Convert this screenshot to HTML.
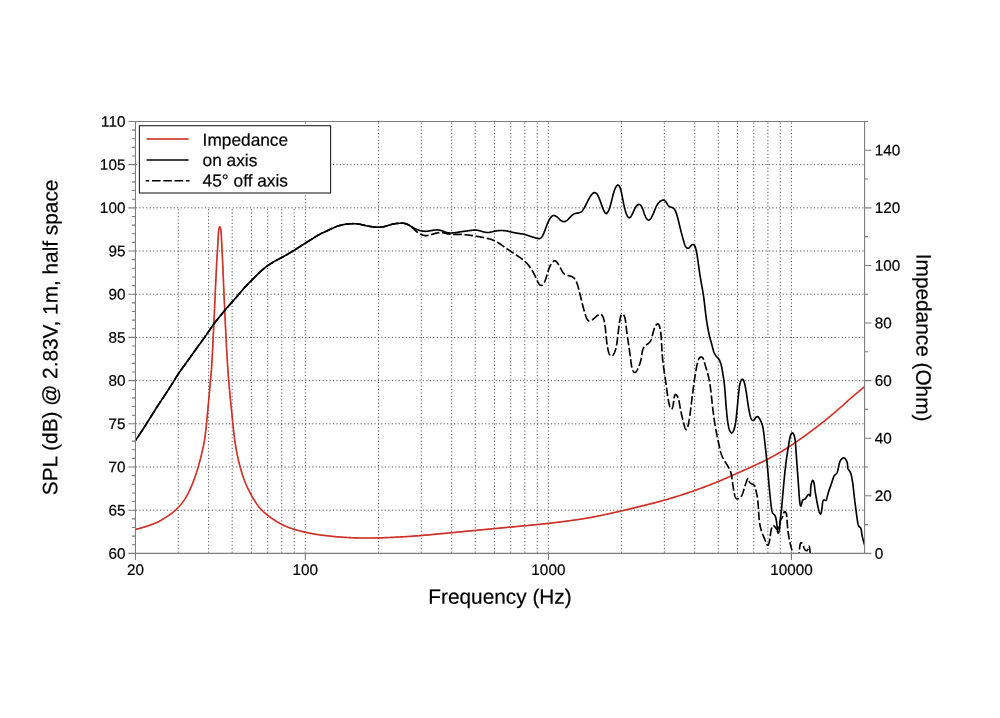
<!DOCTYPE html>
<html lang="en"><head><meta charset="utf-8"><title>Frequency response</title>
<style>html,body{margin:0;padding:0;background:#fff}body{width:1000px;height:718px;overflow:hidden}svg{display:block}text{font-family:'Liberation Sans', sans-serif;fill:#000}</style></head><body>
<svg width="1000" height="718" viewBox="0 0 1000 718">
<rect x="0" y="0" width="1000" height="718" fill="#ffffff"/>
<defs><clipPath id="plot"><rect x="135.45" y="121.45" width="729.15" height="432.25"/></clipPath></defs>
<path d="M135.75,510.20 H863.60 M135.75,467.01 H863.60 M135.75,423.81 H863.60 M135.75,380.62 H863.60 M135.75,337.42 H863.60 M135.75,294.23 H863.60 M135.75,251.03 H863.60 M135.75,207.84 H863.60 M135.75,164.64 H863.60" fill="none" stroke="#505050" stroke-width="1" stroke-dasharray="1.15 2.31"/>
<path d="M178.25,552.70 V208.44 M208.62,552.70 V208.44 M232.17,552.70 V208.44 M251.41,552.70 V208.44 M267.69,552.70 V208.44 M281.78,552.70 V208.44 M294.21,552.70 V208.44 M305.33,552.70 V122.25 M378.50,552.70 V122.25 M421.30,552.70 V122.25 M451.67,552.70 V122.25 M475.22,552.70 V122.25 M494.46,552.70 V122.25 M510.74,552.70 V122.25 M524.83,552.70 V122.25 M537.26,552.70 V122.25 M548.38,552.70 V122.25 M621.55,552.70 V122.25 M664.35,552.70 V122.25 M694.72,552.70 V122.25 M718.27,552.70 V122.25 M737.51,552.70 V122.25 M753.79,552.70 V122.25 M767.88,552.70 V122.25 M780.31,552.70 V122.25 M791.43,552.70 V122.25" fill="none" stroke="#505050" stroke-width="1" stroke-dasharray="1.15 2.31"/>
<g clip-path="url(#plot)" fill="none" stroke-linejoin="round">
<path d="M135.35,529.40 L135.75,529.31 L136.15,529.23 L136.55,529.14 L136.95,529.04 L137.35,528.95 L137.76,528.85 L138.16,528.76 L138.57,528.66 L138.98,528.55 L139.38,528.45 L139.79,528.34 L140.20,528.23 L140.62,528.12 L141.03,528.01 L141.44,527.90 L141.85,527.78 L142.27,527.67 L142.68,527.55 L143.10,527.43 L143.51,527.31 L143.92,527.18 L144.34,527.06 L144.75,526.93 L145.17,526.80 L145.58,526.67 L146.00,526.54 L146.41,526.41 L146.83,526.27 L147.24,526.14 L147.65,526.00 L148.07,525.87 L148.48,525.73 L148.89,525.59 L149.30,525.44 L149.71,525.30 L150.12,525.16 L150.52,525.01 L150.93,524.87 L151.34,524.72 L151.74,524.57 L152.14,524.42 L152.55,524.27 L152.95,524.12 L153.35,523.96 L153.75,523.80 L154.15,523.64 L154.55,523.48 L154.94,523.31 L155.34,523.14 L155.73,522.97 L156.13,522.79 L156.52,522.62 L156.91,522.44 L157.30,522.25 L157.69,522.06 L158.08,521.87 L158.47,521.67 L158.86,521.48 L159.25,521.27 L159.64,521.07 L160.02,520.86 L160.41,520.65 L160.80,520.43 L161.19,520.22 L161.57,519.99 L161.96,519.77 L162.35,519.54 L162.73,519.31 L163.12,519.08 L163.51,518.85 L163.90,518.61 L164.28,518.37 L164.67,518.13 L165.06,517.88 L165.45,517.64 L165.84,517.39 L166.23,517.14 L166.62,516.89 L167.01,516.63 L167.40,516.38 L167.78,516.12 L168.16,515.86 L168.55,515.60 L168.92,515.34 L169.30,515.08 L169.67,514.82 L170.04,514.55 L170.40,514.29 L170.76,514.03 L171.12,513.76 L171.47,513.50 L171.81,513.24 L172.15,512.97 L172.49,512.71 L172.82,512.45 L173.15,512.18 L173.47,511.92 L173.79,511.65 L174.10,511.38 L174.41,511.11 L174.72,510.84 L175.02,510.57 L175.33,510.30 L175.62,510.02 L175.92,509.75 L176.22,509.47 L176.51,509.18 L176.80,508.90 L177.09,508.61 L177.38,508.32 L177.67,508.02 L177.95,507.73 L178.24,507.43 L178.52,507.13 L178.80,506.82 L179.08,506.51 L179.36,506.20 L179.63,505.89 L179.91,505.58 L180.18,505.26 L180.45,504.94 L180.72,504.62 L180.99,504.30 L181.26,503.98 L181.52,503.65 L181.78,503.32 L182.04,503.00 L182.30,502.67 L182.55,502.34 L182.81,502.00 L183.06,501.67 L183.30,501.33 L183.55,500.99 L183.79,500.65 L184.04,500.31 L184.27,499.97 L184.51,499.62 L184.74,499.28 L184.98,498.93 L185.20,498.58 L185.43,498.22 L185.65,497.87 L185.87,497.51 L186.09,497.15 L186.31,496.78 L186.52,496.42 L186.73,496.05 L186.94,495.68 L187.14,495.31 L187.34,494.94 L187.54,494.56 L187.74,494.19 L187.94,493.81 L188.13,493.43 L188.32,493.05 L188.51,492.67 L188.70,492.28 L188.89,491.90 L189.07,491.51 L189.25,491.13 L189.43,490.74 L189.61,490.35 L189.79,489.96 L189.97,489.58 L190.15,489.19 L190.32,488.80 L190.50,488.40 L190.67,488.01 L190.84,487.62 L191.01,487.22 L191.18,486.83 L191.35,486.43 L191.52,486.03 L191.69,485.63 L191.86,485.23 L192.02,484.82 L192.19,484.41 L192.36,484.01 L192.52,483.59 L192.69,483.18 L192.85,482.77 L193.02,482.35 L193.18,481.93 L193.34,481.51 L193.50,481.09 L193.66,480.67 L193.82,480.24 L193.98,479.82 L194.14,479.40 L194.30,478.98 L194.45,478.56 L194.60,478.14 L194.76,477.72 L194.90,477.30 L195.05,476.89 L195.20,476.47 L195.34,476.06 L195.48,475.65 L195.62,475.25 L195.76,474.84 L195.89,474.44 L196.02,474.05 L196.15,473.65 L196.28,473.26 L196.41,472.87 L196.53,472.48 L196.65,472.10 L196.77,471.71 L196.89,471.33 L197.01,470.95 L197.13,470.57 L197.24,470.19 L197.36,469.81 L197.47,469.43 L197.58,469.06 L197.69,468.68 L197.80,468.31 L197.91,467.93 L198.02,467.56 L198.13,467.19 L198.24,466.81 L198.34,466.44 L198.45,466.07 L198.55,465.70 L198.66,465.33 L198.76,464.96 L198.86,464.59 L198.97,464.22 L199.07,463.85 L199.17,463.48 L199.27,463.11 L199.37,462.74 L199.47,462.38 L199.57,462.01 L199.67,461.64 L199.77,461.27 L199.87,460.89 L199.97,460.52 L200.07,460.14 L200.17,459.76 L200.27,459.37 L200.37,458.98 L200.47,458.59 L200.57,458.19 L200.67,457.78 L200.78,457.37 L200.89,456.95 L200.99,456.53 L201.10,456.10 L201.21,455.66 L201.32,455.21 L201.43,454.76 L201.55,454.30 L201.66,453.84 L201.77,453.37 L201.88,452.90 L202.00,452.42 L202.11,451.95 L202.22,451.47 L202.34,450.99 L202.45,450.51 L202.56,450.03 L202.66,449.55 L202.77,449.07 L202.88,448.59 L202.98,448.12 L203.08,447.65 L203.18,447.18 L203.28,446.71 L203.38,446.25 L203.47,445.79 L203.56,445.34 L203.65,444.88 L203.74,444.43 L203.82,443.98 L203.91,443.53 L203.99,443.08 L204.07,442.62 L204.15,442.17 L204.23,441.72 L204.30,441.26 L204.38,440.80 L204.45,440.34 L204.53,439.87 L204.60,439.40 L204.68,438.93 L204.75,438.45 L204.82,437.96 L204.89,437.47 L204.96,436.98 L205.03,436.48 L205.10,435.97 L205.17,435.47 L205.24,434.96 L205.31,434.45 L205.38,433.94 L205.44,433.43 L205.51,432.93 L205.57,432.42 L205.63,431.92 L205.70,431.43 L205.76,430.94 L205.81,430.45 L205.87,429.98 L205.93,429.51 L205.98,429.05 L206.03,428.60 L206.08,428.16 L206.13,427.73 L206.18,427.31 L206.22,426.90 L206.26,426.49 L206.31,426.10 L206.35,425.71 L206.39,425.32 L206.43,424.93 L206.46,424.54 L206.50,424.15 L206.54,423.75 L206.58,423.36 L206.62,422.95 L206.66,422.54 L206.70,422.12 L206.74,421.68 L206.78,421.24 L206.82,420.78 L206.86,420.30 L206.91,419.81 L206.96,419.31 L207.00,418.80 L207.05,418.27 L207.10,417.74 L207.15,417.20 L207.20,416.64 L207.25,416.09 L207.31,415.52 L207.36,414.95 L207.41,414.37 L207.47,413.79 L207.52,413.20 L207.57,412.62 L207.63,412.03 L207.68,411.44 L207.74,410.85 L207.79,410.26 L207.85,409.67 L207.90,409.09 L207.95,408.51 L208.01,407.93 L208.06,407.36 L208.11,406.80 L208.16,406.24 L208.22,405.68 L208.27,405.12 L208.32,404.57 L208.37,404.02 L208.42,403.47 L208.47,402.93 L208.52,402.38 L208.57,401.84 L208.62,401.29 L208.67,400.74 L208.72,400.20 L208.77,399.65 L208.83,399.10 L208.88,398.55 L208.93,397.99 L208.98,397.43 L209.03,396.87 L209.08,396.30 L209.13,395.73 L209.19,395.15 L209.24,394.57 L209.29,393.98 L209.35,393.38 L209.40,392.79 L209.45,392.18 L209.51,391.58 L209.56,390.97 L209.62,390.37 L209.67,389.76 L209.73,389.15 L209.78,388.54 L209.83,387.94 L209.89,387.33 L209.94,386.73 L209.99,386.13 L210.05,385.54 L210.10,384.95 L210.15,384.36 L210.20,383.78 L210.26,383.21 L210.31,382.64 L210.36,382.08 L210.41,381.54 L210.46,381.00 L210.50,380.47 L210.55,379.95 L210.60,379.44 L210.64,378.93 L210.69,378.44 L210.73,377.95 L210.78,377.46 L210.82,376.98 L210.86,376.50 L210.91,376.02 L210.95,375.55 L210.99,375.07 L211.03,374.59 L211.07,374.10 L211.11,373.61 L211.16,373.12 L211.20,372.62 L211.24,372.11 L211.28,371.59 L211.32,371.06 L211.36,370.52 L211.40,369.96 L211.44,369.39 L211.49,368.81 L211.53,368.22 L211.57,367.62 L211.61,367.00 L211.66,366.38 L211.70,365.75 L211.74,365.10 L211.78,364.45 L211.82,363.80 L211.87,363.13 L211.91,362.46 L211.95,361.79 L211.99,361.11 L212.03,360.43 L212.07,359.75 L212.11,359.06 L212.15,358.38 L212.19,357.69 L212.23,357.00 L212.27,356.32 L212.31,355.63 L212.34,354.95 L212.38,354.27 L212.42,353.60 L212.45,352.93 L212.49,352.26 L212.52,351.61 L212.55,350.95 L212.59,350.31 L212.62,349.67 L212.65,349.04 L212.68,348.41 L212.71,347.78 L212.74,347.17 L212.76,346.55 L212.79,345.95 L212.82,345.34 L212.85,344.74 L212.87,344.15 L212.90,343.56 L212.93,342.97 L212.95,342.39 L212.98,341.81 L213.01,341.23 L213.03,340.66 L213.06,340.08 L213.08,339.52 L213.11,338.95 L213.14,338.38 L213.16,337.82 L213.19,337.26 L213.21,336.70 L213.24,336.14 L213.27,335.58 L213.30,335.03 L213.32,334.47 L213.35,333.91 L213.38,333.35 L213.41,332.79 L213.43,332.23 L213.46,331.67 L213.49,331.11 L213.52,330.54 L213.55,329.97 L213.58,329.40 L213.61,328.82 L213.64,328.24 L213.67,327.66 L213.70,327.07 L213.73,326.48 L213.76,325.88 L213.79,325.28 L213.82,324.67 L213.85,324.05 L213.88,323.43 L213.91,322.80 L213.94,322.16 L213.97,321.52 L214.00,320.87 L214.03,320.21 L214.06,319.55 L214.10,318.88 L214.13,318.21 L214.16,317.53 L214.19,316.85 L214.22,316.16 L214.25,315.47 L214.28,314.78 L214.31,314.08 L214.35,313.38 L214.38,312.68 L214.41,311.97 L214.44,311.26 L214.47,310.56 L214.50,309.84 L214.53,309.13 L214.56,308.42 L214.60,307.71 L214.63,306.99 L214.66,306.28 L214.69,305.57 L214.72,304.86 L214.75,304.15 L214.78,303.44 L214.81,302.73 L214.84,302.03 L214.87,301.32 L214.90,300.62 L214.93,299.92 L214.96,299.23 L214.99,298.54 L215.02,297.85 L215.05,297.16 L215.08,296.48 L215.11,295.80 L215.14,295.13 L215.17,294.46 L215.20,293.79 L215.23,293.13 L215.26,292.47 L215.29,291.82 L215.32,291.18 L215.34,290.54 L215.37,289.90 L215.40,289.27 L215.43,288.65 L215.46,288.03 L215.49,287.42 L215.51,286.81 L215.54,286.22 L215.57,285.63 L215.60,285.04 L215.63,284.47 L215.65,283.90 L215.68,283.33 L215.71,282.78 L215.73,282.23 L215.76,281.68 L215.79,281.14 L215.82,280.60 L215.84,280.07 L215.87,279.54 L215.90,279.01 L215.92,278.48 L215.95,277.96 L215.98,277.44 L216.00,276.92 L216.03,276.40 L216.06,275.88 L216.08,275.36 L216.11,274.83 L216.13,274.31 L216.16,273.79 L216.19,273.26 L216.21,272.73 L216.24,272.20 L216.27,271.67 L216.29,271.13 L216.32,270.59 L216.34,270.05 L216.37,269.51 L216.40,268.97 L216.42,268.43 L216.45,267.89 L216.48,267.34 L216.50,266.80 L216.53,266.26 L216.56,265.72 L216.58,265.18 L216.61,264.64 L216.64,264.11 L216.66,263.58 L216.69,263.05 L216.72,262.52 L216.75,261.99 L216.77,261.47 L216.80,260.96 L216.83,260.44 L216.86,259.93 L216.89,259.43 L216.92,258.92 L216.94,258.43 L216.97,257.93 L217.00,257.44 L217.03,256.94 L217.06,256.46 L217.09,255.97 L217.12,255.49 L217.15,255.00 L217.18,254.52 L217.21,254.04 L217.24,253.56 L217.27,253.09 L217.30,252.61 L217.33,252.13 L217.36,251.66 L217.39,251.18 L217.42,250.71 L217.45,250.23 L217.48,249.76 L217.51,249.28 L217.54,248.80 L217.57,248.32 L217.60,247.84 L217.63,247.36 L217.66,246.88 L217.69,246.40 L217.72,245.91 L217.75,245.42 L217.77,244.93 L217.80,244.44 L217.83,243.95 L217.86,243.45 L217.89,242.95 L217.92,242.45 L217.95,241.95 L217.98,241.44 L218.00,240.93 L218.03,240.41 L218.06,239.90 L218.09,239.38 L218.12,238.86 L218.14,238.34 L218.17,237.83 L218.20,237.31 L218.23,236.81 L218.26,236.30 L218.29,235.81 L218.32,235.32 L218.35,234.84 L218.38,234.37 L218.41,233.91 L218.44,233.46 L218.47,233.02 L218.50,232.60 L218.54,232.20 L218.57,231.80 L218.61,231.43 L218.64,231.08 L218.68,230.74 L218.72,230.41 L218.76,230.10 L218.80,229.81 L218.85,229.52 L218.90,229.25 L218.95,228.98 L219.01,228.73 L219.07,228.48 L219.13,228.24 L219.20,228.00 L219.27,227.77 L219.35,227.55 L219.43,227.35 L219.52,227.18 L219.60,227.04 L219.69,226.94 L219.78,226.90 L219.87,226.92 L219.96,226.99 L220.04,227.10 L220.13,227.26 L220.21,227.45 L220.29,227.66 L220.37,227.89 L220.44,228.12 L220.50,228.36 L220.56,228.61 L220.62,228.86 L220.68,229.12 L220.73,229.39 L220.77,229.67 L220.82,229.96 L220.86,230.26 L220.90,230.58 L220.94,230.91 L220.98,231.26 L221.01,231.62 L221.05,232.01 L221.08,232.40 L221.12,232.82 L221.15,233.25 L221.18,233.69 L221.21,234.14 L221.25,234.61 L221.28,235.09 L221.31,235.57 L221.34,236.06 L221.37,236.56 L221.39,237.07 L221.42,237.58 L221.45,238.09 L221.48,238.61 L221.50,239.13 L221.53,239.65 L221.56,240.16 L221.58,240.68 L221.61,241.19 L221.64,241.70 L221.66,242.21 L221.69,242.71 L221.71,243.21 L221.74,243.71 L221.76,244.21 L221.78,244.70 L221.81,245.19 L221.83,245.68 L221.86,246.16 L221.88,246.65 L221.91,247.13 L221.93,247.61 L221.95,248.09 L221.98,248.57 L222.00,249.05 L222.03,249.53 L222.05,250.00 L222.07,250.48 L222.10,250.96 L222.12,251.43 L222.15,251.91 L222.17,252.38 L222.20,252.86 L222.22,253.34 L222.24,253.82 L222.27,254.29 L222.29,254.78 L222.32,255.26 L222.34,255.74 L222.37,256.23 L222.39,256.71 L222.42,257.20 L222.44,257.70 L222.47,258.19 L222.49,258.69 L222.51,259.19 L222.54,259.69 L222.56,260.20 L222.59,260.71 L222.61,261.23 L222.63,261.75 L222.66,262.27 L222.68,262.80 L222.70,263.33 L222.73,263.86 L222.75,264.39 L222.77,264.93 L222.80,265.47 L222.82,266.01 L222.84,266.55 L222.86,267.09 L222.88,267.63 L222.91,268.17 L222.93,268.72 L222.95,269.26 L222.97,269.80 L222.99,270.34 L223.02,270.88 L223.04,271.42 L223.06,271.95 L223.08,272.48 L223.10,273.01 L223.12,273.54 L223.14,274.07 L223.16,274.59 L223.19,275.11 L223.21,275.63 L223.23,276.15 L223.25,276.67 L223.27,277.20 L223.29,277.72 L223.31,278.24 L223.34,278.76 L223.36,279.29 L223.38,279.82 L223.40,280.35 L223.42,280.89 L223.45,281.43 L223.47,281.97 L223.49,282.52 L223.52,283.08 L223.54,283.64 L223.57,284.20 L223.59,284.78 L223.62,285.36 L223.64,285.94 L223.67,286.54 L223.69,287.14 L223.72,287.75 L223.75,288.36 L223.77,288.98 L223.80,289.61 L223.83,290.24 L223.86,290.88 L223.89,291.52 L223.92,292.17 L223.95,292.83 L223.98,293.49 L224.00,294.15 L224.03,294.82 L224.06,295.49 L224.09,296.17 L224.13,296.85 L224.16,297.53 L224.19,298.22 L224.22,298.91 L224.25,299.60 L224.28,300.30 L224.31,301.00 L224.34,301.70 L224.37,302.40 L224.40,303.11 L224.44,303.82 L224.47,304.53 L224.50,305.24 L224.53,305.95 L224.56,306.66 L224.59,307.38 L224.63,308.09 L224.66,308.80 L224.69,309.52 L224.72,310.23 L224.75,310.94 L224.78,311.64 L224.81,312.35 L224.85,313.06 L224.88,313.76 L224.91,314.46 L224.94,315.15 L224.97,315.84 L225.00,316.53 L225.03,317.22 L225.06,317.90 L225.09,318.57 L225.13,319.24 L225.16,319.91 L225.19,320.56 L225.22,321.22 L225.25,321.86 L225.28,322.50 L225.31,323.14 L225.34,323.76 L225.37,324.38 L225.40,324.99 L225.42,325.60 L225.45,326.20 L225.48,326.80 L225.51,327.39 L225.54,327.97 L225.57,328.55 L225.60,329.13 L225.63,329.71 L225.66,330.28 L225.68,330.84 L225.71,331.41 L225.74,331.97 L225.77,332.53 L225.80,333.09 L225.83,333.65 L225.86,334.21 L225.89,334.77 L225.91,335.33 L225.94,335.88 L225.97,336.44 L226.00,337.00 L226.03,337.56 L226.06,338.12 L226.09,338.69 L226.12,339.25 L226.15,339.82 L226.18,340.39 L226.21,340.96 L226.23,341.54 L226.27,342.12 L226.30,342.70 L226.33,343.29 L226.36,343.88 L226.39,344.47 L226.42,345.07 L226.45,345.67 L226.49,346.27 L226.52,346.88 L226.55,347.50 L226.58,348.12 L226.62,348.74 L226.65,349.37 L226.69,350.01 L226.72,350.65 L226.76,351.30 L226.80,351.96 L226.83,352.62 L226.87,353.28 L226.91,353.96 L226.95,354.63 L226.99,355.31 L227.03,356.00 L227.07,356.68 L227.11,357.37 L227.15,358.05 L227.19,358.74 L227.23,359.43 L227.27,360.11 L227.31,360.79 L227.36,361.47 L227.40,362.15 L227.44,362.82 L227.48,363.49 L227.52,364.15 L227.56,364.80 L227.60,365.45 L227.64,366.08 L227.68,366.71 L227.72,367.33 L227.76,367.94 L227.80,368.54 L227.84,369.13 L227.88,369.70 L227.92,370.26 L227.95,370.81 L227.99,371.34 L228.03,371.87 L228.06,372.38 L228.10,372.89 L228.14,373.38 L228.17,373.88 L228.21,374.36 L228.25,374.85 L228.28,375.33 L228.32,375.80 L228.36,376.28 L228.39,376.76 L228.43,377.24 L228.47,377.72 L228.51,378.21 L228.55,378.71 L228.59,379.20 L228.63,379.71 L228.68,380.23 L228.72,380.75 L228.77,381.29 L228.81,381.83 L228.86,382.39 L228.91,382.95 L228.96,383.52 L229.01,384.09 L229.06,384.68 L229.11,385.26 L229.16,385.86 L229.21,386.45 L229.27,387.05 L229.32,387.66 L229.38,388.26 L229.43,388.87 L229.49,389.48 L229.54,390.09 L229.60,390.69 L229.65,391.30 L229.71,391.91 L229.76,392.51 L229.82,393.11 L229.88,393.70 L229.93,394.30 L229.99,394.88 L230.04,395.46 L230.10,396.04 L230.16,396.61 L230.21,397.17 L230.27,397.74 L230.32,398.29 L230.38,398.85 L230.43,399.40 L230.48,399.95 L230.54,400.50 L230.59,401.05 L230.65,401.59 L230.70,402.14 L230.76,402.68 L230.82,403.23 L230.87,403.78 L230.93,404.33 L230.98,404.88 L231.04,405.43 L231.10,405.98 L231.15,406.54 L231.21,407.10 L231.27,407.67 L231.32,408.24 L231.38,408.81 L231.44,409.39 L231.50,409.98 L231.56,410.56 L231.62,411.14 L231.68,411.73 L231.74,412.32 L231.79,412.90 L231.85,413.48 L231.91,414.06 L231.97,414.64 L232.03,415.21 L232.08,415.78 L232.14,416.34 L232.19,416.90 L232.25,417.45 L232.30,417.99 L232.35,418.52 L232.41,419.04 L232.46,419.55 L232.51,420.05 L232.55,420.54 L232.60,421.02 L232.65,421.48 L232.69,421.93 L232.74,422.37 L232.78,422.80 L232.82,423.22 L232.86,423.63 L232.90,424.04 L232.94,424.44 L232.98,424.83 L233.02,425.22 L233.06,425.61 L233.10,426.00 L233.14,426.38 L233.17,426.77 L233.21,427.16 L233.25,427.56 L233.30,427.95 L233.34,428.36 L233.38,428.77 L233.42,429.18 L233.47,429.60 L233.51,430.02 L233.56,430.44 L233.60,430.87 L233.65,431.31 L233.70,431.75 L233.75,432.19 L233.80,432.63 L233.85,433.08 L233.90,433.52 L233.95,433.97 L234.01,434.42 L234.06,434.88 L234.12,435.33 L234.17,435.79 L234.23,436.24 L234.29,436.70 L234.35,437.16 L234.41,437.61 L234.47,438.07 L234.53,438.53 L234.60,438.99 L234.66,439.45 L234.72,439.91 L234.79,440.37 L234.86,440.83 L234.93,441.29 L234.99,441.76 L235.06,442.22 L235.13,442.68 L235.21,443.15 L235.28,443.61 L235.35,444.08 L235.43,444.55 L235.50,445.01 L235.58,445.48 L235.66,445.95 L235.73,446.42 L235.81,446.89 L235.89,447.36 L235.97,447.82 L236.05,448.29 L236.13,448.76 L236.22,449.22 L236.30,449.69 L236.38,450.15 L236.46,450.61 L236.55,451.07 L236.63,451.53 L236.72,451.98 L236.80,452.43 L236.89,452.88 L236.97,453.33 L237.06,453.77 L237.14,454.21 L237.23,454.64 L237.31,455.07 L237.40,455.50 L237.48,455.93 L237.57,456.35 L237.65,456.76 L237.74,457.17 L237.82,457.58 L237.91,457.99 L238.00,458.39 L238.08,458.78 L238.17,459.17 L238.26,459.56 L238.35,459.94 L238.44,460.32 L238.53,460.69 L238.62,461.06 L238.71,461.43 L238.80,461.79 L238.89,462.14 L238.98,462.50 L239.07,462.85 L239.17,463.20 L239.26,463.56 L239.36,463.91 L239.46,464.26 L239.55,464.62 L239.65,464.97 L239.75,465.34 L239.85,465.70 L239.95,466.07 L240.06,466.45 L240.16,466.83 L240.27,467.22 L240.37,467.61 L240.48,468.01 L240.59,468.41 L240.70,468.82 L240.82,469.23 L240.93,469.64 L241.04,470.06 L241.16,470.48 L241.28,470.90 L241.40,471.32 L241.52,471.75 L241.64,472.17 L241.77,472.59 L241.90,473.02 L242.02,473.44 L242.15,473.86 L242.29,474.27 L242.42,474.69 L242.56,475.10 L242.69,475.51 L242.83,475.92 L242.97,476.32 L243.11,476.73 L243.25,477.13 L243.40,477.53 L243.54,477.92 L243.68,478.32 L243.83,478.71 L243.97,479.10 L244.12,479.48 L244.27,479.87 L244.41,480.25 L244.56,480.63 L244.70,481.01 L244.85,481.38 L244.99,481.76 L245.14,482.13 L245.28,482.50 L245.43,482.86 L245.58,483.23 L245.72,483.60 L245.87,483.96 L246.02,484.32 L246.17,484.68 L246.33,485.04 L246.48,485.40 L246.64,485.76 L246.80,486.12 L246.96,486.48 L247.12,486.83 L247.29,487.19 L247.46,487.55 L247.63,487.90 L247.80,488.26 L247.98,488.61 L248.15,488.95 L248.32,489.30 L248.49,489.64 L248.66,489.97 L248.83,490.29 L248.99,490.61 L249.15,490.92 L249.30,491.22 L249.45,491.51 L249.60,491.79 L249.73,492.06 L249.86,492.32 L249.99,492.57 L250.11,492.82 L250.23,493.06 L250.35,493.30 L250.48,493.54 L250.60,493.79 L250.74,494.05 L250.88,494.32 L251.03,494.61 L251.19,494.91 L251.36,495.23 L251.55,495.57 L251.75,495.93 L251.97,496.31 L252.19,496.72 L252.44,497.14 L252.69,497.57 L252.95,498.02 L253.23,498.48 L253.52,498.96 L253.81,499.44 L254.11,499.93 L254.43,500.43 L254.75,500.94 L255.07,501.45 L255.40,501.96 L255.74,502.47 L256.09,502.98 L256.43,503.49 L256.79,504.00 L257.14,504.50 L257.50,505.00 L257.86,505.48 L258.22,505.96 L258.58,506.43 L258.94,506.89 L259.30,507.33 L259.67,507.77 L260.03,508.20 L260.40,508.62 L260.77,509.03 L261.14,509.43 L261.52,509.82 L261.90,510.21 L262.28,510.59 L262.67,510.97 L263.06,511.34 L263.45,511.71 L263.85,512.08 L264.26,512.44 L264.67,512.80 L265.09,513.16 L265.51,513.52 L265.94,513.87 L266.38,514.23 L266.82,514.59 L267.28,514.95 L267.74,515.31 L268.20,515.67 L268.68,516.03 L269.16,516.40 L269.66,516.77 L270.15,517.13 L270.66,517.50 L271.17,517.87 L271.68,518.23 L272.20,518.60 L272.73,518.96 L273.26,519.33 L273.79,519.69 L274.33,520.04 L274.87,520.40 L275.41,520.75 L275.96,521.10 L276.50,521.44 L277.05,521.78 L277.60,522.11 L278.15,522.44 L278.71,522.76 L279.26,523.08 L279.81,523.39 L280.36,523.70 L280.91,523.99 L281.46,524.28 L282.01,524.56 L282.55,524.83 L283.10,525.10 L283.64,525.36 L284.18,525.61 L284.72,525.85 L285.26,526.09 L285.79,526.32 L286.33,526.54 L286.86,526.76 L287.39,526.97 L287.92,527.18 L288.45,527.38 L288.97,527.58 L289.50,527.77 L290.02,527.96 L290.54,528.14 L291.07,528.32 L291.58,528.49 L292.10,528.67 L292.62,528.83 L293.13,529.00 L293.65,529.16 L294.16,529.32 L294.67,529.47 L295.18,529.63 L295.69,529.78 L296.20,529.93 L296.71,530.08 L297.21,530.22 L297.72,530.36 L298.23,530.50 L298.74,530.64 L299.25,530.78 L299.76,530.91 L300.27,531.05 L300.78,531.18 L301.29,531.31 L301.80,531.43 L302.32,531.56 L302.83,531.69 L303.35,531.81 L303.87,531.93 L304.40,532.05 L304.92,532.17 L305.45,532.29 L305.98,532.41 L306.52,532.52 L307.05,532.64 L307.59,532.75 L308.14,532.86 L308.68,532.98 L309.23,533.09 L309.78,533.19 L310.33,533.30 L310.88,533.41 L311.44,533.51 L311.99,533.61 L312.55,533.72 L313.11,533.82 L313.67,533.91 L314.24,534.01 L314.80,534.11 L315.36,534.20 L315.93,534.29 L316.50,534.38 L317.07,534.47 L317.63,534.56 L318.20,534.64 L318.77,534.73 L319.34,534.81 L319.91,534.89 L320.48,534.96 L321.05,535.04 L321.61,535.11 L322.17,535.18 L322.73,535.25 L323.28,535.32 L323.83,535.39 L324.37,535.46 L324.91,535.52 L325.44,535.58 L325.95,535.64 L326.47,535.70 L326.97,535.76 L327.46,535.81 L327.94,535.87 L328.41,535.92 L328.87,535.97 L329.31,536.02 L329.74,536.07 L330.16,536.12 L330.56,536.16 L330.95,536.21 L331.34,536.25 L331.71,536.29 L332.09,536.34 L332.46,536.38 L332.83,536.42 L333.20,536.46 L333.57,536.50 L333.96,536.54 L334.35,536.58 L334.76,536.62 L335.18,536.66 L335.61,536.70 L336.07,536.74 L336.54,536.78 L337.04,536.82 L337.56,536.86 L338.11,536.91 L338.67,536.95 L339.26,536.99 L339.86,537.04 L340.49,537.08 L341.13,537.13 L341.78,537.17 L342.45,537.22 L343.13,537.26 L343.83,537.30 L344.53,537.35 L345.25,537.39 L345.97,537.43 L346.70,537.47 L347.43,537.51 L348.17,537.55 L348.92,537.59 L349.66,537.63 L350.41,537.67 L351.15,537.70 L351.90,537.73 L352.64,537.77 L353.38,537.80 L354.11,537.82 L354.84,537.85 L355.56,537.87 L356.27,537.90 L356.97,537.92 L357.66,537.93 L358.34,537.95 L359.02,537.96 L359.68,537.98 L360.33,537.99 L360.97,537.99 L361.60,538.00 L362.22,538.01 L362.83,538.01 L363.43,538.02 L364.01,538.02 L364.59,538.02 L365.16,538.02 L365.71,538.02 L366.26,538.02 L366.79,538.02 L367.32,538.02 L367.83,538.01 L368.33,538.01 L368.82,538.01 L369.30,538.01 L369.77,538.00 L370.23,538.00 L370.67,538.00 L371.11,538.00 L371.54,538.00 L371.96,537.99 L372.38,537.99 L372.79,537.99 L373.20,537.99 L373.62,537.99 L374.03,537.98 L374.45,537.98 L374.88,537.98 L375.31,537.97 L375.76,537.96 L376.21,537.96 L376.68,537.95 L377.17,537.94 L377.67,537.93 L378.19,537.92 L378.73,537.90 L379.29,537.89 L379.87,537.87 L380.48,537.85 L381.10,537.83 L381.75,537.81 L382.41,537.78 L383.08,537.76 L383.78,537.73 L384.48,537.70 L385.20,537.67 L385.93,537.64 L386.67,537.61 L387.42,537.58 L388.18,537.55 L388.95,537.51 L389.73,537.48 L390.51,537.44 L391.29,537.41 L392.08,537.37 L392.87,537.33 L393.66,537.29 L394.45,537.25 L395.24,537.21 L396.02,537.17 L396.81,537.13 L397.59,537.09 L398.36,537.05 L399.13,537.01 L399.89,536.97 L400.64,536.93 L401.38,536.89 L402.11,536.85 L402.83,536.81 L403.54,536.77 L404.25,536.73 L404.94,536.69 L405.63,536.64 L406.32,536.60 L407.00,536.56 L407.67,536.52 L408.34,536.48 L409.01,536.43 L409.68,536.39 L410.35,536.34 L411.01,536.30 L411.68,536.25 L412.35,536.21 L413.02,536.16 L413.69,536.11 L414.37,536.06 L415.05,536.01 L415.73,535.96 L416.43,535.90 L417.13,535.85 L417.83,535.79 L418.55,535.74 L419.27,535.68 L420.00,535.62 L420.75,535.55 L421.50,535.49 L422.27,535.43 L423.05,535.36 L423.84,535.29 L424.64,535.22 L425.45,535.15 L426.27,535.08 L427.10,535.01 L427.93,534.93 L428.78,534.85 L429.62,534.78 L430.48,534.70 L431.34,534.62 L432.20,534.54 L433.07,534.46 L433.95,534.38 L434.82,534.30 L435.70,534.22 L436.58,534.14 L437.46,534.05 L438.34,533.97 L439.22,533.89 L440.10,533.80 L440.98,533.72 L441.86,533.64 L442.73,533.55 L443.61,533.47 L444.47,533.39 L445.34,533.30 L446.20,533.22 L447.05,533.14 L447.90,533.06 L448.74,532.98 L449.57,532.90 L450.39,532.82 L451.21,532.74 L452.02,532.66 L452.81,532.58 L453.60,532.51 L454.38,532.43 L455.16,532.36 L455.92,532.28 L456.68,532.21 L457.44,532.13 L458.19,532.06 L458.93,531.99 L459.67,531.92 L460.41,531.85 L461.14,531.78 L461.87,531.70 L462.60,531.63 L463.33,531.56 L464.06,531.49 L464.79,531.42 L465.52,531.35 L466.25,531.28 L466.98,531.21 L467.72,531.14 L468.45,531.07 L469.19,531.00 L469.94,530.93 L470.69,530.85 L471.44,530.78 L472.20,530.71 L472.97,530.63 L473.74,530.56 L474.52,530.48 L475.31,530.41 L476.11,530.33 L476.92,530.25 L477.73,530.18 L478.55,530.10 L479.38,530.02 L480.22,529.94 L481.07,529.86 L481.92,529.78 L482.78,529.70 L483.65,529.61 L484.52,529.53 L485.40,529.45 L486.29,529.36 L487.18,529.28 L488.08,529.19 L488.99,529.11 L489.90,529.02 L490.81,528.93 L491.73,528.85 L492.66,528.76 L493.59,528.67 L494.52,528.58 L495.46,528.50 L496.41,528.41 L497.35,528.32 L498.31,528.23 L499.26,528.14 L500.22,528.05 L501.18,527.96 L502.15,527.87 L503.11,527.78 L504.08,527.69 L505.06,527.60 L506.03,527.51 L507.01,527.42 L507.99,527.32 L508.97,527.23 L509.95,527.14 L510.93,527.05 L511.91,526.96 L512.90,526.87 L513.88,526.78 L514.87,526.69 L515.85,526.59 L516.84,526.50 L517.83,526.41 L518.81,526.32 L519.79,526.23 L520.78,526.14 L521.76,526.04 L522.74,525.95 L523.72,525.86 L524.70,525.77 L525.67,525.68 L526.64,525.58 L527.62,525.49 L528.58,525.40 L529.55,525.31 L530.51,525.21 L531.47,525.12 L532.42,525.03 L533.38,524.94 L534.32,524.84 L535.27,524.75 L536.21,524.66 L537.14,524.56 L538.07,524.47 L539.00,524.38 L539.92,524.28 L540.83,524.19 L541.74,524.09 L542.64,524.00 L543.54,523.91 L544.43,523.81 L545.31,523.72 L546.19,523.62 L547.06,523.53 L547.92,523.43 L548.78,523.34 L549.63,523.24 L550.47,523.14 L551.30,523.05 L552.13,522.95 L552.95,522.86 L553.76,522.76 L554.57,522.66 L555.37,522.57 L556.16,522.47 L556.94,522.37 L557.72,522.28 L558.49,522.18 L559.26,522.09 L560.02,521.99 L560.77,521.90 L561.52,521.80 L562.26,521.70 L562.99,521.61 L563.72,521.51 L564.44,521.42 L565.16,521.32 L565.87,521.23 L566.57,521.14 L567.27,521.04 L567.96,520.95 L568.65,520.86 L569.33,520.77 L570.00,520.67 L570.67,520.58 L571.34,520.49 L572.00,520.40 L572.65,520.31 L573.30,520.22 L573.95,520.13 L574.59,520.04 L575.23,519.95 L575.87,519.86 L576.50,519.77 L577.14,519.68 L577.77,519.59 L578.40,519.50 L579.03,519.41 L579.66,519.31 L580.30,519.22 L580.93,519.12 L581.57,519.02 L582.21,518.92 L582.85,518.82 L583.50,518.72 L584.15,518.61 L584.80,518.51 L585.46,518.40 L586.13,518.28 L586.80,518.17 L587.48,518.05 L588.17,517.93 L588.87,517.81 L589.57,517.68 L590.28,517.55 L591.00,517.41 L591.73,517.28 L592.47,517.14 L593.22,516.99 L593.98,516.85 L594.75,516.70 L595.52,516.54 L596.30,516.39 L597.09,516.23 L597.89,516.07 L598.70,515.90 L599.52,515.73 L600.34,515.56 L601.17,515.39 L602.01,515.21 L602.85,515.03 L603.71,514.85 L604.57,514.67 L605.44,514.48 L606.31,514.29 L607.19,514.10 L608.08,513.90 L608.97,513.71 L609.87,513.51 L610.78,513.31 L611.70,513.10 L612.62,512.90 L613.54,512.69 L614.47,512.48 L615.41,512.27 L616.35,512.05 L617.30,511.84 L618.26,511.62 L619.22,511.40 L620.18,511.18 L621.15,510.96 L622.13,510.73 L623.11,510.51 L624.09,510.28 L625.08,510.05 L626.07,509.82 L627.06,509.59 L628.06,509.35 L629.07,509.12 L630.07,508.88 L631.08,508.64 L632.09,508.40 L633.10,508.16 L634.11,507.92 L635.13,507.68 L636.14,507.43 L637.16,507.19 L638.18,506.94 L639.20,506.69 L640.22,506.45 L641.23,506.20 L642.25,505.94 L643.27,505.69 L644.29,505.44 L645.30,505.19 L646.31,504.93 L647.33,504.68 L648.34,504.42 L649.34,504.17 L650.35,503.91 L651.35,503.65 L652.35,503.39 L653.34,503.13 L654.34,502.87 L655.32,502.61 L656.31,502.35 L657.29,502.09 L658.26,501.83 L659.23,501.57 L660.20,501.31 L661.16,501.05 L662.11,500.78 L663.06,500.52 L664.00,500.26 L664.93,499.99 L665.86,499.73 L666.78,499.47 L667.69,499.20 L668.60,498.94 L669.51,498.68 L670.40,498.41 L671.29,498.15 L672.18,497.88 L673.06,497.62 L673.93,497.35 L674.80,497.09 L675.66,496.82 L676.52,496.56 L677.37,496.29 L678.21,496.03 L679.06,495.76 L679.89,495.49 L680.73,495.23 L681.55,494.96 L682.38,494.69 L683.19,494.43 L684.01,494.16 L684.82,493.89 L685.62,493.62 L686.43,493.36 L687.22,493.09 L688.02,492.82 L688.81,492.55 L689.59,492.28 L690.38,492.01 L691.16,491.75 L691.93,491.48 L692.71,491.21 L693.48,490.94 L694.24,490.67 L695.01,490.40 L695.77,490.13 L696.53,489.86 L697.29,489.58 L698.04,489.31 L698.79,489.04 L699.54,488.77 L700.28,488.50 L701.03,488.23 L701.77,487.95 L702.50,487.68 L703.24,487.41 L703.97,487.13 L704.70,486.86 L705.43,486.59 L706.15,486.31 L706.88,486.04 L707.60,485.76 L708.31,485.48 L709.03,485.21 L709.74,484.93 L710.45,484.66 L711.16,484.38 L711.86,484.10 L712.57,483.82 L713.27,483.54 L713.96,483.27 L714.66,482.99 L715.35,482.71 L716.04,482.43 L716.73,482.14 L717.42,481.86 L718.10,481.58 L718.78,481.30 L719.46,481.02 L720.14,480.73 L720.81,480.45 L721.49,480.17 L722.16,479.88 L722.83,479.60 L723.49,479.31 L724.16,479.03 L724.82,478.74 L725.48,478.46 L726.14,478.17 L726.79,477.89 L727.44,477.61 L728.09,477.32 L728.74,477.04 L729.39,476.75 L730.04,476.47 L730.68,476.18 L731.32,475.90 L731.96,475.62 L732.60,475.33 L733.23,475.05 L733.86,474.77 L734.50,474.49 L735.12,474.21 L735.75,473.93 L736.38,473.65 L737.00,473.37 L737.62,473.09 L738.24,472.81 L738.86,472.54 L739.47,472.26 L740.09,471.99 L740.70,471.71 L741.31,471.44 L741.92,471.17 L742.53,470.89 L743.13,470.62 L743.73,470.35 L744.33,470.08 L744.93,469.81 L745.53,469.54 L746.12,469.28 L746.71,469.01 L747.31,468.74 L747.89,468.48 L748.48,468.21 L749.07,467.95 L749.65,467.69 L750.23,467.42 L750.81,467.16 L751.38,466.90 L751.96,466.64 L752.53,466.38 L753.10,466.12 L753.67,465.86 L754.24,465.60 L754.80,465.34 L755.36,465.09 L755.92,464.83 L756.48,464.57 L757.04,464.32 L757.60,464.06 L758.15,463.80 L758.70,463.54 L759.25,463.29 L759.80,463.03 L760.35,462.77 L760.90,462.51 L761.45,462.25 L761.99,461.99 L762.54,461.73 L763.08,461.46 L763.62,461.20 L764.17,460.93 L764.71,460.66 L765.25,460.39 L765.79,460.12 L766.33,459.85 L766.87,459.58 L767.42,459.30 L767.96,459.02 L768.50,458.74 L769.04,458.45 L769.58,458.17 L770.12,457.88 L770.65,457.59 L771.19,457.30 L771.72,457.01 L772.26,456.72 L772.79,456.43 L773.31,456.14 L773.84,455.85 L774.36,455.56 L774.88,455.27 L775.39,454.98 L775.90,454.69 L776.41,454.40 L776.91,454.11 L777.41,453.83 L777.90,453.55 L778.39,453.27 L778.87,452.99 L779.35,452.71 L779.81,452.44 L780.28,452.17 L780.73,451.91 L781.18,451.64 L781.63,451.38 L782.07,451.12 L782.51,450.86 L782.95,450.60 L783.38,450.34 L783.82,450.08 L784.26,449.81 L784.70,449.54 L785.14,449.27 L785.59,448.99 L786.05,448.71 L786.51,448.42 L786.98,448.12 L787.46,447.82 L787.95,447.51 L788.44,447.18 L788.96,446.85 L789.48,446.51 L790.02,446.15 L790.58,445.79 L791.15,445.40 L791.74,445.01 L792.34,444.60 L792.97,444.18 L793.61,443.74 L794.26,443.29 L794.94,442.83 L795.62,442.35 L796.32,441.86 L797.04,441.37 L797.76,440.86 L798.50,440.34 L799.25,439.81 L800.01,439.27 L800.78,438.73 L801.56,438.17 L802.34,437.61 L803.14,437.04 L803.94,436.47 L804.75,435.88 L805.56,435.29 L806.37,434.70 L807.20,434.10 L808.02,433.50 L808.85,432.89 L809.68,432.28 L810.51,431.67 L811.34,431.05 L812.17,430.43 L813.00,429.81 L813.82,429.19 L814.65,428.57 L815.47,427.95 L816.29,427.33 L817.10,426.71 L817.91,426.09 L818.71,425.47 L819.51,424.86 L820.30,424.25 L821.08,423.64 L821.85,423.03 L822.61,422.43 L823.37,421.84 L824.11,421.24 L824.84,420.66 L825.57,420.07 L826.28,419.49 L826.99,418.92 L827.69,418.35 L828.38,417.78 L829.06,417.22 L829.74,416.66 L830.41,416.10 L831.07,415.55 L831.72,415.00 L832.37,414.45 L833.01,413.90 L833.65,413.36 L834.28,412.82 L834.90,412.29 L835.52,411.76 L836.13,411.23 L836.74,410.70 L837.35,410.17 L837.95,409.65 L838.55,409.12 L839.14,408.60 L839.73,408.09 L840.32,407.57 L840.90,407.05 L841.48,406.54 L842.06,406.03 L842.64,405.52 L843.21,405.01 L843.79,404.50 L844.36,403.99 L844.93,403.49 L845.50,402.98 L846.07,402.47 L846.64,401.97 L847.21,401.46 L847.78,400.96 L848.35,400.45 L848.92,399.95 L849.49,399.45 L850.07,398.94 L850.64,398.44 L851.22,397.93 L851.80,397.43 L852.38,396.92 L852.96,396.41 L853.55,395.91 L854.14,395.40 L854.73,394.89 L855.33,394.38 L855.93,393.86 L856.54,393.35 L857.15,392.84 L857.76,392.32 L858.38,391.80 L859.00,391.28 L859.63,390.76 L860.27,390.23 L860.91,389.71 L861.56,389.18 L862.21,388.65 L862.87,388.12 L863.54,387.58 L864.22,387.04 L864.90,386.50" stroke="#ea463c" stroke-width="1.7"/>
<path d="M135.35,529.40 L135.75,529.31 L136.15,529.23 L136.55,529.14 L136.95,529.04 L137.35,528.95 L137.76,528.85 L138.16,528.76 L138.57,528.66 L138.98,528.55 L139.38,528.45 L139.79,528.34 L140.20,528.23 L140.62,528.12 L141.03,528.01 L141.44,527.90 L141.85,527.78 L142.27,527.67 L142.68,527.55 L143.10,527.43 L143.51,527.31 L143.92,527.18 L144.34,527.06 L144.75,526.93 L145.17,526.80 L145.58,526.67 L146.00,526.54 L146.41,526.41 L146.83,526.27 L147.24,526.14 L147.65,526.00 L148.07,525.87 L148.48,525.73 L148.89,525.59 L149.30,525.44 L149.71,525.30 L150.12,525.16 L150.52,525.01 L150.93,524.87 L151.34,524.72 L151.74,524.57 L152.14,524.42 L152.55,524.27 L152.95,524.12 L153.35,523.96 L153.75,523.80 L154.15,523.64 L154.55,523.48 L154.94,523.31 L155.34,523.14 L155.73,522.97 L156.13,522.79 L156.52,522.62 L156.91,522.44 L157.30,522.25 L157.69,522.06 L158.08,521.87 L158.47,521.67 L158.86,521.48 L159.25,521.27 L159.64,521.07 L160.02,520.86 L160.41,520.65 L160.80,520.43 L161.19,520.22 L161.57,519.99 L161.96,519.77 L162.35,519.54 L162.73,519.31 L163.12,519.08 L163.51,518.85 L163.90,518.61 L164.28,518.37 L164.67,518.13 L165.06,517.88 L165.45,517.64 L165.84,517.39 L166.23,517.14 L166.62,516.89 L167.01,516.63 L167.40,516.38 L167.78,516.12 L168.16,515.86 L168.55,515.60 L168.92,515.34 L169.30,515.08 L169.67,514.82 L170.04,514.55 L170.40,514.29 L170.76,514.03 L171.12,513.76 L171.47,513.50 L171.81,513.24 L172.15,512.97 L172.49,512.71 L172.82,512.45 L173.15,512.18 L173.47,511.92 L173.79,511.65 L174.10,511.38 L174.41,511.11 L174.72,510.84 L175.02,510.57 L175.33,510.30 L175.62,510.02 L175.92,509.75 L176.22,509.47 L176.51,509.18 L176.80,508.90 L177.09,508.61 L177.38,508.32 L177.67,508.02 L177.95,507.73 L178.24,507.43 L178.52,507.13 L178.80,506.82 L179.08,506.51 L179.36,506.20 L179.63,505.89 L179.91,505.58 L180.18,505.26 L180.45,504.94 L180.72,504.62 L180.99,504.30 L181.26,503.98 L181.52,503.65 L181.78,503.32 L182.04,503.00 L182.30,502.67 L182.55,502.34 L182.81,502.00 L183.06,501.67 L183.30,501.33 L183.55,500.99 L183.79,500.65 L184.04,500.31 L184.27,499.97 L184.51,499.62 L184.74,499.28 L184.98,498.93 L185.20,498.58 L185.43,498.22 L185.65,497.87 L185.87,497.51 L186.09,497.15 L186.31,496.78 L186.52,496.42 L186.73,496.05 L186.94,495.68 L187.14,495.31 L187.34,494.94 L187.54,494.56 L187.74,494.19 L187.94,493.81 L188.13,493.43 L188.32,493.05 L188.51,492.67 L188.70,492.28 L188.89,491.90 L189.07,491.51 L189.25,491.13 L189.43,490.74 L189.61,490.35 L189.79,489.96 L189.97,489.58 L190.15,489.19 L190.32,488.80 L190.50,488.40 L190.67,488.01 L190.84,487.62 L191.01,487.22 L191.18,486.83 L191.35,486.43 L191.52,486.03 L191.69,485.63 L191.86,485.23 L192.02,484.82 L192.19,484.41 L192.36,484.01 L192.52,483.59 L192.69,483.18 L192.85,482.77 L193.02,482.35 L193.18,481.93 L193.34,481.51 L193.50,481.09 L193.66,480.67 L193.82,480.24 L193.98,479.82 L194.14,479.40 L194.30,478.98 L194.45,478.56 L194.60,478.14 L194.76,477.72 L194.90,477.30 L195.05,476.89 L195.20,476.47 L195.34,476.06 L195.48,475.65 L195.62,475.25 L195.76,474.84 L195.89,474.44 L196.02,474.05 L196.15,473.65 L196.28,473.26 L196.41,472.87 L196.53,472.48 L196.65,472.10 L196.77,471.71 L196.89,471.33 L197.01,470.95 L197.13,470.57 L197.24,470.19 L197.36,469.81 L197.47,469.43 L197.58,469.06 L197.69,468.68 L197.80,468.31 L197.91,467.93 L198.02,467.56 L198.13,467.19 L198.24,466.81 L198.34,466.44 L198.45,466.07 L198.55,465.70 L198.66,465.33 L198.76,464.96 L198.86,464.59 L198.97,464.22 L199.07,463.85 L199.17,463.48 L199.27,463.11 L199.37,462.74 L199.47,462.38 L199.57,462.01 L199.67,461.64 L199.77,461.27 L199.87,460.89 L199.97,460.52 L200.07,460.14 L200.17,459.76 L200.27,459.37 L200.37,458.98 L200.47,458.59 L200.57,458.19 L200.67,457.78 L200.78,457.37 L200.89,456.95 L200.99,456.53 L201.10,456.10 L201.21,455.66 L201.32,455.21 L201.43,454.76 L201.55,454.30 L201.66,453.84 L201.77,453.37 L201.88,452.90 L202.00,452.42 L202.11,451.95 L202.22,451.47 L202.34,450.99 L202.45,450.51 L202.56,450.03 L202.66,449.55 L202.77,449.07 L202.88,448.59 L202.98,448.12 L203.08,447.65 L203.18,447.18 L203.28,446.71 L203.38,446.25 L203.47,445.79 L203.56,445.34 L203.65,444.88 L203.74,444.43 L203.82,443.98 L203.91,443.53 L203.99,443.08 L204.07,442.62 L204.15,442.17 L204.23,441.72 L204.30,441.26 L204.38,440.80 L204.45,440.34 L204.53,439.87 L204.60,439.40 L204.68,438.93 L204.75,438.45 L204.82,437.96 L204.89,437.47 L204.96,436.98 L205.03,436.48 L205.10,435.97 L205.17,435.47 L205.24,434.96 L205.31,434.45 L205.38,433.94 L205.44,433.43 L205.51,432.93 L205.57,432.42 L205.63,431.92 L205.70,431.43 L205.76,430.94 L205.81,430.45 L205.87,429.98 L205.93,429.51 L205.98,429.05 L206.03,428.60 L206.08,428.16 L206.13,427.73 L206.18,427.31 L206.22,426.90 L206.26,426.49 L206.31,426.10 L206.35,425.71 L206.39,425.32 L206.43,424.93 L206.46,424.54 L206.50,424.15 L206.54,423.75 L206.58,423.36 L206.62,422.95 L206.66,422.54 L206.70,422.12 L206.74,421.68 L206.78,421.24 L206.82,420.78 L206.86,420.30 L206.91,419.81 L206.96,419.31 L207.00,418.80 L207.05,418.27 L207.10,417.74 L207.15,417.20 L207.20,416.64 L207.25,416.09 L207.31,415.52 L207.36,414.95 L207.41,414.37 L207.47,413.79 L207.52,413.20 L207.57,412.62 L207.63,412.03 L207.68,411.44 L207.74,410.85 L207.79,410.26 L207.85,409.67 L207.90,409.09 L207.95,408.51 L208.01,407.93 L208.06,407.36 L208.11,406.80 L208.16,406.24 L208.22,405.68 L208.27,405.12 L208.32,404.57 L208.37,404.02 L208.42,403.47 L208.47,402.93 L208.52,402.38 L208.57,401.84 L208.62,401.29 L208.67,400.74 L208.72,400.20 L208.77,399.65 L208.83,399.10 L208.88,398.55 L208.93,397.99 L208.98,397.43 L209.03,396.87 L209.08,396.30 L209.13,395.73 L209.19,395.15 L209.24,394.57 L209.29,393.98 L209.35,393.38 L209.40,392.79 L209.45,392.18 L209.51,391.58 L209.56,390.97 L209.62,390.37 L209.67,389.76 L209.73,389.15 L209.78,388.54 L209.83,387.94 L209.89,387.33 L209.94,386.73 L209.99,386.13 L210.05,385.54 L210.10,384.95 L210.15,384.36 L210.20,383.78 L210.26,383.21 L210.31,382.64 L210.36,382.08 L210.41,381.54 L210.46,381.00 L210.50,380.47 L210.55,379.95 L210.60,379.44 L210.64,378.93 L210.69,378.44 L210.73,377.95 L210.78,377.46 L210.82,376.98 L210.86,376.50 L210.91,376.02 L210.95,375.55 L210.99,375.07 L211.03,374.59 L211.07,374.10 L211.11,373.61 L211.16,373.12 L211.20,372.62 L211.24,372.11 L211.28,371.59 L211.32,371.06 L211.36,370.52 L211.40,369.96 L211.44,369.39 L211.49,368.81 L211.53,368.22 L211.57,367.62 L211.61,367.00 L211.66,366.38 L211.70,365.75 L211.74,365.10 L211.78,364.45 L211.82,363.80 L211.87,363.13 L211.91,362.46 L211.95,361.79 L211.99,361.11 L212.03,360.43 L212.07,359.75 L212.11,359.06 L212.15,358.38 L212.19,357.69 L212.23,357.00 L212.27,356.32 L212.31,355.63 L212.34,354.95 L212.38,354.27 L212.42,353.60 L212.45,352.93 L212.49,352.26 L212.52,351.61 L212.55,350.95 L212.59,350.31 L212.62,349.67 L212.65,349.04 L212.68,348.41 L212.71,347.78 L212.74,347.17 L212.76,346.55 L212.79,345.95 L212.82,345.34 L212.85,344.74 L212.87,344.15 L212.90,343.56 L212.93,342.97 L212.95,342.39 L212.98,341.81 L213.01,341.23 L213.03,340.66 L213.06,340.08 L213.08,339.52 L213.11,338.95 L213.14,338.38 L213.16,337.82 L213.19,337.26 L213.21,336.70 L213.24,336.14 L213.27,335.58 L213.30,335.03 L213.32,334.47 L213.35,333.91 L213.38,333.35 L213.41,332.79 L213.43,332.23 L213.46,331.67 L213.49,331.11 L213.52,330.54 L213.55,329.97 L213.58,329.40 L213.61,328.82 L213.64,328.24 L213.67,327.66 L213.70,327.07 L213.73,326.48 L213.76,325.88 L213.79,325.28 L213.82,324.67 L213.85,324.05 L213.88,323.43 L213.91,322.80 L213.94,322.16 L213.97,321.52 L214.00,320.87 L214.03,320.21 L214.06,319.55 L214.10,318.88 L214.13,318.21 L214.16,317.53 L214.19,316.85 L214.22,316.16 L214.25,315.47 L214.28,314.78 L214.31,314.08 L214.35,313.38 L214.38,312.68 L214.41,311.97 L214.44,311.26 L214.47,310.56 L214.50,309.84 L214.53,309.13 L214.56,308.42 L214.60,307.71 L214.63,306.99 L214.66,306.28 L214.69,305.57 L214.72,304.86 L214.75,304.15 L214.78,303.44 L214.81,302.73 L214.84,302.03 L214.87,301.32 L214.90,300.62 L214.93,299.92 L214.96,299.23 L214.99,298.54 L215.02,297.85 L215.05,297.16 L215.08,296.48 L215.11,295.80 L215.14,295.13 L215.17,294.46 L215.20,293.79 L215.23,293.13 L215.26,292.47 L215.29,291.82 L215.32,291.18 L215.34,290.54 L215.37,289.90 L215.40,289.27 L215.43,288.65 L215.46,288.03 L215.49,287.42 L215.51,286.81 L215.54,286.22 L215.57,285.63 L215.60,285.04 L215.63,284.47 L215.65,283.90 L215.68,283.33 L215.71,282.78 L215.73,282.23 L215.76,281.68 L215.79,281.14 L215.82,280.60 L215.84,280.07 L215.87,279.54 L215.90,279.01 L215.92,278.48 L215.95,277.96 L215.98,277.44 L216.00,276.92 L216.03,276.40 L216.06,275.88 L216.08,275.36 L216.11,274.83 L216.13,274.31 L216.16,273.79 L216.19,273.26 L216.21,272.73 L216.24,272.20 L216.27,271.67 L216.29,271.13 L216.32,270.59 L216.34,270.05 L216.37,269.51 L216.40,268.97 L216.42,268.43 L216.45,267.89 L216.48,267.34 L216.50,266.80 L216.53,266.26 L216.56,265.72 L216.58,265.18 L216.61,264.64 L216.64,264.11 L216.66,263.58 L216.69,263.05 L216.72,262.52 L216.75,261.99 L216.77,261.47 L216.80,260.96 L216.83,260.44 L216.86,259.93 L216.89,259.43 L216.92,258.92 L216.94,258.43 L216.97,257.93 L217.00,257.44 L217.03,256.94 L217.06,256.46 L217.09,255.97 L217.12,255.49 L217.15,255.00 L217.18,254.52 L217.21,254.04 L217.24,253.56 L217.27,253.09 L217.30,252.61 L217.33,252.13 L217.36,251.66 L217.39,251.18 L217.42,250.71 L217.45,250.23 L217.48,249.76 L217.51,249.28 L217.54,248.80 L217.57,248.32 L217.60,247.84 L217.63,247.36 L217.66,246.88 L217.69,246.40 L217.72,245.91 L217.75,245.42 L217.77,244.93 L217.80,244.44 L217.83,243.95 L217.86,243.45 L217.89,242.95 L217.92,242.45 L217.95,241.95 L217.98,241.44 L218.00,240.93 L218.03,240.41 L218.06,239.90 L218.09,239.38 L218.12,238.86 L218.14,238.34 L218.17,237.83 L218.20,237.31 L218.23,236.81 L218.26,236.30 L218.29,235.81 L218.32,235.32 L218.35,234.84 L218.38,234.37 L218.41,233.91 L218.44,233.46 L218.47,233.02 L218.50,232.60 L218.54,232.20 L218.57,231.80 L218.61,231.43 L218.64,231.08 L218.68,230.74 L218.72,230.41 L218.76,230.10 L218.80,229.81 L218.85,229.52 L218.90,229.25 L218.95,228.98 L219.01,228.73 L219.07,228.48 L219.13,228.24 L219.20,228.00 L219.27,227.77 L219.35,227.55 L219.43,227.35 L219.52,227.18 L219.60,227.04 L219.69,226.94 L219.78,226.90 L219.87,226.92 L219.96,226.99 L220.04,227.10 L220.13,227.26 L220.21,227.45 L220.29,227.66 L220.37,227.89 L220.44,228.12 L220.50,228.36 L220.56,228.61 L220.62,228.86 L220.68,229.12 L220.73,229.39 L220.77,229.67 L220.82,229.96 L220.86,230.26 L220.90,230.58 L220.94,230.91 L220.98,231.26 L221.01,231.62 L221.05,232.01 L221.08,232.40 L221.12,232.82 L221.15,233.25 L221.18,233.69 L221.21,234.14 L221.25,234.61 L221.28,235.09 L221.31,235.57 L221.34,236.06 L221.37,236.56 L221.39,237.07 L221.42,237.58 L221.45,238.09 L221.48,238.61 L221.50,239.13 L221.53,239.65 L221.56,240.16 L221.58,240.68 L221.61,241.19 L221.64,241.70 L221.66,242.21 L221.69,242.71 L221.71,243.21 L221.74,243.71 L221.76,244.21 L221.78,244.70 L221.81,245.19 L221.83,245.68 L221.86,246.16 L221.88,246.65 L221.91,247.13 L221.93,247.61 L221.95,248.09 L221.98,248.57 L222.00,249.05 L222.03,249.53 L222.05,250.00 L222.07,250.48 L222.10,250.96 L222.12,251.43 L222.15,251.91 L222.17,252.38 L222.20,252.86 L222.22,253.34 L222.24,253.82 L222.27,254.29 L222.29,254.78 L222.32,255.26 L222.34,255.74 L222.37,256.23 L222.39,256.71 L222.42,257.20 L222.44,257.70 L222.47,258.19 L222.49,258.69 L222.51,259.19 L222.54,259.69 L222.56,260.20 L222.59,260.71 L222.61,261.23 L222.63,261.75 L222.66,262.27 L222.68,262.80 L222.70,263.33 L222.73,263.86 L222.75,264.39 L222.77,264.93 L222.80,265.47 L222.82,266.01 L222.84,266.55 L222.86,267.09 L222.88,267.63 L222.91,268.17 L222.93,268.72 L222.95,269.26 L222.97,269.80 L222.99,270.34 L223.02,270.88 L223.04,271.42 L223.06,271.95 L223.08,272.48 L223.10,273.01 L223.12,273.54 L223.14,274.07 L223.16,274.59 L223.19,275.11 L223.21,275.63 L223.23,276.15 L223.25,276.67 L223.27,277.20 L223.29,277.72 L223.31,278.24 L223.34,278.76 L223.36,279.29 L223.38,279.82 L223.40,280.35 L223.42,280.89 L223.45,281.43 L223.47,281.97 L223.49,282.52 L223.52,283.08 L223.54,283.64 L223.57,284.20 L223.59,284.78 L223.62,285.36 L223.64,285.94 L223.67,286.54 L223.69,287.14 L223.72,287.75 L223.75,288.36 L223.77,288.98 L223.80,289.61 L223.83,290.24 L223.86,290.88 L223.89,291.52 L223.92,292.17 L223.95,292.83 L223.98,293.49 L224.00,294.15 L224.03,294.82 L224.06,295.49 L224.09,296.17 L224.13,296.85 L224.16,297.53 L224.19,298.22 L224.22,298.91 L224.25,299.60 L224.28,300.30 L224.31,301.00 L224.34,301.70 L224.37,302.40 L224.40,303.11 L224.44,303.82 L224.47,304.53 L224.50,305.24 L224.53,305.95 L224.56,306.66 L224.59,307.38 L224.63,308.09 L224.66,308.80 L224.69,309.52 L224.72,310.23 L224.75,310.94 L224.78,311.64 L224.81,312.35 L224.85,313.06 L224.88,313.76 L224.91,314.46 L224.94,315.15 L224.97,315.84 L225.00,316.53 L225.03,317.22 L225.06,317.90 L225.09,318.57 L225.13,319.24 L225.16,319.91 L225.19,320.56 L225.22,321.22 L225.25,321.86 L225.28,322.50 L225.31,323.14 L225.34,323.76 L225.37,324.38 L225.40,324.99 L225.42,325.60 L225.45,326.20 L225.48,326.80 L225.51,327.39 L225.54,327.97 L225.57,328.55 L225.60,329.13 L225.63,329.71 L225.66,330.28 L225.68,330.84 L225.71,331.41 L225.74,331.97 L225.77,332.53 L225.80,333.09 L225.83,333.65 L225.86,334.21 L225.89,334.77 L225.91,335.33 L225.94,335.88 L225.97,336.44 L226.00,337.00 L226.03,337.56 L226.06,338.12 L226.09,338.69 L226.12,339.25 L226.15,339.82 L226.18,340.39 L226.21,340.96 L226.23,341.54 L226.27,342.12 L226.30,342.70 L226.33,343.29 L226.36,343.88 L226.39,344.47 L226.42,345.07 L226.45,345.67 L226.49,346.27 L226.52,346.88 L226.55,347.50 L226.58,348.12 L226.62,348.74 L226.65,349.37 L226.69,350.01 L226.72,350.65 L226.76,351.30 L226.80,351.96 L226.83,352.62 L226.87,353.28 L226.91,353.96 L226.95,354.63 L226.99,355.31 L227.03,356.00 L227.07,356.68 L227.11,357.37 L227.15,358.05 L227.19,358.74 L227.23,359.43 L227.27,360.11 L227.31,360.79 L227.36,361.47 L227.40,362.15 L227.44,362.82 L227.48,363.49 L227.52,364.15 L227.56,364.80 L227.60,365.45 L227.64,366.08 L227.68,366.71 L227.72,367.33 L227.76,367.94 L227.80,368.54 L227.84,369.13 L227.88,369.70 L227.92,370.26 L227.95,370.81 L227.99,371.34 L228.03,371.87 L228.06,372.38 L228.10,372.89 L228.14,373.38 L228.17,373.88 L228.21,374.36 L228.25,374.85 L228.28,375.33 L228.32,375.80 L228.36,376.28 L228.39,376.76 L228.43,377.24 L228.47,377.72 L228.51,378.21 L228.55,378.71 L228.59,379.20 L228.63,379.71 L228.68,380.23 L228.72,380.75 L228.77,381.29 L228.81,381.83 L228.86,382.39 L228.91,382.95 L228.96,383.52 L229.01,384.09 L229.06,384.68 L229.11,385.26 L229.16,385.86 L229.21,386.45 L229.27,387.05 L229.32,387.66 L229.38,388.26 L229.43,388.87 L229.49,389.48 L229.54,390.09 L229.60,390.69 L229.65,391.30 L229.71,391.91 L229.76,392.51 L229.82,393.11 L229.88,393.70 L229.93,394.30 L229.99,394.88 L230.04,395.46 L230.10,396.04 L230.16,396.61 L230.21,397.17 L230.27,397.74 L230.32,398.29 L230.38,398.85 L230.43,399.40 L230.48,399.95 L230.54,400.50 L230.59,401.05 L230.65,401.59 L230.70,402.14 L230.76,402.68 L230.82,403.23 L230.87,403.78 L230.93,404.33 L230.98,404.88 L231.04,405.43 L231.10,405.98 L231.15,406.54 L231.21,407.10 L231.27,407.67 L231.32,408.24 L231.38,408.81 L231.44,409.39 L231.50,409.98 L231.56,410.56 L231.62,411.14 L231.68,411.73 L231.74,412.32 L231.79,412.90 L231.85,413.48 L231.91,414.06 L231.97,414.64 L232.03,415.21 L232.08,415.78 L232.14,416.34 L232.19,416.90 L232.25,417.45 L232.30,417.99 L232.35,418.52 L232.41,419.04 L232.46,419.55 L232.51,420.05 L232.55,420.54 L232.60,421.02 L232.65,421.48 L232.69,421.93 L232.74,422.37 L232.78,422.80 L232.82,423.22 L232.86,423.63 L232.90,424.04 L232.94,424.44 L232.98,424.83 L233.02,425.22 L233.06,425.61 L233.10,426.00 L233.14,426.38 L233.17,426.77 L233.21,427.16 L233.25,427.56 L233.30,427.95 L233.34,428.36 L233.38,428.77 L233.42,429.18 L233.47,429.60 L233.51,430.02 L233.56,430.44 L233.60,430.87 L233.65,431.31 L233.70,431.75 L233.75,432.19 L233.80,432.63 L233.85,433.08 L233.90,433.52 L233.95,433.97 L234.01,434.42 L234.06,434.88 L234.12,435.33 L234.17,435.79 L234.23,436.24 L234.29,436.70 L234.35,437.16 L234.41,437.61 L234.47,438.07 L234.53,438.53 L234.60,438.99 L234.66,439.45 L234.72,439.91 L234.79,440.37 L234.86,440.83 L234.93,441.29 L234.99,441.76 L235.06,442.22 L235.13,442.68 L235.21,443.15 L235.28,443.61 L235.35,444.08 L235.43,444.55 L235.50,445.01 L235.58,445.48 L235.66,445.95 L235.73,446.42 L235.81,446.89 L235.89,447.36 L235.97,447.82 L236.05,448.29 L236.13,448.76 L236.22,449.22 L236.30,449.69 L236.38,450.15 L236.46,450.61 L236.55,451.07 L236.63,451.53 L236.72,451.98 L236.80,452.43 L236.89,452.88 L236.97,453.33 L237.06,453.77 L237.14,454.21 L237.23,454.64 L237.31,455.07 L237.40,455.50 L237.48,455.93 L237.57,456.35 L237.65,456.76 L237.74,457.17 L237.82,457.58 L237.91,457.99 L238.00,458.39 L238.08,458.78 L238.17,459.17 L238.26,459.56 L238.35,459.94 L238.44,460.32 L238.53,460.69 L238.62,461.06 L238.71,461.43 L238.80,461.79 L238.89,462.14 L238.98,462.50 L239.07,462.85 L239.17,463.20 L239.26,463.56 L239.36,463.91 L239.46,464.26 L239.55,464.62 L239.65,464.97 L239.75,465.34 L239.85,465.70 L239.95,466.07 L240.06,466.45 L240.16,466.83 L240.27,467.22 L240.37,467.61 L240.48,468.01 L240.59,468.41 L240.70,468.82 L240.82,469.23 L240.93,469.64 L241.04,470.06 L241.16,470.48 L241.28,470.90 L241.40,471.32 L241.52,471.75 L241.64,472.17 L241.77,472.59 L241.90,473.02 L242.02,473.44 L242.15,473.86 L242.29,474.27 L242.42,474.69 L242.56,475.10 L242.69,475.51 L242.83,475.92 L242.97,476.32 L243.11,476.73 L243.25,477.13 L243.40,477.53 L243.54,477.92 L243.68,478.32 L243.83,478.71 L243.97,479.10 L244.12,479.48 L244.27,479.87 L244.41,480.25 L244.56,480.63 L244.70,481.01 L244.85,481.38 L244.99,481.76 L245.14,482.13 L245.28,482.50 L245.43,482.86 L245.58,483.23 L245.72,483.60 L245.87,483.96 L246.02,484.32 L246.17,484.68 L246.33,485.04 L246.48,485.40 L246.64,485.76 L246.80,486.12 L246.96,486.48 L247.12,486.83 L247.29,487.19 L247.46,487.55 L247.63,487.90 L247.80,488.26 L247.98,488.61 L248.15,488.95 L248.32,489.30 L248.49,489.64 L248.66,489.97 L248.83,490.29 L248.99,490.61 L249.15,490.92 L249.30,491.22 L249.45,491.51 L249.60,491.79 L249.73,492.06 L249.86,492.32 L249.99,492.57 L250.11,492.82 L250.23,493.06 L250.35,493.30 L250.48,493.54 L250.60,493.79 L250.74,494.05 L250.88,494.32 L251.03,494.61 L251.19,494.91 L251.36,495.23 L251.55,495.57 L251.75,495.93 L251.97,496.31 L252.19,496.72 L252.44,497.14 L252.69,497.57 L252.95,498.02 L253.23,498.48 L253.52,498.96 L253.81,499.44 L254.11,499.93 L254.43,500.43 L254.75,500.94 L255.07,501.45 L255.40,501.96 L255.74,502.47 L256.09,502.98 L256.43,503.49 L256.79,504.00 L257.14,504.50 L257.50,505.00 L257.86,505.48 L258.22,505.96 L258.58,506.43 L258.94,506.89 L259.30,507.33 L259.67,507.77 L260.03,508.20 L260.40,508.62 L260.77,509.03 L261.14,509.43 L261.52,509.82 L261.90,510.21 L262.28,510.59 L262.67,510.97 L263.06,511.34 L263.45,511.71 L263.85,512.08 L264.26,512.44 L264.67,512.80 L265.09,513.16 L265.51,513.52 L265.94,513.87 L266.38,514.23 L266.82,514.59 L267.28,514.95 L267.74,515.31 L268.20,515.67 L268.68,516.03 L269.16,516.40 L269.66,516.77 L270.15,517.13 L270.66,517.50 L271.17,517.87 L271.68,518.23 L272.20,518.60 L272.73,518.96 L273.26,519.33 L273.79,519.69 L274.33,520.04 L274.87,520.40 L275.41,520.75 L275.96,521.10 L276.50,521.44 L277.05,521.78 L277.60,522.11 L278.15,522.44 L278.71,522.76 L279.26,523.08 L279.81,523.39 L280.36,523.70 L280.91,523.99 L281.46,524.28 L282.01,524.56 L282.55,524.83 L283.10,525.10 L283.64,525.36 L284.18,525.61 L284.72,525.85 L285.26,526.09 L285.79,526.32 L286.33,526.54 L286.86,526.76 L287.39,526.97 L287.92,527.18 L288.45,527.38 L288.97,527.58 L289.50,527.77 L290.02,527.96 L290.54,528.14 L291.07,528.32 L291.58,528.49 L292.10,528.67 L292.62,528.83 L293.13,529.00 L293.65,529.16 L294.16,529.32 L294.67,529.47 L295.18,529.63 L295.69,529.78 L296.20,529.93 L296.71,530.08 L297.21,530.22 L297.72,530.36 L298.23,530.50 L298.74,530.64 L299.25,530.78 L299.76,530.91 L300.27,531.05 L300.78,531.18 L301.29,531.31 L301.80,531.43 L302.32,531.56 L302.83,531.69 L303.35,531.81 L303.87,531.93 L304.40,532.05 L304.92,532.17 L305.45,532.29 L305.98,532.41 L306.52,532.52 L307.05,532.64 L307.59,532.75 L308.14,532.86 L308.68,532.98 L309.23,533.09 L309.78,533.19 L310.33,533.30 L310.88,533.41 L311.44,533.51 L311.99,533.61 L312.55,533.72 L313.11,533.82 L313.67,533.91 L314.24,534.01 L314.80,534.11 L315.36,534.20 L315.93,534.29 L316.50,534.38 L317.07,534.47 L317.63,534.56 L318.20,534.64 L318.77,534.73 L319.34,534.81 L319.91,534.89 L320.48,534.96 L321.05,535.04 L321.61,535.11 L322.17,535.18 L322.73,535.25 L323.28,535.32 L323.83,535.39 L324.37,535.46 L324.91,535.52 L325.44,535.58 L325.95,535.64 L326.47,535.70 L326.97,535.76 L327.46,535.81 L327.94,535.87 L328.41,535.92 L328.87,535.97 L329.31,536.02 L329.74,536.07 L330.16,536.12 L330.56,536.16 L330.95,536.21 L331.34,536.25 L331.71,536.29 L332.09,536.34 L332.46,536.38 L332.83,536.42 L333.20,536.46 L333.57,536.50 L333.96,536.54 L334.35,536.58 L334.76,536.62 L335.18,536.66 L335.61,536.70 L336.07,536.74 L336.54,536.78 L337.04,536.82 L337.56,536.86 L338.11,536.91 L338.67,536.95 L339.26,536.99 L339.86,537.04 L340.49,537.08 L341.13,537.13 L341.78,537.17 L342.45,537.22 L343.13,537.26 L343.83,537.30 L344.53,537.35 L345.25,537.39 L345.97,537.43 L346.70,537.47 L347.43,537.51 L348.17,537.55 L348.92,537.59 L349.66,537.63 L350.41,537.67 L351.15,537.70 L351.90,537.73 L352.64,537.77 L353.38,537.80 L354.11,537.82 L354.84,537.85 L355.56,537.87 L356.27,537.90 L356.97,537.92 L357.66,537.93 L358.34,537.95 L359.02,537.96 L359.68,537.98 L360.33,537.99 L360.97,537.99 L361.60,538.00 L362.22,538.01 L362.83,538.01 L363.43,538.02 L364.01,538.02 L364.59,538.02 L365.16,538.02 L365.71,538.02 L366.26,538.02 L366.79,538.02 L367.32,538.02 L367.83,538.01 L368.33,538.01 L368.82,538.01 L369.30,538.01 L369.77,538.00 L370.23,538.00 L370.67,538.00 L371.11,538.00 L371.54,538.00 L371.96,537.99 L372.38,537.99 L372.79,537.99 L373.20,537.99 L373.62,537.99 L374.03,537.98 L374.45,537.98 L374.88,537.98 L375.31,537.97 L375.76,537.96 L376.21,537.96 L376.68,537.95 L377.17,537.94 L377.67,537.93 L378.19,537.92 L378.73,537.90 L379.29,537.89 L379.87,537.87 L380.48,537.85 L381.10,537.83 L381.75,537.81 L382.41,537.78 L383.08,537.76 L383.78,537.73 L384.48,537.70 L385.20,537.67 L385.93,537.64 L386.67,537.61 L387.42,537.58 L388.18,537.55 L388.95,537.51 L389.73,537.48 L390.51,537.44 L391.29,537.41 L392.08,537.37 L392.87,537.33 L393.66,537.29 L394.45,537.25 L395.24,537.21 L396.02,537.17 L396.81,537.13 L397.59,537.09 L398.36,537.05 L399.13,537.01 L399.89,536.97 L400.64,536.93 L401.38,536.89 L402.11,536.85 L402.83,536.81 L403.54,536.77 L404.25,536.73 L404.94,536.69 L405.63,536.64 L406.32,536.60 L407.00,536.56 L407.67,536.52 L408.34,536.48 L409.01,536.43 L409.68,536.39 L410.35,536.34 L411.01,536.30 L411.68,536.25 L412.35,536.21 L413.02,536.16 L413.69,536.11 L414.37,536.06 L415.05,536.01 L415.73,535.96 L416.43,535.90 L417.13,535.85 L417.83,535.79 L418.55,535.74 L419.27,535.68 L420.00,535.62 L420.75,535.55 L421.50,535.49 L422.27,535.43 L423.05,535.36 L423.84,535.29 L424.64,535.22 L425.45,535.15 L426.27,535.08 L427.10,535.01 L427.93,534.93 L428.78,534.85 L429.62,534.78 L430.48,534.70 L431.34,534.62 L432.20,534.54 L433.07,534.46 L433.95,534.38 L434.82,534.30 L435.70,534.22 L436.58,534.14 L437.46,534.05 L438.34,533.97 L439.22,533.89 L440.10,533.80 L440.98,533.72 L441.86,533.64 L442.73,533.55 L443.61,533.47 L444.47,533.39 L445.34,533.30 L446.20,533.22 L447.05,533.14 L447.90,533.06 L448.74,532.98 L449.57,532.90 L450.39,532.82 L451.21,532.74 L452.02,532.66 L452.81,532.58 L453.60,532.51 L454.38,532.43 L455.16,532.36 L455.92,532.28 L456.68,532.21 L457.44,532.13 L458.19,532.06 L458.93,531.99 L459.67,531.92 L460.41,531.85 L461.14,531.78 L461.87,531.70 L462.60,531.63 L463.33,531.56 L464.06,531.49 L464.79,531.42 L465.52,531.35 L466.25,531.28 L466.98,531.21 L467.72,531.14 L468.45,531.07 L469.19,531.00 L469.94,530.93 L470.69,530.85 L471.44,530.78 L472.20,530.71 L472.97,530.63 L473.74,530.56 L474.52,530.48 L475.31,530.41 L476.11,530.33 L476.92,530.25 L477.73,530.18 L478.55,530.10 L479.38,530.02 L480.22,529.94 L481.07,529.86 L481.92,529.78 L482.78,529.70 L483.65,529.61 L484.52,529.53 L485.40,529.45 L486.29,529.36 L487.18,529.28 L488.08,529.19 L488.99,529.11 L489.90,529.02 L490.81,528.93 L491.73,528.85 L492.66,528.76 L493.59,528.67 L494.52,528.58 L495.46,528.50 L496.41,528.41 L497.35,528.32 L498.31,528.23 L499.26,528.14 L500.22,528.05 L501.18,527.96 L502.15,527.87 L503.11,527.78 L504.08,527.69 L505.06,527.60 L506.03,527.51 L507.01,527.42 L507.99,527.32 L508.97,527.23 L509.95,527.14 L510.93,527.05 L511.91,526.96 L512.90,526.87 L513.88,526.78 L514.87,526.69 L515.85,526.59 L516.84,526.50 L517.83,526.41 L518.81,526.32 L519.79,526.23 L520.78,526.14 L521.76,526.04 L522.74,525.95 L523.72,525.86 L524.70,525.77 L525.67,525.68 L526.64,525.58 L527.62,525.49 L528.58,525.40 L529.55,525.31 L530.51,525.21 L531.47,525.12 L532.42,525.03 L533.38,524.94 L534.32,524.84 L535.27,524.75 L536.21,524.66 L537.14,524.56 L538.07,524.47 L539.00,524.38 L539.92,524.28 L540.83,524.19 L541.74,524.09 L542.64,524.00 L543.54,523.91 L544.43,523.81 L545.31,523.72 L546.19,523.62 L547.06,523.53 L547.92,523.43 L548.78,523.34 L549.63,523.24 L550.47,523.14 L551.30,523.05 L552.13,522.95 L552.95,522.86 L553.76,522.76 L554.57,522.66 L555.37,522.57 L556.16,522.47 L556.94,522.37 L557.72,522.28 L558.49,522.18 L559.26,522.09 L560.02,521.99 L560.77,521.90 L561.52,521.80 L562.26,521.70 L562.99,521.61 L563.72,521.51 L564.44,521.42 L565.16,521.32 L565.87,521.23 L566.57,521.14 L567.27,521.04 L567.96,520.95 L568.65,520.86 L569.33,520.77 L570.00,520.67 L570.67,520.58 L571.34,520.49 L572.00,520.40 L572.65,520.31 L573.30,520.22 L573.95,520.13 L574.59,520.04 L575.23,519.95 L575.87,519.86 L576.50,519.77 L577.14,519.68 L577.77,519.59 L578.40,519.50 L579.03,519.41 L579.66,519.31 L580.30,519.22 L580.93,519.12 L581.57,519.02 L582.21,518.92 L582.85,518.82 L583.50,518.72 L584.15,518.61 L584.80,518.51 L585.46,518.40 L586.13,518.28 L586.80,518.17 L587.48,518.05 L588.17,517.93 L588.87,517.81 L589.57,517.68 L590.28,517.55 L591.00,517.41 L591.73,517.28 L592.47,517.14 L593.22,516.99 L593.98,516.85 L594.75,516.70 L595.52,516.54 L596.30,516.39 L597.09,516.23 L597.89,516.07 L598.70,515.90 L599.52,515.73 L600.34,515.56 L601.17,515.39 L602.01,515.21 L602.85,515.03 L603.71,514.85 L604.57,514.67 L605.44,514.48 L606.31,514.29 L607.19,514.10 L608.08,513.90 L608.97,513.71 L609.87,513.51 L610.78,513.31 L611.70,513.10 L612.62,512.90 L613.54,512.69 L614.47,512.48 L615.41,512.27 L616.35,512.05 L617.30,511.84 L618.26,511.62 L619.22,511.40 L620.18,511.18 L621.15,510.96 L622.13,510.73 L623.11,510.51 L624.09,510.28 L625.08,510.05 L626.07,509.82 L627.06,509.59 L628.06,509.35 L629.07,509.12 L630.07,508.88 L631.08,508.64 L632.09,508.40 L633.10,508.16 L634.11,507.92 L635.13,507.68 L636.14,507.43 L637.16,507.19 L638.18,506.94 L639.20,506.69 L640.22,506.45 L641.23,506.20 L642.25,505.94 L643.27,505.69 L644.29,505.44 L645.30,505.19 L646.31,504.93 L647.33,504.68 L648.34,504.42 L649.34,504.17 L650.35,503.91 L651.35,503.65 L652.35,503.39 L653.34,503.13 L654.34,502.87 L655.32,502.61 L656.31,502.35 L657.29,502.09 L658.26,501.83 L659.23,501.57 L660.20,501.31 L661.16,501.05 L662.11,500.78 L663.06,500.52 L664.00,500.26 L664.93,499.99 L665.86,499.73 L666.78,499.47 L667.69,499.20 L668.60,498.94 L669.51,498.68 L670.40,498.41 L671.29,498.15 L672.18,497.88 L673.06,497.62 L673.93,497.35 L674.80,497.09 L675.66,496.82 L676.52,496.56 L677.37,496.29 L678.21,496.03 L679.06,495.76 L679.89,495.49 L680.73,495.23 L681.55,494.96 L682.38,494.69 L683.19,494.43 L684.01,494.16 L684.82,493.89 L685.62,493.62 L686.43,493.36 L687.22,493.09 L688.02,492.82 L688.81,492.55 L689.59,492.28 L690.38,492.01 L691.16,491.75 L691.93,491.48 L692.71,491.21 L693.48,490.94 L694.24,490.67 L695.01,490.40 L695.77,490.13 L696.53,489.86 L697.29,489.58 L698.04,489.31 L698.79,489.04 L699.54,488.77 L700.28,488.50 L701.03,488.23 L701.77,487.95 L702.50,487.68 L703.24,487.41 L703.97,487.13 L704.70,486.86 L705.43,486.59 L706.15,486.31 L706.88,486.04 L707.60,485.76 L708.31,485.48 L709.03,485.21 L709.74,484.93 L710.45,484.66 L711.16,484.38 L711.86,484.10 L712.57,483.82 L713.27,483.54 L713.96,483.27 L714.66,482.99 L715.35,482.71 L716.04,482.43 L716.73,482.14 L717.42,481.86 L718.10,481.58 L718.78,481.30 L719.46,481.02 L720.14,480.73 L720.81,480.45 L721.49,480.17 L722.16,479.88 L722.83,479.60 L723.49,479.31 L724.16,479.03 L724.82,478.74 L725.48,478.46 L726.14,478.17 L726.79,477.89 L727.44,477.61 L728.09,477.32 L728.74,477.04 L729.39,476.75 L730.04,476.47 L730.68,476.18 L731.32,475.90 L731.96,475.62 L732.60,475.33 L733.23,475.05 L733.86,474.77 L734.50,474.49 L735.12,474.21 L735.75,473.93 L736.38,473.65 L737.00,473.37 L737.62,473.09 L738.24,472.81 L738.86,472.54 L739.47,472.26 L740.09,471.99 L740.70,471.71 L741.31,471.44 L741.92,471.17 L742.53,470.89 L743.13,470.62 L743.73,470.35 L744.33,470.08 L744.93,469.81 L745.53,469.54 L746.12,469.28 L746.71,469.01 L747.31,468.74 L747.89,468.48 L748.48,468.21 L749.07,467.95 L749.65,467.69 L750.23,467.42 L750.81,467.16 L751.38,466.90 L751.96,466.64 L752.53,466.38 L753.10,466.12 L753.67,465.86 L754.24,465.60 L754.80,465.34 L755.36,465.09 L755.92,464.83 L756.48,464.57 L757.04,464.32 L757.60,464.06 L758.15,463.80 L758.70,463.54 L759.25,463.29 L759.80,463.03 L760.35,462.77 L760.90,462.51 L761.45,462.25 L761.99,461.99 L762.54,461.73 L763.08,461.46 L763.62,461.20 L764.17,460.93 L764.71,460.66 L765.25,460.39 L765.79,460.12 L766.33,459.85 L766.87,459.58 L767.42,459.30 L767.96,459.02 L768.50,458.74 L769.04,458.45 L769.58,458.17 L770.12,457.88 L770.65,457.59 L771.19,457.30 L771.72,457.01 L772.26,456.72 L772.79,456.43 L773.31,456.14 L773.84,455.85 L774.36,455.56 L774.88,455.27 L775.39,454.98 L775.90,454.69 L776.41,454.40 L776.91,454.11 L777.41,453.83 L777.90,453.55 L778.39,453.27 L778.87,452.99 L779.35,452.71 L779.81,452.44 L780.28,452.17 L780.73,451.91 L781.18,451.64 L781.63,451.38 L782.07,451.12 L782.51,450.86 L782.95,450.60 L783.38,450.34 L783.82,450.08 L784.26,449.81 L784.70,449.54 L785.14,449.27 L785.59,448.99 L786.05,448.71 L786.51,448.42 L786.98,448.12 L787.46,447.82 L787.95,447.51 L788.44,447.18 L788.96,446.85 L789.48,446.51 L790.02,446.15 L790.58,445.79 L791.15,445.40 L791.74,445.01 L792.34,444.60 L792.97,444.18 L793.61,443.74 L794.26,443.29 L794.94,442.83 L795.62,442.35 L796.32,441.86 L797.04,441.37 L797.76,440.86 L798.50,440.34 L799.25,439.81 L800.01,439.27 L800.78,438.73 L801.56,438.17 L802.34,437.61 L803.14,437.04 L803.94,436.47 L804.75,435.88 L805.56,435.29 L806.37,434.70 L807.20,434.10 L808.02,433.50 L808.85,432.89 L809.68,432.28 L810.51,431.67 L811.34,431.05 L812.17,430.43 L813.00,429.81 L813.82,429.19 L814.65,428.57 L815.47,427.95 L816.29,427.33 L817.10,426.71 L817.91,426.09 L818.71,425.47 L819.51,424.86 L820.30,424.25 L821.08,423.64 L821.85,423.03 L822.61,422.43 L823.37,421.84 L824.11,421.24 L824.84,420.66 L825.57,420.07 L826.28,419.49 L826.99,418.92 L827.69,418.35 L828.38,417.78 L829.06,417.22 L829.74,416.66 L830.41,416.10 L831.07,415.55 L831.72,415.00 L832.37,414.45 L833.01,413.90 L833.65,413.36 L834.28,412.82 L834.90,412.29 L835.52,411.76 L836.13,411.23 L836.74,410.70 L837.35,410.17 L837.95,409.65 L838.55,409.12 L839.14,408.60 L839.73,408.09 L840.32,407.57 L840.90,407.05 L841.48,406.54 L842.06,406.03 L842.64,405.52 L843.21,405.01 L843.79,404.50 L844.36,403.99 L844.93,403.49 L845.50,402.98 L846.07,402.47 L846.64,401.97 L847.21,401.46 L847.78,400.96 L848.35,400.45 L848.92,399.95 L849.49,399.45 L850.07,398.94 L850.64,398.44 L851.22,397.93 L851.80,397.43 L852.38,396.92 L852.96,396.41 L853.55,395.91 L854.14,395.40 L854.73,394.89 L855.33,394.38 L855.93,393.86 L856.54,393.35 L857.15,392.84 L857.76,392.32 L858.38,391.80 L859.00,391.28 L859.63,390.76 L860.27,390.23 L860.91,389.71 L861.56,389.18 L862.21,388.65 L862.87,388.12 L863.54,387.58 L864.22,387.04 L864.90,386.50" stroke="#a3241b" stroke-width="0.65"/>
<path d="M798.60,556.00 L798.73,555.75 L798.85,555.40 L798.95,554.96 L799.04,554.44 L799.11,553.84 L799.18,553.19 L799.25,552.48 L799.31,551.73 L799.36,550.95 L799.42,550.14 L799.49,549.33 L799.56,548.51 L799.64,547.70 L799.73,546.91 L799.84,546.14 L799.96,545.41 L800.10,544.74 L800.26,544.12 L800.44,543.60 L800.64,543.17 L800.87,542.87 L801.13,542.72 L801.40,542.72 L801.70,542.87 L802.00,543.15 L802.29,543.52 L802.57,543.96 L802.82,544.44 L803.04,544.95 L803.23,545.48 L803.42,546.03 L803.60,546.58 L803.79,547.14 L803.99,547.70 L804.22,548.25 L804.48,548.79 L804.77,549.30 L805.08,549.76 L805.41,550.15 L805.75,550.46 L806.09,550.66 L806.43,550.74 L806.76,550.69 L807.08,550.51 L807.39,550.20 L807.66,549.77 L807.91,549.22 L808.14,548.59 L808.34,547.95 L808.52,547.33 L808.69,546.80 L808.84,546.40 L808.99,546.20 L809.13,546.24 L809.27,546.50 L809.41,546.97 L809.54,547.60 L809.67,548.39 L809.80,549.29 L809.92,550.29 L810.04,551.35 L810.15,552.46 L810.25,553.58 L810.36,554.69 L810.46,555.76 L810.55,556.77 L810.64,557.69 L810.72,558.49 L810.80,559.15 L810.87,559.64 L810.94,559.93 L811.00,560.00" stroke="#000" stroke-width="1.65" stroke-dasharray="8.6 2.67" stroke-dashoffset="4.7"/>
<path d="M135.35,440.60 L135.69,440.14 L136.04,439.65 L136.42,439.12 L136.81,438.56 L137.21,437.97 L137.63,437.36 L138.07,436.72 L138.52,436.05 L138.98,435.35 L139.46,434.64 L139.94,433.90 L140.44,433.14 L140.95,432.36 L141.46,431.57 L141.99,430.75 L142.52,429.93 L143.06,429.09 L143.61,428.23 L144.16,427.37 L144.72,426.49 L145.28,425.61 L145.85,424.72 L146.41,423.82 L146.98,422.92 L147.55,422.02 L148.13,421.11 L148.70,420.20 L149.27,419.30 L149.84,418.39 L150.40,417.49 L150.97,416.59 L151.53,415.70 L152.08,414.82 L152.63,413.95 L153.18,413.08 L153.71,412.23 L154.24,411.39 L154.76,410.56 L155.28,409.75 L155.78,408.96 L156.27,408.18 L156.75,407.43 L157.22,406.69 L157.68,405.98 L158.12,405.28 L158.55,404.62 L158.96,403.98 L159.36,403.36 L159.74,402.78 L160.11,402.22 L160.46,401.68 L160.81,401.16 L161.14,400.66 L161.47,400.17 L161.80,399.68 L162.12,399.20 L162.44,398.72 L162.77,398.24 L163.09,397.75 L163.43,397.26 L163.77,396.75 L164.12,396.22 L164.49,395.68 L164.86,395.11 L165.26,394.51 L165.67,393.89 L166.09,393.24 L166.52,392.58 L166.97,391.89 L167.42,391.19 L167.88,390.48 L168.35,389.76 L168.82,389.03 L169.29,388.30 L169.76,387.57 L170.22,386.83 L170.68,386.11 L171.14,385.39 L171.59,384.68 L172.03,383.98 L172.46,383.30 L172.88,382.63 L173.28,381.99 L173.66,381.37 L174.03,380.78 L174.37,380.22 L174.70,379.68 L175.01,379.18 L175.31,378.69 L175.59,378.22 L175.86,377.77 L176.13,377.33 L176.40,376.90 L176.66,376.47 L176.92,376.05 L177.19,375.62 L177.47,375.19 L177.75,374.75 L178.05,374.30 L178.36,373.83 L178.69,373.34 L179.04,372.84 L179.40,372.32 L179.77,371.79 L180.16,371.24 L180.56,370.67 L180.97,370.09 L181.39,369.50 L181.82,368.90 L182.27,368.28 L182.72,367.66 L183.18,367.02 L183.65,366.37 L184.13,365.71 L184.61,365.05 L185.10,364.38 L185.59,363.70 L186.09,363.01 L186.59,362.32 L187.09,361.62 L187.60,360.92 L188.11,360.21 L188.61,359.50 L189.12,358.79 L189.63,358.08 L190.14,357.38 L190.65,356.67 L191.15,355.97 L191.65,355.27 L192.14,354.57 L192.64,353.89 L193.12,353.21 L193.60,352.53 L194.08,351.87 L194.54,351.22 L195.00,350.58 L195.45,349.95 L195.89,349.34 L196.32,348.74 L196.74,348.15 L197.15,347.59 L197.55,347.04 L197.94,346.50 L198.32,345.98 L198.69,345.48 L199.05,344.98 L199.40,344.49 L199.75,344.01 L200.10,343.54 L200.44,343.07 L200.78,342.61 L201.12,342.15 L201.45,341.68 L201.79,341.22 L202.12,340.76 L202.46,340.29 L202.81,339.81 L203.15,339.34 L203.50,338.85 L203.85,338.36 L204.20,337.87 L204.56,337.37 L204.91,336.87 L205.27,336.36 L205.63,335.86 L205.99,335.35 L206.34,334.83 L206.70,334.32 L207.06,333.80 L207.42,333.29 L207.77,332.77 L208.13,332.25 L208.48,331.74 L208.83,331.22 L209.18,330.71 L209.53,330.19 L209.87,329.68 L210.22,329.17 L210.56,328.66 L210.91,328.15 L211.26,327.64 L211.60,327.14 L211.95,326.63 L212.30,326.13 L212.65,325.64 L213.00,325.14 L213.35,324.65 L213.71,324.16 L214.07,323.68 L214.43,323.19 L214.79,322.71 L215.16,322.24 L215.52,321.77 L215.89,321.30 L216.26,320.83 L216.63,320.36 L217.00,319.90 L217.37,319.44 L217.74,318.98 L218.12,318.53 L218.49,318.07 L218.85,317.62 L219.22,317.16 L219.59,316.71 L219.95,316.26 L220.32,315.81 L220.68,315.37 L221.04,314.92 L221.40,314.47 L221.77,314.02 L222.13,313.57 L222.49,313.12 L222.86,312.67 L223.23,312.22 L223.60,311.77 L223.98,311.31 L224.36,310.86 L224.74,310.40 L225.13,309.94 L225.53,309.48 L225.93,309.01 L226.33,308.54 L226.74,308.07 L227.15,307.61 L227.56,307.14 L227.97,306.67 L228.38,306.21 L228.79,305.74 L229.21,305.28 L229.61,304.82 L230.02,304.37 L230.42,303.92 L230.82,303.48 L231.21,303.04 L231.60,302.61 L231.98,302.19 L232.36,301.77 L232.73,301.35 L233.09,300.94 L233.46,300.53 L233.82,300.12 L234.19,299.71 L234.55,299.29 L234.92,298.87 L235.30,298.45 L235.68,298.01 L236.06,297.56 L236.46,297.10 L236.86,296.63 L237.28,296.14 L237.70,295.64 L238.14,295.12 L238.59,294.59 L239.05,294.05 L239.52,293.49 L239.99,292.93 L240.46,292.37 L240.94,291.80 L241.42,291.23 L241.91,290.66 L242.39,290.10 L242.87,289.54 L243.35,288.98 L243.82,288.44 L244.28,287.91 L244.74,287.39 L245.19,286.89 L245.63,286.40 L246.06,285.94 L246.48,285.49 L246.88,285.07 L247.28,284.66 L247.66,284.26 L248.05,283.88 L248.42,283.50 L248.80,283.14 L249.17,282.77 L249.54,282.41 L249.91,282.05 L250.29,281.68 L250.67,281.31 L251.06,280.94 L251.45,280.55 L251.86,280.15 L252.27,279.73 L252.69,279.31 L253.12,278.88 L253.55,278.43 L254.00,277.98 L254.45,277.52 L254.90,277.06 L255.36,276.59 L255.83,276.12 L256.30,275.64 L256.78,275.17 L257.26,274.69 L257.74,274.21 L258.23,273.74 L258.71,273.27 L259.20,272.80 L259.69,272.33 L260.19,271.87 L260.68,271.42 L261.18,270.97 L261.67,270.52 L262.17,270.08 L262.67,269.65 L263.17,269.22 L263.67,268.80 L264.18,268.38 L264.68,267.97 L265.19,267.56 L265.70,267.17 L266.21,266.78 L266.72,266.39 L267.23,266.01 L267.74,265.64 L268.25,265.28 L268.77,264.92 L269.28,264.57 L269.80,264.23 L270.32,263.89 L270.83,263.57 L271.34,263.24 L271.85,262.93 L272.36,262.62 L272.87,262.31 L273.38,262.02 L273.88,261.73 L274.37,261.44 L274.87,261.16 L275.36,260.89 L275.84,260.62 L276.32,260.36 L276.80,260.10 L277.27,259.85 L277.73,259.60 L278.19,259.36 L278.65,259.11 L279.11,258.87 L279.56,258.64 L280.01,258.40 L280.46,258.17 L280.90,257.93 L281.35,257.70 L281.79,257.46 L282.23,257.22 L282.67,256.99 L283.11,256.75 L283.55,256.51 L283.99,256.26 L284.43,256.02 L284.87,255.77 L285.31,255.53 L285.75,255.27 L286.20,255.02 L286.65,254.77 L287.10,254.51 L287.55,254.25 L288.01,253.98 L288.47,253.71 L288.93,253.44 L289.39,253.17 L289.86,252.89 L290.33,252.62 L290.79,252.34 L291.26,252.06 L291.73,251.78 L292.19,251.50 L292.65,251.22 L293.11,250.94 L293.57,250.66 L294.02,250.38 L294.47,250.10 L294.91,249.82 L295.35,249.54 L295.78,249.26 L296.21,248.99 L296.64,248.72 L297.06,248.44 L297.48,248.17 L297.90,247.90 L298.32,247.63 L298.73,247.36 L299.15,247.09 L299.56,246.82 L299.97,246.55 L300.39,246.28 L300.80,246.02 L301.21,245.75 L301.63,245.48 L302.04,245.22 L302.46,244.95 L302.88,244.68 L303.30,244.42 L303.73,244.15 L304.15,243.88 L304.58,243.61 L305.02,243.34 L305.46,243.07 L305.90,242.79 L306.34,242.52 L306.79,242.24 L307.24,241.96 L307.70,241.68 L308.16,241.40 L308.62,241.11 L309.09,240.82 L309.56,240.53 L310.03,240.24 L310.50,239.94 L310.98,239.65 L311.46,239.34 L311.94,239.04 L312.42,238.73 L312.91,238.42 L313.39,238.11 L313.88,237.79 L314.38,237.48 L314.87,237.16 L315.37,236.85 L315.87,236.54 L316.37,236.23 L316.87,235.92 L317.38,235.61 L317.89,235.31 L318.41,235.01 L318.93,234.72 L319.45,234.44 L319.97,234.16 L320.50,233.88 L321.03,233.62 L321.56,233.36 L322.10,233.10 L322.63,232.85 L323.17,232.60 L323.71,232.35 L324.25,232.10 L324.79,231.86 L325.33,231.62 L325.87,231.38 L326.41,231.13 L326.95,230.89 L327.48,230.64 L328.02,230.39 L328.55,230.14 L329.08,229.89 L329.61,229.63 L330.13,229.37 L330.66,229.12 L331.18,228.86 L331.71,228.61 L332.23,228.36 L332.76,228.11 L333.28,227.86 L333.81,227.63 L334.33,227.39 L334.86,227.16 L335.39,226.94 L335.92,226.73 L336.45,226.53 L336.99,226.33 L337.53,226.14 L338.07,225.97 L338.61,225.80 L339.15,225.63 L339.69,225.48 L340.24,225.33 L340.78,225.19 L341.33,225.06 L341.88,224.93 L342.42,224.81 L342.97,224.70 L343.52,224.59 L344.07,224.49 L344.62,224.39 L345.17,224.30 L345.71,224.22 L346.26,224.14 L346.81,224.07 L347.36,224.00 L347.91,223.94 L348.47,223.89 L349.02,223.84 L349.57,223.80 L350.12,223.77 L350.68,223.74 L351.23,223.72 L351.79,223.70 L352.35,223.70 L352.91,223.69 L353.47,223.70 L354.03,223.71 L354.59,223.73 L355.15,223.75 L355.71,223.78 L356.26,223.82 L356.82,223.87 L357.37,223.93 L357.92,223.99 L358.46,224.06 L359.01,224.14 L359.54,224.22 L360.08,224.31 L360.61,224.42 L361.13,224.52 L361.65,224.64 L362.18,224.76 L362.70,224.88 L363.23,225.01 L363.76,225.14 L364.29,225.27 L364.83,225.40 L365.38,225.53 L365.94,225.67 L366.52,225.79 L367.10,225.92 L367.70,226.04 L368.31,226.16 L368.94,226.27 L369.58,226.38 L370.23,226.48 L370.89,226.57 L371.55,226.66 L372.21,226.74 L372.88,226.82 L373.54,226.89 L374.20,226.95 L374.85,227.01 L375.49,227.06 L376.11,227.10 L376.72,227.14 L377.32,227.17 L377.89,227.19 L378.44,227.20 L378.97,227.20 L379.47,227.20 L379.95,227.19 L380.42,227.17 L380.88,227.14 L381.32,227.10 L381.76,227.05 L382.20,226.99 L382.64,226.91 L383.08,226.83 L383.53,226.74 L383.99,226.63 L384.46,226.51 L384.94,226.38 L385.44,226.23 L385.96,226.08 L386.48,225.93 L387.01,225.76 L387.55,225.60 L388.10,225.43 L388.66,225.26 L389.22,225.09 L389.79,224.92 L390.36,224.75 L390.94,224.60 L391.52,224.44 L392.10,224.30 L392.68,224.17 L393.27,224.04 L393.85,223.93 L394.43,223.82 L395.00,223.72 L395.57,223.63 L396.14,223.55 L396.69,223.48 L397.24,223.42 L397.79,223.36 L398.32,223.31 L398.84,223.27 L399.35,223.24 L399.84,223.21 L400.33,223.19 L400.80,223.18 L401.25,223.17 L401.70,223.17 L402.13,223.18 L402.56,223.20 L402.98,223.23 L403.39,223.26 L403.80,223.31 L404.20,223.37 L404.60,223.44 L405.01,223.52 L405.41,223.62 L405.81,223.72 L406.21,223.85 L406.62,223.98 L407.02,224.14 L407.43,224.31 L407.84,224.50 L408.26,224.71 L408.67,224.94 L409.09,225.20 L409.51,225.47 L409.94,225.77 L410.37,226.09 L410.80,226.43 L411.23,226.79 L411.67,227.16 L412.11,227.55 L412.54,227.94 L412.98,228.34 L413.41,228.74 L413.85,229.15 L414.28,229.55 L414.70,229.94 L415.12,230.33 L415.54,230.71 L415.96,231.08 L416.36,231.42 L416.76,231.76 L417.16,232.07 L417.55,232.37 L417.94,232.66 L418.33,232.93 L418.71,233.19 L419.10,233.43 L419.48,233.66 L419.87,233.88 L420.26,234.09 L420.65,234.28 L421.05,234.47 L421.44,234.64 L421.85,234.80 L422.26,234.95 L422.67,235.09 L423.09,235.21 L423.51,235.32 L423.94,235.41 L424.37,235.48 L424.81,235.54 L425.25,235.58 L425.70,235.60 L426.15,235.60 L426.61,235.58 L427.08,235.54 L427.55,235.49 L428.03,235.42 L428.51,235.33 L429.00,235.23 L429.50,235.12 L430.00,235.00 L430.51,234.86 L431.02,234.72 L431.54,234.57 L432.07,234.41 L432.61,234.24 L433.15,234.07 L433.69,233.90 L434.24,233.73 L434.79,233.56 L435.35,233.39 L435.90,233.24 L436.46,233.09 L437.01,232.95 L437.56,232.83 L438.11,232.72 L438.65,232.63 L439.19,232.56 L439.72,232.52 L440.25,232.50 L440.77,232.50 L441.28,232.53 L441.78,232.58 L442.28,232.65 L442.77,232.73 L443.26,232.82 L443.75,232.93 L444.23,233.04 L444.71,233.16 L445.19,233.28 L445.67,233.40 L446.14,233.52 L446.62,233.63 L447.10,233.73 L447.58,233.83 L448.06,233.92 L448.54,234.00 L449.03,234.07 L449.52,234.14 L450.01,234.20 L450.50,234.25 L451.00,234.29 L451.50,234.33 L452.01,234.36 L452.52,234.39 L453.04,234.40 L453.56,234.41 L454.09,234.42 L454.62,234.42 L455.16,234.41 L455.70,234.41 L456.25,234.40 L456.80,234.39 L457.36,234.38 L457.92,234.38 L458.49,234.37 L459.06,234.37 L459.63,234.37 L460.21,234.38 L460.79,234.40 L461.37,234.42 L461.96,234.45 L462.55,234.48 L463.14,234.52 L463.74,234.57 L464.33,234.63 L464.92,234.68 L465.52,234.74 L466.11,234.81 L466.70,234.88 L467.29,234.95 L467.88,235.02 L468.47,235.10 L469.05,235.17 L469.63,235.25 L470.20,235.33 L470.77,235.40 L471.33,235.48 L471.89,235.56 L472.44,235.64 L473.00,235.71 L473.55,235.79 L474.09,235.87 L474.64,235.96 L475.18,236.04 L475.73,236.12 L476.27,236.21 L476.81,236.30 L477.35,236.39 L477.89,236.48 L478.44,236.58 L478.98,236.67 L479.53,236.77 L480.07,236.88 L480.62,236.98 L481.17,237.09 L481.72,237.19 L482.26,237.30 L482.81,237.42 L483.36,237.53 L483.91,237.65 L484.46,237.76 L485.01,237.88 L485.56,238.00 L486.11,238.12 L486.66,238.25 L487.21,238.37 L487.75,238.50 L488.30,238.63 L488.85,238.77 L489.39,238.92 L489.94,239.07 L490.48,239.22 L491.02,239.39 L491.56,239.56 L492.10,239.75 L492.63,239.94 L493.16,240.15 L493.69,240.37 L494.22,240.60 L494.75,240.85 L495.27,241.10 L495.79,241.37 L496.31,241.65 L496.83,241.95 L497.34,242.25 L497.86,242.56 L498.37,242.87 L498.88,243.20 L499.39,243.52 L499.89,243.86 L500.40,244.20 L500.90,244.54 L501.40,244.89 L501.90,245.23 L502.40,245.58 L502.90,245.93 L503.40,246.28 L503.90,246.63 L504.40,246.98 L504.89,247.33 L505.39,247.68 L505.89,248.04 L506.39,248.39 L506.89,248.74 L507.39,249.09 L507.89,249.44 L508.39,249.79 L508.90,250.14 L509.40,250.49 L509.91,250.84 L510.42,251.19 L510.93,251.53 L511.45,251.88 L511.96,252.22 L512.48,252.57 L512.99,252.91 L513.50,253.25 L514.01,253.59 L514.52,253.92 L515.03,254.25 L515.53,254.58 L516.04,254.91 L516.53,255.24 L517.02,255.56 L517.51,255.88 L517.99,256.20 L518.47,256.51 L518.94,256.82 L519.41,257.13 L519.87,257.44 L520.32,257.75 L520.78,258.07 L521.22,258.38 L521.67,258.71 L522.11,259.03 L522.54,259.37 L522.98,259.71 L523.41,260.06 L523.84,260.42 L524.27,260.79 L524.69,261.18 L525.12,261.57 L525.54,261.98 L525.96,262.40 L526.38,262.84 L526.80,263.28 L527.21,263.73 L527.61,264.19 L528.02,264.67 L528.42,265.15 L528.81,265.63 L529.20,266.13 L529.58,266.63 L529.96,267.15 L530.32,267.66 L530.69,268.18 L531.04,268.71 L531.39,269.24 L531.73,269.78 L532.06,270.32 L532.38,270.86 L532.70,271.41 L533.01,271.96 L533.32,272.51 L533.61,273.06 L533.90,273.61 L534.19,274.15 L534.46,274.70 L534.73,275.25 L535.00,275.80 L535.25,276.34 L535.51,276.88 L535.75,277.41 L535.99,277.94 L536.23,278.47 L536.46,278.99 L536.69,279.50 L536.92,280.00 L537.14,280.49 L537.37,280.97 L537.60,281.44 L537.83,281.89 L538.06,282.32 L538.29,282.74 L538.54,283.15 L538.78,283.53 L539.04,283.89 L539.30,284.23 L539.57,284.54 L539.84,284.82 L540.12,285.05 L540.40,285.24 L540.69,285.39 L540.98,285.48 L541.27,285.51 L541.57,285.47 L541.86,285.37 L542.16,285.21 L542.46,285.00 L542.75,284.73 L543.04,284.42 L543.33,284.06 L543.61,283.67 L543.88,283.24 L544.14,282.79 L544.40,282.30 L544.64,281.80 L544.88,281.28 L545.10,280.74 L545.32,280.18 L545.53,279.62 L545.73,279.04 L545.93,278.45 L546.12,277.85 L546.31,277.24 L546.49,276.63 L546.67,276.01 L546.85,275.39 L547.03,274.77 L547.21,274.15 L547.39,273.53 L547.58,272.91 L547.76,272.30 L547.95,271.69 L548.14,271.09 L548.34,270.50 L548.54,269.92 L548.74,269.35 L548.95,268.78 L549.16,268.23 L549.37,267.70 L549.59,267.17 L549.81,266.66 L550.04,266.17 L550.27,265.69 L550.50,265.23 L550.74,264.79 L550.98,264.37 L551.22,263.97 L551.47,263.58 L551.72,263.22 L551.97,262.88 L552.22,262.57 L552.48,262.27 L552.73,262.00 L552.98,261.75 L553.24,261.52 L553.48,261.31 L553.73,261.13 L553.98,260.98 L554.22,260.86 L554.47,260.78 L554.72,260.74 L554.97,260.75 L555.23,260.81 L555.50,260.93 L555.78,261.10 L556.05,261.32 L556.34,261.58 L556.62,261.88 L556.91,262.23 L557.21,262.60 L557.50,263.01 L557.79,263.44 L558.08,263.89 L558.37,264.36 L558.66,264.84 L558.95,265.34 L559.23,265.84 L559.51,266.35 L559.79,266.87 L560.07,267.38 L560.35,267.90 L560.62,268.41 L560.89,268.92 L561.16,269.42 L561.42,269.91 L561.68,270.38 L561.94,270.84 L562.20,271.28 L562.46,271.70 L562.72,272.09 L562.97,272.47 L563.23,272.82 L563.50,273.15 L563.77,273.46 L564.06,273.75 L564.36,274.01 L564.67,274.26 L565.00,274.48 L565.36,274.68 L565.74,274.86 L566.14,275.03 L566.57,275.17 L567.01,275.30 L567.46,275.43 L567.93,275.54 L568.40,275.65 L568.88,275.76 L569.36,275.88 L569.83,275.99 L570.30,276.12 L570.76,276.25 L571.21,276.40 L571.64,276.57 L572.05,276.75 L572.45,276.96 L572.84,277.18 L573.21,277.42 L573.56,277.68 L573.90,277.97 L574.23,278.28 L574.54,278.61 L574.84,278.96 L575.12,279.34 L575.40,279.75 L575.66,280.18 L575.90,280.64 L576.14,281.12 L576.37,281.62 L576.59,282.14 L576.80,282.68 L577.00,283.24 L577.20,283.82 L577.39,284.41 L577.57,285.02 L577.75,285.64 L577.93,286.27 L578.10,286.91 L578.28,287.55 L578.45,288.21 L578.62,288.87 L578.80,289.54 L578.97,290.21 L579.14,290.89 L579.31,291.57 L579.49,292.26 L579.66,292.94 L579.83,293.64 L580.00,294.33 L580.18,295.02 L580.35,295.72 L580.52,296.42 L580.69,297.12 L580.87,297.82 L581.04,298.51 L581.21,299.21 L581.38,299.91 L581.55,300.60 L581.72,301.30 L581.89,301.99 L582.07,302.68 L582.24,303.36 L582.41,304.05 L582.58,304.73 L582.75,305.41 L582.92,306.08 L583.09,306.76 L583.27,307.43 L583.44,308.10 L583.62,308.76 L583.80,309.42 L583.98,310.08 L584.16,310.74 L584.34,311.39 L584.53,312.04 L584.72,312.69 L584.91,313.33 L585.10,313.97 L585.30,314.61 L585.50,315.23 L585.71,315.84 L585.91,316.43 L586.13,317.00 L586.34,317.55 L586.56,318.07 L586.79,318.56 L587.03,319.01 L587.26,319.43 L587.51,319.81 L587.76,320.14 L588.02,320.42 L588.29,320.66 L588.56,320.84 L588.84,320.97 L589.14,321.06 L589.44,321.09 L589.75,321.09 L590.07,321.03 L590.41,320.93 L590.75,320.80 L591.11,320.62 L591.48,320.40 L591.85,320.16 L592.24,319.89 L592.63,319.60 L593.02,319.28 L593.41,318.96 L593.81,318.62 L594.21,318.27 L594.60,317.92 L594.99,317.58 L595.38,317.23 L595.76,316.90 L596.13,316.57 L596.50,316.26 L596.86,315.96 L597.22,315.68 L597.57,315.43 L597.92,315.19 L598.26,314.98 L598.60,314.79 L598.94,314.63 L599.27,314.51 L599.59,314.42 L599.92,314.36 L600.23,314.35 L600.54,314.37 L600.84,314.43 L601.13,314.54 L601.41,314.69 L601.68,314.88 L601.94,315.13 L602.18,315.42 L602.41,315.75 L602.63,316.12 L602.83,316.53 L603.03,316.96 L603.21,317.43 L603.39,317.93 L603.56,318.44 L603.71,318.98 L603.86,319.53 L604.01,320.10 L604.14,320.68 L604.27,321.26 L604.39,321.86 L604.51,322.46 L604.61,323.07 L604.72,323.68 L604.82,324.31 L604.91,324.94 L605.01,325.59 L605.09,326.24 L605.18,326.90 L605.26,327.57 L605.34,328.25 L605.41,328.94 L605.49,329.63 L605.56,330.34 L605.64,331.05 L605.71,331.78 L605.78,332.51 L605.85,333.26 L605.92,334.01 L606.00,334.76 L606.07,335.52 L606.14,336.28 L606.22,337.05 L606.29,337.81 L606.37,338.57 L606.45,339.33 L606.53,340.09 L606.61,340.84 L606.70,341.59 L606.79,342.33 L606.87,343.06 L606.97,343.78 L607.06,344.49 L607.16,345.18 L607.26,345.86 L607.37,346.53 L607.48,347.18 L607.59,347.81 L607.71,348.43 L607.83,349.03 L607.96,349.62 L608.09,350.18 L608.23,350.73 L608.38,351.27 L608.53,351.78 L608.68,352.28 L608.85,352.75 L609.02,353.21 L609.20,353.65 L609.39,354.08 L609.58,354.48 L609.79,354.85 L610.00,355.20 L610.22,355.50 L610.45,355.76 L610.69,355.96 L610.94,356.11 L611.20,356.19 L611.46,356.19 L611.74,356.12 L612.02,355.98 L612.31,355.78 L612.60,355.51 L612.89,355.19 L613.17,354.83 L613.46,354.42 L613.73,353.98 L614.00,353.51 L614.26,353.01 L614.50,352.50 L614.73,351.98 L614.94,351.44 L615.14,350.90 L615.33,350.34 L615.51,349.78 L615.67,349.20 L615.83,348.62 L615.97,348.02 L616.11,347.42 L616.24,346.80 L616.36,346.18 L616.47,345.55 L616.58,344.92 L616.69,344.27 L616.79,343.62 L616.89,342.96 L616.99,342.29 L617.09,341.61 L617.18,340.93 L617.27,340.25 L617.36,339.55 L617.45,338.86 L617.54,338.16 L617.63,337.46 L617.72,336.75 L617.80,336.05 L617.89,335.34 L617.97,334.63 L618.05,333.93 L618.14,333.22 L618.22,332.51 L618.30,331.81 L618.38,331.11 L618.46,330.41 L618.55,329.72 L618.63,329.03 L618.71,328.34 L618.79,327.66 L618.87,326.98 L618.96,326.31 L619.05,325.64 L619.13,324.98 L619.22,324.33 L619.31,323.67 L619.41,323.03 L619.50,322.39 L619.60,321.76 L619.70,321.13 L619.81,320.51 L619.91,319.90 L620.03,319.29 L620.14,318.69 L620.26,318.10 L620.39,317.52 L620.52,316.97 L620.66,316.45 L620.81,315.96 L620.96,315.51 L621.13,315.11 L621.31,314.77 L621.51,314.48 L621.72,314.27 L621.94,314.12 L622.18,314.06 L622.43,314.08 L622.69,314.16 L622.96,314.32 L623.22,314.53 L623.48,314.80 L623.73,315.12 L623.97,315.48 L624.19,315.88 L624.39,316.31 L624.58,316.77 L624.74,317.26 L624.89,317.78 L625.03,318.33 L625.16,318.90 L625.27,319.50 L625.37,320.12 L625.47,320.75 L625.56,321.41 L625.64,322.08 L625.72,322.76 L625.80,323.46 L625.88,324.17 L625.96,324.89 L626.03,325.62 L626.12,326.35 L626.20,327.09 L626.29,327.84 L626.38,328.59 L626.47,329.35 L626.57,330.11 L626.66,330.88 L626.76,331.65 L626.86,332.43 L626.97,333.21 L627.07,334.00 L627.18,334.79 L627.29,335.58 L627.40,336.38 L627.51,337.18 L627.62,337.98 L627.74,338.79 L627.85,339.59 L627.97,340.40 L628.09,341.21 L628.21,342.03 L628.33,342.84 L628.45,343.66 L628.57,344.47 L628.69,345.29 L628.81,346.10 L628.93,346.92 L629.05,347.73 L629.17,348.54 L629.29,349.35 L629.41,350.16 L629.52,350.97 L629.64,351.77 L629.75,352.57 L629.86,353.36 L629.97,354.15 L630.08,354.94 L630.18,355.72 L630.28,356.49 L630.38,357.26 L630.48,358.03 L630.57,358.78 L630.66,359.53 L630.75,360.27 L630.84,361.00 L630.92,361.73 L631.01,362.44 L631.11,363.13 L631.20,363.82 L631.30,364.49 L631.41,365.15 L631.52,365.79 L631.64,366.42 L631.77,367.03 L631.90,367.62 L632.05,368.19 L632.21,368.75 L632.39,369.28 L632.57,369.79 L632.77,370.27 L632.99,370.73 L633.21,371.15 L633.45,371.52 L633.69,371.84 L633.95,372.11 L634.21,372.31 L634.48,372.45 L634.75,372.50 L635.03,372.48 L635.31,372.37 L635.59,372.19 L635.88,371.93 L636.16,371.62 L636.45,371.25 L636.73,370.82 L637.01,370.36 L637.29,369.85 L637.56,369.32 L637.83,368.76 L638.10,368.19 L638.36,367.60 L638.61,367.01 L638.85,366.42 L639.08,365.83 L639.31,365.23 L639.53,364.63 L639.74,364.02 L639.94,363.41 L640.13,362.80 L640.32,362.18 L640.50,361.56 L640.66,360.93 L640.82,360.30 L640.97,359.66 L641.12,359.02 L641.25,358.37 L641.37,357.72 L641.49,357.06 L641.60,356.40 L641.70,355.73 L641.79,355.06 L641.89,354.39 L641.98,353.72 L642.08,353.06 L642.18,352.41 L642.30,351.77 L642.43,351.14 L642.57,350.53 L642.73,349.93 L642.90,349.35 L643.10,348.80 L643.33,348.27 L643.58,347.77 L643.87,347.29 L644.18,346.85 L644.53,346.44 L644.91,346.06 L645.31,345.70 L645.72,345.35 L646.15,345.02 L646.59,344.69 L647.03,344.37 L647.47,344.05 L647.91,343.73 L648.34,343.40 L648.75,343.05 L649.15,342.69 L649.52,342.31 L649.86,341.90 L650.18,341.46 L650.47,341.00 L650.73,340.51 L650.98,340.00 L651.20,339.47 L651.41,338.92 L651.60,338.35 L651.78,337.77 L651.95,337.17 L652.11,336.57 L652.26,335.95 L652.42,335.32 L652.57,334.69 L652.72,334.05 L652.87,333.40 L653.04,332.76 L653.21,332.11 L653.38,331.47 L653.56,330.84 L653.75,330.21 L653.95,329.60 L654.15,329.00 L654.35,328.42 L654.57,327.87 L654.79,327.33 L655.02,326.83 L655.25,326.35 L655.49,325.91 L655.74,325.50 L655.99,325.14 L656.26,324.81 L656.52,324.53 L656.79,324.30 L657.06,324.12 L657.33,324.00 L657.59,323.93 L657.84,323.93 L658.09,323.99 L658.32,324.13 L658.54,324.32 L658.75,324.58 L658.95,324.89 L659.13,325.26 L659.31,325.67 L659.48,326.12 L659.63,326.61 L659.78,327.14 L659.92,327.69 L660.05,328.26 L660.17,328.86 L660.29,329.47 L660.40,330.10 L660.50,330.74 L660.60,331.40 L660.69,332.07 L660.77,332.76 L660.85,333.46 L660.93,334.17 L661.00,334.89 L661.06,335.62 L661.13,336.37 L661.19,337.12 L661.24,337.88 L661.30,338.65 L661.35,339.43 L661.40,340.22 L661.44,341.01 L661.49,341.81 L661.53,342.61 L661.58,343.42 L661.62,344.24 L661.67,345.06 L661.71,345.88 L661.76,346.71 L661.80,347.54 L661.85,348.37 L661.90,349.21 L661.95,350.05 L662.00,350.90 L662.05,351.75 L662.11,352.61 L662.17,353.46 L662.23,354.32 L662.29,355.19 L662.36,356.05 L662.43,356.92 L662.51,357.79 L662.59,358.67 L662.67,359.54 L662.76,360.42 L662.85,361.30 L662.95,362.18 L663.06,363.07 L663.17,363.95 L663.28,364.84 L663.39,365.72 L663.51,366.61 L663.64,367.50 L663.76,368.39 L663.89,369.28 L664.02,370.17 L664.15,371.06 L664.28,371.95 L664.41,372.85 L664.55,373.74 L664.68,374.63 L664.81,375.52 L664.95,376.41 L665.08,377.30 L665.21,378.18 L665.34,379.07 L665.47,379.95 L665.59,380.84 L665.72,381.72 L665.84,382.60 L665.96,383.48 L666.07,384.36 L666.19,385.23 L666.30,386.10 L666.41,386.97 L666.53,387.84 L666.64,388.71 L666.75,389.57 L666.87,390.43 L666.98,391.29 L667.10,392.14 L667.22,393.00 L667.34,393.85 L667.46,394.69 L667.59,395.54 L667.72,396.38 L667.85,397.22 L667.99,398.05 L668.13,398.88 L668.28,399.71 L668.43,400.54 L668.59,401.36 L668.75,402.17 L668.92,402.97 L669.10,403.75 L669.28,404.50 L669.46,405.22 L669.64,405.90 L669.83,406.54 L670.02,407.12 L670.22,407.65 L670.41,408.11 L670.60,408.50 L670.80,408.81 L670.99,409.03 L671.19,409.17 L671.38,409.20 L671.57,409.14 L671.76,408.99 L671.95,408.75 L672.13,408.44 L672.31,408.04 L672.48,407.59 L672.65,407.07 L672.81,406.49 L672.96,405.87 L673.10,405.20 L673.23,404.50 L673.35,403.76 L673.47,403.00 L673.57,402.23 L673.67,401.45 L673.77,400.67 L673.87,399.91 L673.96,399.16 L674.06,398.43 L674.16,397.74 L674.27,397.10 L674.39,396.50 L674.52,395.96 L674.66,395.50 L674.82,395.10 L674.99,394.79 L675.18,394.58 L675.40,394.46 L675.63,394.45 L675.88,394.52 L676.14,394.68 L676.41,394.92 L676.68,395.22 L676.95,395.58 L677.21,395.99 L677.47,396.43 L677.71,396.91 L677.93,397.41 L678.13,397.94 L678.32,398.48 L678.50,399.04 L678.66,399.62 L678.81,400.22 L678.95,400.83 L679.09,401.46 L679.21,402.09 L679.33,402.74 L679.45,403.40 L679.56,404.07 L679.67,404.75 L679.79,405.44 L679.90,406.13 L680.02,406.83 L680.14,407.53 L680.27,408.23 L680.40,408.93 L680.54,409.64 L680.68,410.35 L680.82,411.07 L680.97,411.78 L681.13,412.50 L681.29,413.23 L681.45,413.96 L681.62,414.69 L681.79,415.42 L681.96,416.16 L682.13,416.91 L682.31,417.65 L682.49,418.41 L682.68,419.16 L682.86,419.92 L683.05,420.69 L683.24,421.46 L683.43,422.23 L683.62,423.00 L683.82,423.77 L684.01,424.52 L684.21,425.25 L684.40,425.95 L684.60,426.61 L684.79,427.23 L684.99,427.79 L685.19,428.30 L685.38,428.74 L685.58,429.11 L685.77,429.39 L685.96,429.59 L686.16,429.69 L686.35,429.69 L686.53,429.59 L686.72,429.40 L686.90,429.12 L687.09,428.76 L687.27,428.33 L687.44,427.84 L687.62,427.29 L687.79,426.69 L687.95,426.05 L688.12,425.37 L688.28,424.66 L688.44,423.93 L688.59,423.19 L688.74,422.42 L688.88,421.64 L689.02,420.85 L689.16,420.04 L689.30,419.22 L689.43,418.39 L689.56,417.55 L689.68,416.69 L689.81,415.82 L689.93,414.95 L690.05,414.06 L690.17,413.16 L690.29,412.26 L690.41,411.35 L690.53,410.43 L690.64,409.51 L690.76,408.58 L690.87,407.64 L690.98,406.71 L691.10,405.76 L691.21,404.82 L691.33,403.87 L691.44,402.92 L691.56,401.97 L691.68,401.02 L691.79,400.07 L691.91,399.12 L692.03,398.16 L692.15,397.21 L692.26,396.27 L692.38,395.32 L692.50,394.38 L692.62,393.43 L692.74,392.50 L692.86,391.56 L692.98,390.64 L693.10,389.71 L693.22,388.79 L693.34,387.88 L693.46,386.97 L693.58,386.07 L693.71,385.18 L693.83,384.30 L693.95,383.42 L694.07,382.55 L694.19,381.69 L694.31,380.85 L694.43,380.01 L694.55,379.18 L694.67,378.36 L694.79,377.54 L694.91,376.74 L695.03,375.94 L695.16,375.15 L695.28,374.37 L695.41,373.59 L695.54,372.82 L695.67,372.06 L695.80,371.30 L695.93,370.54 L696.07,369.80 L696.21,369.05 L696.35,368.31 L696.49,367.58 L696.64,366.84 L696.79,366.11 L696.95,365.39 L697.10,364.67 L697.27,363.95 L697.43,363.25 L697.61,362.56 L697.79,361.90 L697.97,361.26 L698.17,360.64 L698.37,360.07 L698.59,359.52 L698.81,359.02 L699.05,358.57 L699.29,358.16 L699.55,357.81 L699.83,357.52 L700.11,357.29 L700.41,357.13 L700.72,357.03 L701.04,356.99 L701.35,357.01 L701.66,357.08 L701.97,357.21 L702.25,357.39 L702.52,357.62 L702.77,357.90 L703.00,358.22 L703.21,358.58 L703.40,358.98 L703.59,359.42 L703.76,359.88 L703.92,360.38 L704.08,360.90 L704.23,361.45 L704.38,362.02 L704.54,362.61 L704.69,363.21 L704.85,363.83 L705.02,364.45 L705.20,365.09 L705.39,365.73 L705.58,366.39 L705.78,367.05 L705.98,367.73 L706.19,368.41 L706.40,369.11 L706.61,369.81 L706.83,370.53 L707.05,371.26 L707.26,372.00 L707.48,372.75 L707.69,373.52 L707.90,374.29 L708.11,375.08 L708.31,375.88 L708.51,376.70 L708.71,377.52 L708.89,378.36 L709.07,379.22 L709.24,380.08 L709.41,380.96 L709.57,381.85 L709.72,382.75 L709.87,383.66 L710.01,384.59 L710.15,385.52 L710.29,386.46 L710.41,387.41 L710.54,388.36 L710.66,389.33 L710.78,390.30 L710.89,391.27 L711.01,392.26 L711.12,393.24 L711.23,394.23 L711.33,395.23 L711.44,396.22 L711.55,397.23 L711.65,398.23 L711.76,399.23 L711.86,400.24 L711.97,401.24 L712.07,402.25 L712.18,403.25 L712.29,404.25 L712.40,405.25 L712.51,406.25 L712.63,407.25 L712.74,408.24 L712.86,409.23 L712.98,410.22 L713.10,411.20 L713.22,412.18 L713.34,413.16 L713.46,414.13 L713.59,415.09 L713.72,416.05 L713.85,417.01 L713.98,417.96 L714.11,418.90 L714.24,419.83 L714.38,420.76 L714.52,421.68 L714.66,422.59 L714.80,423.49 L714.95,424.38 L715.09,425.27 L715.24,426.14 L715.39,427.01 L715.54,427.86 L715.69,428.71 L715.85,429.54 L716.00,430.37 L716.16,431.19 L716.32,432.00 L716.47,432.80 L716.63,433.59 L716.79,434.37 L716.95,435.14 L717.11,435.91 L717.27,436.67 L717.42,437.42 L717.58,438.16 L717.74,438.89 L717.89,439.62 L718.04,440.34 L718.19,441.05 L718.34,441.76 L718.49,442.45 L718.64,443.15 L718.78,443.83 L718.92,444.51 L719.06,445.18 L719.20,445.84 L719.34,446.49 L719.48,447.14 L719.61,447.77 L719.75,448.40 L719.89,449.02 L720.04,449.62 L720.18,450.22 L720.33,450.80 L720.47,451.38 L720.62,451.94 L720.78,452.49 L720.94,453.02 L721.10,453.55 L721.27,454.06 L721.44,454.56 L721.62,455.06 L721.81,455.55 L722.00,456.04 L722.21,456.53 L722.42,457.01 L722.65,457.50 L722.89,457.98 L723.15,458.48 L723.42,458.98 L723.70,459.48 L724.00,460.00 L724.32,460.53 L724.65,461.06 L724.99,461.61 L725.34,462.17 L725.71,462.73 L726.07,463.30 L726.45,463.88 L726.82,464.46 L727.19,465.05 L727.56,465.64 L727.92,466.24 L728.27,466.84 L728.62,467.44 L728.95,468.04 L729.26,468.64 L729.56,469.24 L729.84,469.85 L730.10,470.44 L730.34,471.04 L730.56,471.64 L730.75,472.24 L730.93,472.83 L731.09,473.43 L731.24,474.04 L731.38,474.64 L731.50,475.26 L731.62,475.88 L731.72,476.50 L731.82,477.13 L731.91,477.78 L732.00,478.43 L732.09,479.09 L732.18,479.77 L732.27,480.45 L732.36,481.15 L732.45,481.87 L732.55,482.59 L732.65,483.33 L732.75,484.07 L732.86,484.81 L732.97,485.56 L733.08,486.31 L733.19,487.06 L733.31,487.81 L733.43,488.55 L733.55,489.28 L733.67,490.00 L733.80,490.72 L733.93,491.41 L734.06,492.10 L734.19,492.76 L734.33,493.41 L734.46,494.04 L734.60,494.64 L734.74,495.22 L734.89,495.76 L735.05,496.28 L735.21,496.76 L735.39,497.19 L735.59,497.59 L735.79,497.94 L736.02,498.24 L736.27,498.49 L736.55,498.68 L736.84,498.82 L737.17,498.89 L737.51,498.90 L737.88,498.86 L738.25,498.77 L738.63,498.63 L739.02,498.44 L739.40,498.22 L739.77,497.95 L740.13,497.66 L740.47,497.33 L740.80,496.97 L741.10,496.58 L741.38,496.17 L741.64,495.73 L741.89,495.26 L742.13,494.76 L742.36,494.24 L742.58,493.69 L742.79,493.11 L743.00,492.50 L743.20,491.87 L743.41,491.21 L743.61,490.53 L743.83,489.81 L744.04,489.07 L744.27,488.30 L744.50,487.51 L744.75,486.70 L745.00,485.88 L745.26,485.05 L745.52,484.24 L745.78,483.44 L746.04,482.68 L746.29,481.94 L746.54,481.26 L746.79,480.63 L747.03,480.06 L747.25,479.57 L747.46,479.15 L747.66,478.83 L747.84,478.62 L748.01,478.51 L748.15,478.52 L748.27,478.65 L748.39,478.88 L748.49,479.19 L748.60,479.57 L748.71,480.00 L748.84,480.46 L748.99,480.93 L749.17,481.40 L749.39,481.85 L749.64,482.26 L749.94,482.62 L750.28,482.93 L750.65,483.21 L751.05,483.46 L751.46,483.68 L751.88,483.89 L752.30,484.10 L752.72,484.30 L753.12,484.51 L753.50,484.74 L753.86,484.99 L754.18,485.28 L754.46,485.59 L754.71,485.95 L754.92,486.33 L755.10,486.73 L755.26,487.17 L755.40,487.62 L755.52,488.08 L755.63,488.56 L755.73,489.06 L755.83,489.56 L755.92,490.06 L756.01,490.56 L756.11,491.07 L756.21,491.57 L756.32,492.07 L756.43,492.58 L756.54,493.08 L756.65,493.60 L756.77,494.12 L756.88,494.64 L756.99,495.17 L757.10,495.71 L757.20,496.26 L757.31,496.83 L757.41,497.40 L757.50,497.99 L757.59,498.59 L757.67,499.21 L757.74,499.84 L757.82,500.48 L757.88,501.14 L757.95,501.80 L758.01,502.47 L758.06,503.16 L758.11,503.85 L758.16,504.54 L758.21,505.24 L758.26,505.95 L758.30,506.66 L758.34,507.37 L758.38,508.08 L758.43,508.79 L758.47,509.51 L758.51,510.22 L758.55,510.93 L758.59,511.64 L758.63,512.34 L758.68,513.05 L758.72,513.75 L758.77,514.44 L758.82,515.13 L758.87,515.82 L758.92,516.50 L758.98,517.18 L759.04,517.85 L759.10,518.52 L759.16,519.18 L759.23,519.83 L759.30,520.47 L759.37,521.11 L759.45,521.74 L759.54,522.36 L759.62,522.98 L759.72,523.59 L759.81,524.19 L759.91,524.78 L760.02,525.37 L760.14,525.95 L760.26,526.53 L760.38,527.10 L760.52,527.67 L760.66,528.24 L760.81,528.80 L760.96,529.36 L761.13,529.92 L761.30,530.48 L761.48,531.04 L761.67,531.60 L761.87,532.17 L762.08,532.73 L762.29,533.29 L762.51,533.85 L762.73,534.42 L762.96,534.98 L763.19,535.55 L763.42,536.11 L763.66,536.68 L763.90,537.26 L764.14,537.83 L764.37,538.40 L764.61,538.98 L764.85,539.56 L765.08,540.15 L765.31,540.73 L765.53,541.31 L765.75,541.88 L765.97,542.43 L766.19,542.95 L766.40,543.43 L766.60,543.88 L766.80,544.27 L767.00,544.61 L767.19,544.88 L767.38,545.07 L767.57,545.19 L767.75,545.22 L767.92,545.16 L768.09,545.03 L768.25,544.84 L768.41,544.59 L768.56,544.29 L768.71,543.95 L768.84,543.57 L768.97,543.16 L769.10,542.72 L769.21,542.25 L769.33,541.75 L769.44,541.23 L769.54,540.69 L769.64,540.13 L769.74,539.55 L769.83,538.96 L769.92,538.36 L770.01,537.74 L770.10,537.12 L770.18,536.50 L770.27,535.87 L770.35,535.24 L770.43,534.62 L770.52,533.99 L770.61,533.37 L770.69,532.76 L770.78,532.15 L770.88,531.56 L770.98,530.98 L771.08,530.41 L771.18,529.86 L771.30,529.33 L771.41,528.82 L771.54,528.33 L771.67,527.86 L771.81,527.42 L771.96,527.02 L772.11,526.65 L772.28,526.33 L772.46,526.06 L772.64,525.85 L772.84,525.69 L773.05,525.61 L773.28,525.60 L773.51,525.65 L773.76,525.77 L774.01,525.94 L774.26,526.16 L774.52,526.41 L774.77,526.70 L775.03,527.01 L775.27,527.33 L775.51,527.66 L775.75,527.98 L775.98,528.28 L776.21,528.55 L776.44,528.78 L776.67,528.96 L776.90,529.07 L777.12,529.10 L777.35,529.04 L777.58,528.91 L777.81,528.70 L778.03,528.43 L778.24,528.10 L778.45,527.73 L778.65,527.31 L778.83,526.86 L779.00,526.39 L779.16,525.91 L779.30,525.41 L779.43,524.90 L779.54,524.40 L779.65,523.89 L779.75,523.38 L779.85,522.89 L779.95,522.40 L780.06,521.92 L780.16,521.46 L780.28,521.03 L780.41,520.61 L780.55,520.22 L780.71,519.86 L780.88,519.52 L781.07,519.20 L781.26,518.90 L781.46,518.59 L781.67,518.28 L781.88,517.96 L782.09,517.62 L782.29,517.25 L782.49,516.85 L782.68,516.41 L782.86,515.93 L783.03,515.42 L783.19,514.89 L783.35,514.37 L783.51,513.85 L783.66,513.35 L783.82,512.89 L783.99,512.48 L784.15,512.13 L784.33,511.85 L784.51,511.66 L784.71,511.56 L784.91,511.56 L785.12,511.65 L785.33,511.81 L785.53,512.03 L785.72,512.30 L785.90,512.60 L786.06,512.93 L786.19,513.28 L786.31,513.65 L786.41,514.05 L786.50,514.47 L786.58,514.91 L786.65,515.37 L786.71,515.86 L786.76,516.37 L786.81,516.91 L786.85,517.47 L786.90,518.05 L786.94,518.65 L786.99,519.28 L787.04,519.92 L787.08,520.58 L787.13,521.25 L787.19,521.94 L787.24,522.64 L787.29,523.34 L787.35,524.04 L787.40,524.75 L787.46,525.46 L787.52,526.16 L787.58,526.86 L787.65,527.56 L787.71,528.24 L787.78,528.91 L787.84,529.57 L787.91,530.21 L787.98,530.83 L788.05,531.43 L788.13,532.02 L788.20,532.60 L788.28,533.16 L788.36,533.71 L788.44,534.25 L788.52,534.78 L788.61,535.31 L788.70,535.83 L788.78,536.35 L788.88,536.87 L788.97,537.39 L789.06,537.91 L789.16,538.43 L789.26,538.95 L789.36,539.48 L789.47,540.01 L789.57,540.53 L789.68,541.06 L789.79,541.58 L789.90,542.11 L790.01,542.62 L790.12,543.14 L790.23,543.65 L790.35,544.15 L790.47,544.64 L790.58,545.13 L790.70,545.61 L790.82,546.07 L790.94,546.53 L791.06,546.98 L791.18,547.42 L791.31,547.86 L791.44,548.28 L791.57,548.69 L791.70,549.10 L791.84,549.50 L791.98,549.88 L792.13,550.26 L792.27,550.64 L792.43,551.00 L792.58,551.36 L792.74,551.71 L792.89,552.05 L793.05,552.38 L793.21,552.70 L793.36,553.02 L793.51,553.33 L793.67,553.63 L793.81,553.93 L793.96,554.22 L794.11,554.50 L794.27,554.79 L794.42,555.07 L794.59,555.35 L794.77,555.64 L794.96,555.94 L795.16,556.23 L795.37,556.53 L795.60,556.82 L795.83,557.10 L796.07,557.36 L796.31,557.58 L796.56,557.77 L796.80,557.92 L797.04,558.01 L797.28,558.05 L797.51,558.02 L797.73,557.91 L797.93,557.72 L798.13,557.44 L798.30,557.07 L798.46,556.59 L798.60,556.00" stroke="#000" stroke-width="1.65" stroke-dasharray="8.6 2.67" stroke-dashoffset="6.65"/>
<path d="M135.35,440.60 L135.71,440.10 L136.10,439.57 L136.50,439.00 L136.92,438.39 L137.36,437.75 L137.82,437.08 L138.30,436.38 L138.79,435.65 L139.29,434.89 L139.81,434.10 L140.34,433.29 L140.88,432.46 L141.43,431.61 L142.00,430.74 L142.57,429.85 L143.15,428.95 L143.74,428.03 L144.33,427.10 L144.93,426.15 L145.54,425.20 L146.14,424.25 L146.76,423.28 L147.37,422.31 L147.98,421.34 L148.59,420.37 L149.21,419.39 L149.82,418.42 L150.43,417.46 L151.03,416.50 L151.63,415.54 L152.22,414.60 L152.81,413.66 L153.39,412.74 L153.96,411.83 L154.53,410.94 L155.08,410.06 L155.62,409.20 L156.15,408.36 L156.67,407.55 L157.18,406.76 L157.67,405.99 L158.14,405.25 L158.60,404.53 L159.04,403.85 L159.46,403.20 L159.87,402.58 L160.26,401.99 L160.63,401.42 L161.00,400.88 L161.35,400.34 L161.70,399.82 L162.05,399.30 L162.40,398.79 L162.74,398.28 L163.10,397.75 L163.45,397.22 L163.82,396.67 L164.20,396.10 L164.59,395.51 L165.00,394.89 L165.43,394.24 L165.88,393.56 L166.34,392.86 L166.81,392.13 L167.30,391.38 L167.79,390.62 L168.29,389.85 L168.79,389.07 L169.30,388.28 L169.80,387.50 L170.30,386.71 L170.79,385.93 L171.28,385.16 L171.76,384.41 L172.23,383.66 L172.68,382.94 L173.12,382.24 L173.54,381.57 L173.94,380.93 L174.31,380.32 L174.67,379.74 L175.00,379.19 L175.32,378.67 L175.62,378.17 L175.91,377.69 L176.20,377.22 L176.48,376.76 L176.77,376.30 L177.05,375.85 L177.34,375.39 L177.65,374.92 L177.96,374.44 L178.29,373.94 L178.64,373.42 L179.01,372.88 L179.39,372.33 L179.79,371.75 L180.21,371.16 L180.64,370.56 L181.08,369.93 L181.54,369.29 L182.01,368.64 L182.49,367.97 L182.98,367.30 L183.48,366.61 L183.99,365.90 L184.50,365.19 L185.03,364.47 L185.55,363.74 L186.09,363.01 L186.63,362.26 L187.17,361.51 L187.71,360.76 L188.26,360.00 L188.80,359.24 L189.35,358.48 L189.89,357.72 L190.44,356.96 L190.98,356.21 L191.51,355.45 L192.05,354.71 L192.58,353.97 L193.10,353.24 L193.61,352.52 L194.12,351.81 L194.62,351.11 L195.11,350.43 L195.59,349.76 L196.06,349.10 L196.52,348.47 L196.96,347.85 L197.39,347.25 L197.81,346.67 L198.22,346.11 L198.62,345.56 L199.01,345.03 L199.39,344.51 L199.77,343.99 L200.14,343.49 L200.50,342.98 L200.87,342.49 L201.23,341.99 L201.59,341.50 L201.95,341.00 L202.31,340.50 L202.68,339.99 L203.05,339.48 L203.42,338.96 L203.79,338.44 L204.17,337.91 L204.55,337.38 L204.93,336.84 L205.32,336.30 L205.70,335.75 L206.08,335.20 L206.47,334.65 L206.85,334.10 L207.24,333.55 L207.62,332.99 L208.00,332.44 L208.38,331.88 L208.76,331.33 L209.13,330.78 L209.50,330.23 L209.87,329.68 L210.25,329.13 L210.62,328.58 L210.99,328.03 L211.36,327.49 L211.73,326.95 L212.10,326.41 L212.48,325.88 L212.85,325.34 L213.23,324.82 L213.61,324.29 L214.00,323.77 L214.38,323.25 L214.77,322.74 L215.16,322.23 L215.56,321.72 L215.95,321.22 L216.35,320.72 L216.75,320.22 L217.15,319.72 L217.54,319.23 L217.94,318.74 L218.34,318.25 L218.74,317.76 L219.13,317.28 L219.52,316.79 L219.92,316.31 L220.31,315.83 L220.69,315.35 L221.08,314.87 L221.47,314.38 L221.86,313.90 L222.25,313.42 L222.64,312.94 L223.04,312.46 L223.44,311.97 L223.84,311.48 L224.24,311.00 L224.65,310.50 L225.07,310.01 L225.49,309.51 L225.92,309.02 L226.35,308.51 L226.79,308.01 L227.23,307.51 L227.67,307.01 L228.11,306.51 L228.56,306.01 L229.00,305.51 L229.44,305.02 L229.88,304.53 L230.31,304.05 L230.74,303.57 L231.16,303.10 L231.58,302.64 L231.98,302.18 L232.39,301.73 L232.78,301.29 L233.18,300.85 L233.57,300.41 L233.96,299.97 L234.35,299.53 L234.74,299.08 L235.14,298.62 L235.55,298.16 L235.96,297.68 L236.38,297.19 L236.81,296.69 L237.26,296.17 L237.72,295.63 L238.19,295.07 L238.67,294.50 L239.16,293.91 L239.66,293.32 L240.17,292.71 L240.68,292.11 L241.20,291.49 L241.72,290.88 L242.24,290.28 L242.75,289.67 L243.26,289.08 L243.77,288.49 L244.27,287.92 L244.76,287.37 L245.24,286.83 L245.71,286.31 L246.17,285.82 L246.61,285.35 L247.04,284.90 L247.46,284.47 L247.88,284.05 L248.28,283.64 L248.68,283.25 L249.08,282.86 L249.48,282.47 L249.88,282.08 L250.29,281.69 L250.69,281.29 L251.11,280.88 L251.54,280.47 L251.97,280.03 L252.42,279.58 L252.87,279.13 L253.33,278.66 L253.81,278.18 L254.29,277.69 L254.77,277.19 L255.27,276.69 L255.77,276.18 L256.27,275.67 L256.78,275.16 L257.30,274.65 L257.82,274.14 L258.34,273.63 L258.86,273.12 L259.39,272.62 L259.91,272.13 L260.44,271.64 L260.97,271.15 L261.51,270.67 L262.04,270.20 L262.58,269.73 L263.11,269.27 L263.65,268.82 L264.19,268.37 L264.73,267.93 L265.28,267.50 L265.82,267.07 L266.37,266.65 L266.92,266.24 L267.47,265.84 L268.02,265.45 L268.57,265.06 L269.12,264.68 L269.67,264.31 L270.23,263.95 L270.78,263.60 L271.33,263.25 L271.88,262.91 L272.42,262.58 L272.97,262.26 L273.51,261.94 L274.05,261.63 L274.58,261.33 L275.11,261.03 L275.63,260.74 L276.14,260.46 L276.65,260.18 L277.16,259.91 L277.66,259.64 L278.16,259.38 L278.65,259.12 L279.14,258.86 L279.62,258.60 L280.10,258.35 L280.58,258.10 L281.06,257.85 L281.53,257.60 L282.01,257.34 L282.48,257.09 L282.95,256.83 L283.42,256.57 L283.89,256.31 L284.37,256.05 L284.84,255.79 L285.31,255.52 L285.79,255.25 L286.27,254.98 L286.75,254.71 L287.23,254.43 L287.72,254.15 L288.21,253.86 L288.71,253.57 L289.20,253.28 L289.70,252.99 L290.20,252.69 L290.70,252.39 L291.21,252.09 L291.71,251.79 L292.20,251.49 L292.70,251.19 L293.19,250.89 L293.68,250.59 L294.16,250.29 L294.64,249.99 L295.11,249.69 L295.58,249.39 L296.04,249.10 L296.50,248.80 L296.96,248.51 L297.41,248.22 L297.86,247.92 L298.31,247.63 L298.75,247.34 L299.20,247.06 L299.64,246.77 L300.08,246.48 L300.53,246.19 L300.97,245.91 L301.41,245.62 L301.86,245.34 L302.31,245.05 L302.76,244.76 L303.21,244.48 L303.66,244.19 L304.12,243.90 L304.58,243.61 L305.05,243.32 L305.52,243.03 L305.99,242.73 L306.47,242.44 L306.95,242.14 L307.44,241.84 L307.93,241.54 L308.43,241.23 L308.92,240.92 L309.43,240.61 L309.93,240.30 L310.44,239.98 L310.95,239.66 L311.46,239.34 L311.98,239.01 L312.50,238.68 L313.02,238.35 L313.54,238.01 L314.07,237.68 L314.60,237.34 L315.13,237.00 L315.66,236.66 L316.20,236.33 L316.74,236.00 L317.29,235.67 L317.84,235.34 L318.39,235.03 L318.94,234.71 L319.50,234.41 L320.06,234.11 L320.63,233.82 L321.20,233.53 L321.77,233.25 L322.35,232.98 L322.92,232.71 L323.50,232.44 L324.08,232.18 L324.66,231.92 L325.24,231.66 L325.82,231.40 L326.40,231.14 L326.97,230.88 L327.55,230.61 L328.12,230.34 L328.69,230.07 L329.26,229.80 L329.82,229.52 L330.39,229.25 L330.95,228.97 L331.52,228.70 L332.08,228.43 L332.64,228.16 L333.20,227.90 L333.77,227.64 L334.33,227.39 L334.90,227.15 L335.46,226.91 L336.03,226.69 L336.61,226.47 L337.18,226.26 L337.76,226.07 L338.34,225.88 L338.92,225.70 L339.50,225.53 L340.09,225.37 L340.67,225.22 L341.26,225.07 L341.84,224.94 L342.43,224.81 L343.02,224.69 L343.61,224.57 L344.20,224.47 L344.78,224.36 L345.37,224.27 L345.96,224.18 L346.55,224.10 L347.14,224.03 L347.73,223.96 L348.32,223.90 L348.91,223.85 L349.51,223.81 L350.10,223.77 L350.70,223.74 L351.29,223.72 L351.89,223.70 L352.49,223.69 L353.09,223.69 L353.69,223.70 L354.29,223.72 L354.89,223.74 L355.49,223.77 L356.09,223.81 L356.68,223.86 L357.28,223.92 L357.87,223.98 L358.45,224.06 L359.03,224.14 L359.61,224.23 L360.18,224.33 L360.75,224.44 L361.31,224.56 L361.87,224.69 L362.43,224.82 L362.99,224.95 L363.56,225.09 L364.13,225.23 L364.71,225.37 L365.30,225.51 L365.90,225.66 L366.51,225.79 L367.14,225.93 L367.78,226.06 L368.44,226.18 L369.12,226.30 L369.81,226.41 L370.51,226.52 L371.22,226.62 L371.93,226.71 L372.65,226.79 L373.36,226.87 L374.07,226.94 L374.76,227.00 L375.45,227.06 L376.12,227.10 L376.78,227.14 L377.41,227.17 L378.02,227.19 L378.60,227.20 L379.16,227.20 L379.69,227.20 L380.20,227.18 L380.69,227.15 L381.18,227.11 L381.65,227.06 L382.12,227.00 L382.59,226.92 L383.06,226.84 L383.54,226.73 L384.04,226.62 L384.54,226.48 L385.07,226.34 L385.61,226.18 L386.16,226.02 L386.73,225.85 L387.30,225.67 L387.89,225.49 L388.48,225.31 L389.09,225.12 L389.70,224.94 L390.31,224.77 L390.93,224.60 L391.55,224.43 L392.18,224.28 L392.80,224.14 L393.42,224.01 L394.05,223.89 L394.66,223.78 L395.28,223.69 L395.89,223.60 L396.49,223.52 L397.08,223.45 L397.67,223.38 L398.24,223.33 L398.80,223.28 L399.35,223.24 L399.88,223.21 L400.40,223.19 L400.90,223.17 L401.38,223.16 L401.86,223.15 L402.32,223.16 L402.77,223.18 L403.22,223.22 L403.66,223.27 L404.09,223.33 L404.52,223.41 L404.95,223.51 L405.38,223.63 L405.81,223.77 L406.24,223.92 L406.68,224.09 L407.11,224.28 L407.55,224.48 L407.99,224.69 L408.43,224.91 L408.88,225.15 L409.34,225.40 L409.80,225.66 L410.27,225.92 L410.74,226.19 L411.22,226.47 L411.70,226.75 L412.19,227.03 L412.69,227.32 L413.19,227.60 L413.70,227.88 L414.20,228.15 L414.72,228.42 L415.23,228.69 L415.76,228.94 L416.28,229.18 L416.81,229.41 L417.33,229.63 L417.86,229.84 L418.39,230.03 L418.92,230.21 L419.45,230.38 L419.97,230.53 L420.49,230.68 L421.00,230.80 L421.51,230.92 L422.01,231.02 L422.50,231.10 L422.98,231.17 L423.46,231.23 L423.93,231.27 L424.39,231.30 L424.85,231.31 L425.30,231.32 L425.75,231.31 L426.20,231.29 L426.65,231.26 L427.10,231.22 L427.55,231.17 L428.00,231.11 L428.46,231.05 L428.91,230.98 L429.37,230.90 L429.83,230.82 L430.28,230.74 L430.74,230.65 L431.20,230.57 L431.66,230.48 L432.12,230.40 L432.58,230.32 L433.04,230.24 L433.50,230.17 L433.95,230.10 L434.41,230.04 L434.87,229.99 L435.33,229.95 L435.79,229.92 L436.25,229.90 L436.70,229.90 L437.16,229.91 L437.62,229.93 L438.08,229.96 L438.53,230.01 L438.99,230.07 L439.45,230.15 L439.91,230.24 L440.36,230.34 L440.82,230.45 L441.27,230.57 L441.73,230.71 L442.18,230.86 L442.63,231.01 L443.08,231.17 L443.53,231.34 L443.98,231.51 L444.43,231.68 L444.87,231.85 L445.32,232.01 L445.76,232.16 L446.20,232.31 L446.63,232.44 L447.06,232.56 L447.50,232.66 L447.93,232.75 L448.37,232.83 L448.82,232.90 L449.27,232.94 L449.74,232.98 L450.21,233.00 L450.70,233.01 L451.21,233.00 L451.73,232.98 L452.27,232.95 L452.83,232.90 L453.40,232.85 L453.98,232.78 L454.57,232.70 L455.17,232.62 L455.78,232.54 L456.39,232.45 L457.01,232.35 L457.63,232.26 L458.24,232.16 L458.86,232.07 L459.47,231.97 L460.08,231.88 L460.69,231.80 L461.29,231.71 L461.89,231.63 L462.48,231.55 L463.07,231.47 L463.66,231.39 L464.25,231.31 L464.83,231.23 L465.41,231.16 L465.99,231.08 L466.57,231.00 L467.15,230.92 L467.73,230.84 L468.30,230.76 L468.88,230.68 L469.44,230.60 L470.00,230.52 L470.55,230.45 L471.09,230.38 L471.61,230.31 L472.12,230.25 L472.61,230.20 L473.09,230.15 L473.54,230.11 L473.97,230.08 L474.38,230.06 L474.78,230.05 L475.16,230.05 L475.53,230.06 L475.89,230.08 L476.26,230.11 L476.62,230.15 L476.99,230.20 L477.37,230.26 L477.76,230.33 L478.15,230.41 L478.56,230.50 L478.98,230.60 L479.41,230.71 L479.85,230.82 L480.30,230.94 L480.76,231.07 L481.24,231.21 L481.72,231.35 L482.22,231.50 L482.73,231.65 L483.25,231.79 L483.77,231.93 L484.31,232.06 L484.84,232.18 L485.38,232.28 L485.92,232.37 L486.46,232.44 L487.00,232.48 L487.54,232.50 L488.08,232.49 L488.61,232.45 L489.14,232.39 L489.67,232.31 L490.20,232.22 L490.72,232.11 L491.24,231.99 L491.77,231.86 L492.29,231.72 L492.81,231.59 L493.33,231.46 L493.86,231.33 L494.38,231.21 L494.91,231.11 L495.44,231.01 L495.97,230.91 L496.50,230.83 L497.03,230.76 L497.56,230.70 L498.09,230.64 L498.62,230.59 L499.15,230.56 L499.68,230.53 L500.20,230.51 L500.73,230.49 L501.26,230.49 L501.78,230.49 L502.31,230.51 L502.83,230.53 L503.36,230.56 L503.89,230.60 L504.42,230.65 L504.95,230.71 L505.48,230.78 L506.02,230.86 L506.56,230.96 L507.10,231.06 L507.65,231.17 L508.20,231.29 L508.76,231.41 L509.32,231.55 L509.89,231.68 L510.47,231.83 L511.05,231.97 L511.64,232.11 L512.24,232.25 L512.85,232.39 L513.47,232.53 L514.10,232.66 L514.74,232.79 L515.39,232.91 L516.05,233.02 L516.71,233.13 L517.38,233.23 L518.05,233.33 L518.73,233.43 L519.40,233.52 L520.07,233.62 L520.73,233.72 L521.39,233.82 L522.04,233.92 L522.67,234.03 L523.29,234.14 L523.89,234.27 L524.48,234.39 L525.04,234.53 L525.59,234.68 L526.12,234.83 L526.64,234.99 L527.15,235.16 L527.65,235.33 L528.15,235.50 L528.65,235.68 L529.15,235.87 L529.65,236.05 L530.16,236.24 L530.68,236.42 L531.22,236.61 L531.76,236.79 L532.31,236.98 L532.87,237.16 L533.43,237.33 L533.98,237.50 L534.53,237.66 L535.06,237.82 L535.58,237.96 L536.07,238.10 L536.55,238.22 L537.00,238.33 L537.41,238.42 L537.79,238.50 L538.15,238.57 L538.48,238.61 L538.79,238.63 L539.09,238.62 L539.38,238.58 L539.67,238.51 L539.96,238.41 L540.25,238.27 L540.54,238.10 L540.82,237.89 L541.11,237.64 L541.40,237.37 L541.68,237.05 L541.95,236.70 L542.22,236.32 L542.49,235.90 L542.75,235.45 L543.00,234.97 L543.25,234.47 L543.49,233.94 L543.73,233.39 L543.96,232.83 L544.20,232.25 L544.42,231.66 L544.65,231.06 L544.87,230.46 L545.10,229.86 L545.32,229.25 L545.54,228.65 L545.76,228.05 L545.98,227.45 L546.20,226.86 L546.42,226.27 L546.64,225.69 L546.86,225.11 L547.09,224.54 L547.32,223.98 L547.55,223.42 L547.79,222.87 L548.03,222.32 L548.27,221.78 L548.52,221.25 L548.78,220.73 L549.04,220.22 L549.30,219.72 L549.57,219.24 L549.85,218.78 L550.13,218.33 L550.41,217.91 L550.69,217.52 L550.98,217.16 L551.28,216.82 L551.57,216.52 L551.87,216.26 L552.17,216.03 L552.47,215.84 L552.78,215.69 L553.09,215.58 L553.41,215.51 L553.74,215.48 L554.08,215.50 L554.42,215.56 L554.77,215.66 L555.12,215.79 L555.48,215.96 L555.84,216.16 L556.20,216.38 L556.56,216.62 L556.91,216.88 L557.25,217.16 L557.59,217.45 L557.92,217.74 L558.24,218.04 L558.56,218.34 L558.88,218.64 L559.19,218.94 L559.51,219.24 L559.83,219.53 L560.15,219.81 L560.48,220.09 L560.82,220.35 L561.17,220.59 L561.52,220.82 L561.87,221.02 L562.23,221.20 L562.60,221.35 L562.96,221.47 L563.33,221.55 L563.70,221.60 L564.06,221.60 L564.43,221.57 L564.80,221.50 L565.16,221.39 L565.52,221.24 L565.89,221.06 L566.25,220.85 L566.61,220.62 L566.97,220.35 L567.32,220.06 L567.68,219.74 L568.03,219.41 L568.39,219.06 L568.74,218.70 L569.09,218.32 L569.44,217.95 L569.79,217.57 L570.14,217.19 L570.50,216.82 L570.85,216.46 L571.20,216.10 L571.55,215.76 L571.90,215.44 L572.26,215.13 L572.63,214.84 L573.00,214.57 L573.39,214.32 L573.78,214.09 L574.18,213.89 L574.60,213.71 L575.04,213.56 L575.49,213.43 L575.95,213.32 L576.42,213.24 L576.89,213.16 L577.36,213.09 L577.83,213.01 L578.29,212.94 L578.75,212.85 L579.18,212.75 L579.60,212.63 L580.00,212.49 L580.38,212.32 L580.74,212.12 L581.08,211.89 L581.41,211.64 L581.72,211.36 L582.03,211.06 L582.33,210.72 L582.63,210.36 L582.92,209.97 L583.22,209.55 L583.51,209.10 L583.81,208.63 L584.10,208.14 L584.40,207.64 L584.69,207.11 L584.98,206.57 L585.28,206.02 L585.57,205.45 L585.86,204.88 L586.15,204.31 L586.44,203.73 L586.73,203.15 L587.02,202.57 L587.30,201.99 L587.59,201.42 L587.87,200.85 L588.16,200.29 L588.45,199.74 L588.74,199.20 L589.03,198.66 L589.32,198.14 L589.61,197.63 L589.91,197.13 L590.21,196.64 L590.51,196.17 L590.81,195.72 L591.13,195.29 L591.44,194.87 L591.76,194.48 L592.08,194.12 L592.40,193.79 L592.73,193.49 L593.06,193.23 L593.38,193.01 L593.71,192.84 L594.04,192.72 L594.37,192.65 L594.69,192.63 L595.02,192.66 L595.34,192.74 L595.66,192.88 L595.97,193.06 L596.27,193.29 L596.57,193.57 L596.86,193.90 L597.15,194.26 L597.42,194.67 L597.69,195.11 L597.96,195.58 L598.21,196.08 L598.46,196.60 L598.71,197.14 L598.95,197.70 L599.18,198.27 L599.41,198.85 L599.64,199.44 L599.86,200.03 L600.08,200.62 L600.29,201.21 L600.50,201.80 L600.72,202.40 L600.93,202.99 L601.14,203.59 L601.35,204.19 L601.56,204.80 L601.78,205.40 L602.00,206.01 L602.23,206.63 L602.46,207.24 L602.69,207.87 L602.94,208.49 L603.19,209.12 L603.44,209.74 L603.71,210.35 L603.98,210.93 L604.25,211.48 L604.52,211.98 L604.80,212.44 L605.08,212.83 L605.36,213.15 L605.64,213.40 L605.92,213.55 L606.20,213.61 L606.48,213.57 L606.75,213.44 L607.02,213.22 L607.29,212.93 L607.55,212.58 L607.81,212.17 L608.06,211.71 L608.31,211.21 L608.55,210.68 L608.79,210.13 L609.02,209.56 L609.24,208.96 L609.46,208.35 L609.68,207.72 L609.89,207.07 L610.09,206.41 L610.29,205.73 L610.49,205.04 L610.68,204.35 L610.87,203.64 L611.06,202.93 L611.25,202.21 L611.43,201.49 L611.61,200.77 L611.79,200.04 L611.96,199.32 L612.14,198.60 L612.32,197.87 L612.49,197.16 L612.67,196.44 L612.85,195.73 L613.04,195.03 L613.23,194.33 L613.42,193.63 L613.62,192.95 L613.82,192.28 L614.03,191.61 L614.25,190.96 L614.48,190.31 L614.71,189.68 L614.96,189.06 L615.21,188.46 L615.48,187.88 L615.75,187.33 L616.02,186.82 L616.31,186.36 L616.59,185.95 L616.88,185.61 L617.16,185.33 L617.45,185.13 L617.73,185.02 L618.01,185.00 L618.28,185.08 L618.55,185.25 L618.81,185.49 L619.07,185.81 L619.32,186.19 L619.56,186.63 L619.79,187.12 L620.02,187.65 L620.23,188.21 L620.44,188.80 L620.63,189.41 L620.82,190.05 L621.00,190.70 L621.17,191.37 L621.34,192.05 L621.50,192.75 L621.65,193.47 L621.80,194.19 L621.95,194.92 L622.09,195.66 L622.23,196.41 L622.37,197.16 L622.51,197.92 L622.65,198.67 L622.79,199.43 L622.93,200.18 L623.08,200.93 L623.22,201.68 L623.37,202.41 L623.52,203.15 L623.67,203.87 L623.83,204.59 L623.98,205.30 L624.14,206.00 L624.30,206.69 L624.45,207.37 L624.62,208.03 L624.78,208.68 L624.94,209.32 L625.11,209.94 L625.27,210.55 L625.44,211.14 L625.61,211.71 L625.78,212.26 L625.95,212.79 L626.13,213.31 L626.31,213.80 L626.50,214.27 L626.69,214.72 L626.89,215.15 L627.09,215.56 L627.31,215.94 L627.54,216.30 L627.77,216.64 L628.02,216.94 L628.27,217.21 L628.53,217.43 L628.80,217.59 L629.08,217.69 L629.36,217.72 L629.64,217.66 L629.93,217.53 L630.22,217.32 L630.51,217.05 L630.79,216.72 L631.08,216.33 L631.36,215.91 L631.64,215.44 L631.92,214.95 L632.18,214.44 L632.44,213.92 L632.69,213.38 L632.93,212.85 L633.17,212.31 L633.40,211.76 L633.63,211.22 L633.86,210.69 L634.09,210.15 L634.33,209.63 L634.57,209.11 L634.82,208.60 L635.08,208.10 L635.34,207.62 L635.63,207.16 L635.92,206.71 L636.23,206.29 L636.55,205.90 L636.88,205.54 L637.21,205.22 L637.54,204.94 L637.88,204.72 L638.22,204.55 L638.56,204.44 L638.89,204.40 L639.21,204.42 L639.53,204.51 L639.84,204.65 L640.14,204.85 L640.43,205.09 L640.71,205.38 L640.98,205.71 L641.24,206.06 L641.49,206.45 L641.73,206.86 L641.95,207.29 L642.17,207.74 L642.38,208.21 L642.58,208.70 L642.77,209.20 L642.96,209.71 L643.14,210.23 L643.32,210.75 L643.50,211.28 L643.67,211.81 L643.84,212.35 L644.01,212.87 L644.18,213.40 L644.36,213.92 L644.53,214.44 L644.72,214.95 L644.91,215.45 L645.12,215.94 L645.33,216.42 L645.56,216.89 L645.80,217.35 L646.05,217.79 L646.33,218.21 L646.61,218.61 L646.91,218.98 L647.22,219.31 L647.53,219.59 L647.85,219.81 L648.17,219.98 L648.50,220.08 L648.82,220.10 L649.13,220.04 L649.44,219.90 L649.74,219.70 L650.04,219.44 L650.34,219.12 L650.63,218.75 L650.91,218.35 L651.19,217.91 L651.46,217.45 L651.73,216.97 L651.99,216.47 L652.24,215.97 L652.49,215.45 L652.73,214.93 L652.98,214.39 L653.21,213.85 L653.45,213.30 L653.68,212.74 L653.91,212.19 L654.14,211.63 L654.37,211.07 L654.60,210.50 L654.82,209.94 L655.05,209.39 L655.28,208.83 L655.51,208.28 L655.75,207.74 L655.98,207.21 L656.23,206.69 L656.47,206.18 L656.73,205.68 L656.99,205.20 L657.25,204.74 L657.53,204.29 L657.81,203.87 L658.10,203.46 L658.41,203.08 L658.72,202.72 L659.03,202.38 L659.36,202.06 L659.68,201.77 L660.02,201.50 L660.35,201.25 L660.68,201.02 L661.02,200.81 L661.35,200.62 L661.68,200.45 L662.00,200.31 L662.33,200.20 L662.65,200.12 L662.96,200.07 L663.28,200.06 L663.58,200.10 L663.89,200.17 L664.19,200.29 L664.48,200.46 L664.77,200.66 L665.06,200.90 L665.34,201.18 L665.62,201.50 L665.89,201.85 L666.17,202.24 L666.44,202.65 L666.71,203.09 L666.98,203.54 L667.26,203.99 L667.54,204.44 L667.83,204.87 L668.13,205.29 L668.43,205.67 L668.75,206.02 L669.08,206.33 L669.42,206.58 L669.78,206.78 L670.15,206.94 L670.52,207.06 L670.90,207.16 L671.27,207.25 L671.65,207.33 L672.01,207.43 L672.36,207.54 L672.69,207.69 L673.01,207.87 L673.31,208.08 L673.60,208.32 L673.87,208.59 L674.14,208.88 L674.39,209.21 L674.63,209.55 L674.86,209.92 L675.08,210.32 L675.29,210.73 L675.50,211.16 L675.70,211.62 L675.90,212.09 L676.09,212.59 L676.28,213.10 L676.46,213.64 L676.65,214.19 L676.83,214.77 L677.01,215.37 L677.18,215.98 L677.36,216.62 L677.54,217.27 L677.72,217.95 L677.90,218.64 L678.08,219.34 L678.26,220.06 L678.44,220.79 L678.62,221.54 L678.80,222.29 L678.99,223.05 L679.17,223.82 L679.36,224.59 L679.54,225.37 L679.73,226.15 L679.92,226.93 L680.11,227.71 L680.30,228.49 L680.49,229.27 L680.69,230.05 L680.88,230.82 L681.08,231.58 L681.28,232.34 L681.47,233.10 L681.67,233.84 L681.86,234.58 L682.06,235.31 L682.25,236.03 L682.45,236.74 L682.64,237.45 L682.83,238.14 L683.01,238.82 L683.20,239.48 L683.38,240.14 L683.56,240.78 L683.73,241.40 L683.90,242.02 L684.07,242.61 L684.24,243.19 L684.41,243.75 L684.59,244.28 L684.77,244.79 L684.96,245.27 L685.17,245.73 L685.39,246.16 L685.62,246.55 L685.87,246.92 L686.14,247.24 L686.43,247.53 L686.73,247.78 L687.05,247.98 L687.38,248.14 L687.70,248.23 L688.02,248.27 L688.33,248.24 L688.63,248.15 L688.92,247.99 L689.20,247.77 L689.46,247.51 L689.73,247.22 L689.99,246.90 L690.26,246.57 L690.53,246.23 L690.81,245.90 L691.10,245.59 L691.40,245.31 L691.71,245.06 L692.02,244.84 L692.34,244.67 L692.65,244.55 L692.95,244.49 L693.24,244.49 L693.52,244.56 L693.78,244.70 L694.03,244.90 L694.27,245.16 L694.49,245.46 L694.71,245.82 L694.91,246.22 L695.10,246.65 L695.28,247.12 L695.46,247.61 L695.63,248.14 L695.79,248.68 L695.94,249.26 L696.09,249.86 L696.23,250.48 L696.37,251.12 L696.50,251.78 L696.63,252.46 L696.76,253.16 L696.88,253.88 L697.01,254.62 L697.12,255.37 L697.24,256.13 L697.36,256.90 L697.48,257.69 L697.60,258.49 L697.71,259.30 L697.83,260.11 L697.94,260.93 L698.06,261.76 L698.18,262.59 L698.29,263.43 L698.41,264.27 L698.52,265.11 L698.64,265.95 L698.76,266.79 L698.87,267.62 L698.99,268.45 L699.11,269.28 L699.22,270.11 L699.34,270.92 L699.46,271.73 L699.58,272.53 L699.70,273.32 L699.82,274.10 L699.94,274.87 L700.06,275.63 L700.18,276.39 L700.30,277.14 L700.42,277.88 L700.54,278.62 L700.67,279.36 L700.79,280.08 L700.91,280.81 L701.04,281.53 L701.16,282.25 L701.29,282.96 L701.42,283.68 L701.54,284.39 L701.67,285.10 L701.80,285.81 L701.93,286.52 L702.06,287.23 L702.18,287.94 L702.31,288.66 L702.44,289.38 L702.57,290.10 L702.69,290.82 L702.82,291.56 L702.94,292.29 L703.07,293.04 L703.19,293.79 L703.31,294.55 L703.43,295.31 L703.54,296.09 L703.65,296.88 L703.77,297.67 L703.87,298.48 L703.98,299.30 L704.08,300.12 L704.19,300.95 L704.29,301.79 L704.39,302.63 L704.49,303.48 L704.58,304.33 L704.68,305.18 L704.78,306.04 L704.87,306.89 L704.97,307.74 L705.06,308.59 L705.16,309.43 L705.25,310.27 L705.35,311.11 L705.45,311.94 L705.55,312.76 L705.65,313.57 L705.75,314.38 L705.85,315.17 L705.95,315.96 L706.06,316.74 L706.16,317.51 L706.27,318.27 L706.38,319.03 L706.49,319.78 L706.60,320.52 L706.71,321.26 L706.83,321.99 L706.94,322.71 L707.06,323.44 L707.17,324.15 L707.29,324.86 L707.41,325.57 L707.53,326.27 L707.65,326.98 L707.77,327.67 L707.90,328.36 L708.02,329.05 L708.15,329.74 L708.28,330.42 L708.41,331.10 L708.54,331.77 L708.68,332.43 L708.82,333.10 L708.96,333.75 L709.10,334.40 L709.25,335.05 L709.40,335.69 L709.56,336.33 L709.71,336.95 L709.88,337.58 L710.04,338.20 L710.21,338.81 L710.38,339.43 L710.55,340.03 L710.72,340.64 L710.89,341.25 L711.06,341.85 L711.23,342.46 L711.40,343.06 L711.57,343.67 L711.73,344.28 L711.89,344.89 L712.05,345.50 L712.21,346.12 L712.36,346.74 L712.52,347.36 L712.67,347.97 L712.83,348.58 L712.99,349.19 L713.15,349.78 L713.32,350.37 L713.50,350.94 L713.68,351.50 L713.88,352.05 L714.08,352.57 L714.30,353.08 L714.53,353.57 L714.77,354.03 L715.03,354.47 L715.29,354.90 L715.56,355.30 L715.84,355.68 L716.11,356.04 L716.39,356.39 L716.67,356.71 L716.94,357.02 L717.21,357.31 L717.47,357.58 L717.72,357.84 L717.96,358.10 L718.20,358.36 L718.44,358.63 L718.67,358.92 L718.89,359.22 L719.11,359.56 L719.33,359.92 L719.54,360.33 L719.75,360.76 L719.95,361.23 L720.15,361.72 L720.35,362.23 L720.53,362.77 L720.71,363.32 L720.89,363.89 L721.06,364.47 L721.22,365.06 L721.37,365.65 L721.51,366.25 L721.65,366.85 L721.78,367.45 L721.90,368.05 L722.01,368.65 L722.12,369.25 L722.22,369.84 L722.32,370.43 L722.42,371.02 L722.51,371.60 L722.60,372.18 L722.69,372.75 L722.78,373.31 L722.86,373.87 L722.95,374.42 L723.04,374.96 L723.13,375.50 L723.22,376.04 L723.31,376.58 L723.40,377.13 L723.49,377.69 L723.58,378.25 L723.67,378.84 L723.76,379.44 L723.85,380.06 L723.94,380.70 L724.02,381.38 L724.11,382.08 L724.19,382.81 L724.28,383.58 L724.36,384.37 L724.44,385.19 L724.52,386.03 L724.60,386.90 L724.68,387.79 L724.76,388.69 L724.83,389.61 L724.91,390.55 L724.99,391.50 L725.06,392.46 L725.14,393.43 L725.21,394.40 L725.28,395.38 L725.36,396.36 L725.43,397.34 L725.51,398.32 L725.58,399.30 L725.65,400.27 L725.73,401.24 L725.80,402.19 L725.87,403.14 L725.95,404.08 L726.02,405.01 L726.10,405.93 L726.17,406.85 L726.25,407.75 L726.32,408.65 L726.40,409.53 L726.48,410.41 L726.56,411.28 L726.64,412.15 L726.72,413.00 L726.80,413.85 L726.89,414.68 L726.97,415.51 L727.06,416.34 L727.15,417.15 L727.24,417.95 L727.33,418.75 L727.42,419.54 L727.52,420.32 L727.62,421.09 L727.72,421.85 L727.83,422.59 L727.94,423.33 L728.05,424.05 L728.18,424.76 L728.31,425.45 L728.44,426.13 L728.59,426.79 L728.74,427.44 L728.90,428.06 L729.07,428.67 L729.25,429.26 L729.44,429.83 L729.65,430.37 L729.86,430.89 L730.08,431.36 L730.31,431.79 L730.55,432.16 L730.79,432.46 L731.04,432.69 L731.30,432.84 L731.56,432.90 L731.82,432.86 L732.08,432.73 L732.35,432.51 L732.61,432.22 L732.87,431.85 L733.13,431.43 L733.38,430.95 L733.62,430.42 L733.86,429.85 L734.08,429.25 L734.29,428.64 L734.48,428.00 L734.67,427.34 L734.84,426.67 L735.00,425.98 L735.15,425.27 L735.30,424.55 L735.43,423.81 L735.56,423.05 L735.68,422.28 L735.79,421.49 L735.90,420.68 L736.00,419.86 L736.10,419.03 L736.20,418.18 L736.29,417.32 L736.38,416.44 L736.47,415.55 L736.57,414.65 L736.66,413.73 L736.75,412.80 L736.84,411.86 L736.94,410.91 L737.03,409.96 L737.12,409.00 L737.22,408.03 L737.31,407.06 L737.40,406.08 L737.50,405.10 L737.59,404.12 L737.68,403.15 L737.77,402.17 L737.87,401.20 L737.96,400.23 L738.05,399.26 L738.14,398.31 L738.23,397.35 L738.32,396.41 L738.41,395.48 L738.49,394.56 L738.58,393.65 L738.67,392.76 L738.76,391.88 L738.85,391.01 L738.94,390.16 L739.04,389.33 L739.14,388.52 L739.24,387.73 L739.35,386.97 L739.47,386.22 L739.59,385.50 L739.73,384.81 L739.87,384.14 L740.02,383.50 L740.18,382.89 L740.36,382.31 L740.54,381.76 L740.74,381.24 L740.95,380.76 L741.17,380.33 L741.40,379.96 L741.64,379.65 L741.87,379.41 L742.11,379.26 L742.35,379.19 L742.59,379.22 L742.82,379.36 L743.04,379.58 L743.26,379.90 L743.48,380.28 L743.69,380.74 L743.89,381.26 L744.09,381.84 L744.29,382.46 L744.48,383.11 L744.66,383.80 L744.83,384.51 L745.00,385.24 L745.16,385.97 L745.32,386.72 L745.47,387.47 L745.61,388.24 L745.76,389.01 L745.89,389.79 L746.02,390.58 L746.15,391.37 L746.28,392.17 L746.40,392.98 L746.52,393.79 L746.64,394.61 L746.76,395.43 L746.87,396.25 L746.99,397.08 L747.11,397.91 L747.22,398.74 L747.34,399.57 L747.46,400.40 L747.57,401.24 L747.69,402.07 L747.81,402.90 L747.94,403.72 L748.06,404.54 L748.19,405.36 L748.31,406.17 L748.44,406.98 L748.57,407.77 L748.71,408.56 L748.84,409.34 L748.98,410.11 L749.12,410.87 L749.27,411.62 L749.41,412.35 L749.56,413.07 L749.72,413.78 L749.87,414.47 L750.04,415.15 L750.20,415.79 L750.37,416.42 L750.55,417.01 L750.73,417.57 L750.92,418.09 L751.12,418.57 L751.33,419.01 L751.55,419.40 L751.78,419.74 L752.02,420.02 L752.27,420.24 L752.52,420.40 L752.79,420.49 L753.06,420.52 L753.33,420.48 L753.60,420.37 L753.86,420.18 L754.11,419.92 L754.36,419.61 L754.61,419.26 L754.85,418.89 L755.10,418.50 L755.35,418.12 L755.61,417.76 L755.87,417.44 L756.15,417.16 L756.43,416.94 L756.72,416.78 L757.01,416.68 L757.30,416.64 L757.59,416.66 L757.87,416.74 L758.14,416.88 L758.40,417.08 L758.64,417.33 L758.88,417.63 L759.11,417.96 L759.33,418.33 L759.55,418.72 L759.76,419.13 L759.97,419.55 L760.19,419.97 L760.40,420.40 L760.61,420.83 L760.82,421.26 L761.02,421.70 L761.22,422.14 L761.42,422.60 L761.61,423.06 L761.80,423.54 L761.98,424.02 L762.15,424.52 L762.31,425.04 L762.46,425.57 L762.61,426.12 L762.74,426.69 L762.87,427.27 L762.99,427.86 L763.11,428.47 L763.21,429.09 L763.32,429.73 L763.41,430.38 L763.51,431.04 L763.60,431.71 L763.69,432.40 L763.78,433.10 L763.86,433.81 L763.95,434.53 L764.04,435.26 L764.12,436.00 L764.21,436.74 L764.29,437.50 L764.38,438.26 L764.46,439.03 L764.55,439.80 L764.63,440.58 L764.72,441.36 L764.80,442.14 L764.89,442.93 L764.97,443.71 L765.06,444.50 L765.15,445.28 L765.23,446.06 L765.32,446.84 L765.40,447.62 L765.49,448.39 L765.57,449.16 L765.66,449.93 L765.75,450.69 L765.83,451.45 L765.92,452.21 L766.01,452.97 L766.09,453.73 L766.18,454.50 L766.26,455.26 L766.35,456.03 L766.43,456.80 L766.52,457.57 L766.60,458.35 L766.69,459.13 L766.77,459.92 L766.85,460.72 L766.93,461.52 L767.01,462.33 L767.09,463.14 L767.17,463.97 L767.25,464.80 L767.33,465.63 L767.41,466.47 L767.49,467.32 L767.57,468.17 L767.64,469.02 L767.72,469.88 L767.80,470.74 L767.87,471.60 L767.95,472.47 L768.02,473.34 L768.10,474.21 L768.17,475.08 L768.25,475.95 L768.32,476.82 L768.40,477.69 L768.47,478.57 L768.55,479.44 L768.63,480.31 L768.70,481.18 L768.78,482.05 L768.85,482.91 L768.93,483.78 L769.00,484.64 L769.08,485.50 L769.16,486.36 L769.23,487.21 L769.31,488.06 L769.39,488.91 L769.47,489.76 L769.54,490.60 L769.62,491.44 L769.70,492.27 L769.78,493.10 L769.86,493.92 L769.94,494.74 L770.03,495.55 L770.11,496.36 L770.19,497.16 L770.27,497.95 L770.36,498.73 L770.44,499.51 L770.52,500.28 L770.61,501.04 L770.69,501.78 L770.77,502.52 L770.85,503.24 L770.94,503.96 L771.02,504.66 L771.10,505.34 L771.18,506.02 L771.26,506.68 L771.34,507.32 L771.42,507.95 L771.50,508.55 L771.58,509.14 L771.68,509.71 L771.77,510.25 L771.88,510.77 L772.00,511.26 L772.14,511.71 L772.28,512.14 L772.45,512.53 L772.63,512.89 L772.84,513.21 L773.06,513.50 L773.30,513.76 L773.55,514.00 L773.80,514.24 L774.05,514.48 L774.29,514.73 L774.52,515.00 L774.74,515.29 L774.94,515.61 L775.12,515.96 L775.30,516.33 L775.45,516.73 L775.60,517.15 L775.73,517.58 L775.86,518.04 L775.97,518.51 L776.08,519.00 L776.18,519.50 L776.27,520.01 L776.36,520.54 L776.45,521.08 L776.53,521.64 L776.60,522.20 L776.67,522.79 L776.74,523.38 L776.81,524.00 L776.87,524.62 L776.93,525.26 L776.99,525.92 L777.05,526.59 L777.12,527.28 L777.18,527.98 L777.24,528.68 L777.31,529.37 L777.38,530.04 L777.45,530.67 L777.53,531.26 L777.62,531.78 L777.71,532.24 L777.81,532.61 L777.92,532.89 L778.04,533.06 L778.17,533.11 L778.31,533.05 L778.45,532.87 L778.60,532.61 L778.74,532.27 L778.89,531.86 L779.02,531.40 L779.15,530.91 L779.26,530.38 L779.36,529.82 L779.45,529.24 L779.53,528.64 L779.60,528.02 L779.67,527.38 L779.73,526.73 L779.79,526.08 L779.84,525.41 L779.90,524.74 L779.95,524.07 L780.00,523.40 L780.05,522.73 L780.10,522.08 L780.16,521.43 L780.22,520.79 L780.28,520.15 L780.35,519.53 L780.42,518.90 L780.49,518.28 L780.56,517.67 L780.63,517.05 L780.71,516.43 L780.78,515.82 L780.85,515.19 L780.93,514.57 L781.00,513.94 L781.08,513.30 L781.15,512.65 L781.22,511.99 L781.29,511.33 L781.36,510.65 L781.43,509.96 L781.50,509.27 L781.57,508.56 L781.64,507.84 L781.71,507.10 L781.78,506.36 L781.85,505.60 L781.92,504.82 L781.99,504.03 L782.06,503.23 L782.13,502.41 L782.21,501.58 L782.28,500.73 L782.36,499.86 L782.43,498.97 L782.51,498.07 L782.59,497.16 L782.67,496.23 L782.75,495.30 L782.83,494.35 L782.92,493.39 L783.00,492.42 L783.09,491.44 L783.17,490.46 L783.26,489.47 L783.35,488.48 L783.44,487.48 L783.53,486.48 L783.62,485.48 L783.71,484.48 L783.80,483.48 L783.89,482.48 L783.99,481.48 L784.08,480.49 L784.17,479.50 L784.27,478.51 L784.36,477.54 L784.45,476.57 L784.55,475.60 L784.65,474.64 L784.74,473.69 L784.84,472.74 L784.94,471.79 L785.04,470.86 L785.14,469.92 L785.24,469.00 L785.34,468.08 L785.45,467.16 L785.55,466.25 L785.66,465.34 L785.77,464.44 L785.88,463.55 L785.99,462.65 L786.11,461.77 L786.22,460.89 L786.34,460.01 L786.46,459.14 L786.59,458.27 L786.71,457.41 L786.84,456.55 L786.97,455.70 L787.09,454.86 L787.22,454.02 L787.35,453.19 L787.48,452.37 L787.61,451.55 L787.74,450.74 L787.86,449.95 L787.99,449.16 L788.11,448.38 L788.23,447.60 L788.35,446.84 L788.47,446.09 L788.59,445.35 L788.70,444.63 L788.80,443.91 L788.91,443.20 L789.01,442.51 L789.12,441.83 L789.22,441.17 L789.33,440.52 L789.44,439.88 L789.56,439.25 L789.68,438.65 L789.81,438.05 L789.94,437.48 L790.09,436.91 L790.25,436.37 L790.42,435.84 L790.60,435.34 L790.79,434.85 L791.00,434.40 L791.21,433.99 L791.43,433.63 L791.66,433.33 L791.90,433.10 L792.13,432.96 L792.37,432.90 L792.60,432.94 L792.84,433.08 L793.07,433.30 L793.29,433.59 L793.51,433.96 L793.72,434.39 L793.93,434.87 L794.12,435.39 L794.30,435.95 L794.46,436.54 L794.62,437.14 L794.76,437.77 L794.88,438.42 L795.00,439.10 L795.10,439.79 L795.20,440.49 L795.29,441.22 L795.37,441.97 L795.44,442.73 L795.51,443.51 L795.58,444.30 L795.64,445.11 L795.69,445.93 L795.75,446.77 L795.81,447.62 L795.86,448.48 L795.92,449.35 L795.97,450.24 L796.03,451.13 L796.09,452.04 L796.16,452.95 L796.22,453.88 L796.28,454.81 L796.35,455.76 L796.42,456.71 L796.48,457.66 L796.55,458.63 L796.62,459.60 L796.69,460.58 L796.76,461.56 L796.84,462.54 L796.91,463.54 L796.98,464.53 L797.06,465.53 L797.13,466.54 L797.20,467.54 L797.28,468.55 L797.35,469.56 L797.43,470.57 L797.50,471.58 L797.58,472.59 L797.65,473.60 L797.72,474.61 L797.80,475.62 L797.87,476.62 L797.95,477.62 L798.02,478.62 L798.09,479.61 L798.16,480.59 L798.23,481.57 L798.30,482.53 L798.37,483.49 L798.44,484.44 L798.50,485.39 L798.57,486.31 L798.63,487.23 L798.69,488.14 L798.75,489.03 L798.81,489.91 L798.87,490.77 L798.93,491.62 L798.98,492.45 L799.04,493.27 L799.09,494.07 L799.14,494.85 L799.19,495.62 L799.25,496.37 L799.30,497.11 L799.36,497.83 L799.42,498.54 L799.48,499.23 L799.54,499.91 L799.61,500.57 L799.67,501.21 L799.75,501.84 L799.83,502.46 L799.91,503.06 L800.00,503.64 L800.09,504.19 L800.19,504.69 L800.29,505.13 L800.40,505.50 L800.51,505.78 L800.63,505.96 L800.76,506.01 L800.89,505.93 L801.02,505.73 L801.16,505.42 L801.30,505.03 L801.44,504.57 L801.57,504.06 L801.71,503.53 L801.83,502.99 L801.95,502.46 L802.07,501.96 L802.17,501.51 L802.26,501.11 L802.36,500.77 L802.47,500.48 L802.59,500.23 L802.74,500.03 L802.92,499.86 L803.14,499.72 L803.40,499.61 L803.68,499.52 L803.98,499.43 L804.29,499.33 L804.60,499.21 L804.89,499.07 L805.16,498.88 L805.42,498.65 L805.65,498.39 L805.87,498.09 L806.08,497.76 L806.29,497.41 L806.50,497.05 L806.72,496.67 L806.95,496.29 L807.19,495.90 L807.45,495.53 L807.71,495.19 L807.98,494.89 L808.25,494.66 L808.52,494.50 L808.77,494.45 L809.01,494.51 L809.23,494.68 L809.43,494.95 L809.62,495.25 L809.78,495.55 L809.92,495.81 L810.05,495.97 L810.16,496.00 L810.24,495.88 L810.32,495.63 L810.38,495.26 L810.42,494.80 L810.46,494.26 L810.49,493.65 L810.52,492.98 L810.54,492.29 L810.56,491.58 L810.58,490.86 L810.60,490.17 L810.63,489.50 L810.66,488.85 L810.70,488.24 L810.75,487.64 L810.80,487.07 L810.86,486.51 L810.93,485.98 L811.01,485.45 L811.10,484.94 L811.19,484.43 L811.30,483.94 L811.41,483.44 L811.54,482.95 L811.68,482.47 L811.82,482.00 L811.98,481.57 L812.14,481.18 L812.30,480.86 L812.47,480.61 L812.64,480.45 L812.81,480.40 L812.97,480.46 L813.14,480.62 L813.29,480.87 L813.45,481.20 L813.59,481.60 L813.73,482.04 L813.86,482.52 L813.98,483.03 L814.09,483.54 L814.19,484.06 L814.28,484.59 L814.37,485.13 L814.45,485.68 L814.52,486.23 L814.59,486.79 L814.66,487.35 L814.72,487.92 L814.79,488.50 L814.86,489.08 L814.93,489.66 L815.01,490.25 L815.09,490.85 L815.17,491.45 L815.27,492.06 L815.36,492.66 L815.46,493.28 L815.56,493.90 L815.67,494.52 L815.78,495.15 L815.89,495.78 L816.00,496.41 L816.11,497.05 L816.23,497.70 L816.35,498.35 L816.46,499.00 L816.58,499.66 L816.70,500.32 L816.82,500.98 L816.94,501.65 L817.06,502.32 L817.19,502.99 L817.31,503.66 L817.44,504.33 L817.58,505.00 L817.71,505.67 L817.85,506.34 L818.00,507.01 L818.15,507.68 L818.31,508.34 L818.47,509.00 L818.64,509.66 L818.82,510.31 L819.00,510.94 L819.18,511.54 L819.37,512.10 L819.56,512.61 L819.74,513.05 L819.93,513.43 L820.11,513.72 L820.28,513.91 L820.45,514.00 L820.61,513.97 L820.77,513.83 L820.91,513.59 L821.05,513.27 L821.18,512.88 L821.30,512.43 L821.41,511.94 L821.52,511.43 L821.62,510.90 L821.71,510.37 L821.79,509.83 L821.87,509.30 L821.95,508.76 L822.02,508.23 L822.08,507.69 L822.14,507.16 L822.20,506.62 L822.25,506.09 L822.30,505.56 L822.35,505.03 L822.40,504.51 L822.45,503.98 L822.50,503.47 L822.55,502.97 L822.62,502.50 L822.69,502.04 L822.78,501.62 L822.89,501.23 L823.02,500.89 L823.17,500.59 L823.34,500.35 L823.54,500.16 L823.77,500.03 L824.01,499.96 L824.26,499.94 L824.51,499.98 L824.77,500.07 L825.02,500.19 L825.26,500.33 L825.49,500.44 L825.71,500.51 L825.91,500.50 L826.09,500.39 L826.25,500.19 L826.39,499.90 L826.52,499.55 L826.65,499.14 L826.76,498.68 L826.88,498.19 L826.99,497.67 L827.11,497.14 L827.24,496.61 L827.37,496.07 L827.51,495.53 L827.65,494.98 L827.80,494.44 L827.95,493.89 L828.11,493.34 L828.27,492.80 L828.44,492.25 L828.61,491.70 L828.78,491.15 L828.96,490.61 L829.15,490.06 L829.33,489.52 L829.52,488.98 L829.71,488.44 L829.90,487.90 L830.10,487.36 L830.29,486.82 L830.49,486.27 L830.68,485.73 L830.88,485.19 L831.07,484.65 L831.26,484.10 L831.45,483.55 L831.63,483.00 L831.81,482.45 L831.99,481.90 L832.17,481.36 L832.34,480.81 L832.51,480.28 L832.68,479.76 L832.84,479.25 L833.00,478.77 L833.16,478.29 L833.32,477.85 L833.48,477.42 L833.63,477.03 L833.78,476.66 L833.93,476.32 L834.09,476.01 L834.25,475.72 L834.42,475.46 L834.61,475.21 L834.81,474.99 L835.03,474.79 L835.26,474.59 L835.50,474.40 L835.75,474.22 L835.99,474.02 L836.24,473.80 L836.47,473.56 L836.68,473.29 L836.88,472.98 L837.06,472.64 L837.22,472.27 L837.38,471.87 L837.52,471.44 L837.65,470.99 L837.77,470.52 L837.89,470.02 L838.01,469.51 L838.13,468.98 L838.24,468.44 L838.35,467.89 L838.47,467.34 L838.59,466.78 L838.70,466.23 L838.82,465.67 L838.94,465.13 L839.07,464.59 L839.19,464.08 L839.32,463.57 L839.45,463.09 L839.59,462.64 L839.73,462.21 L839.87,461.81 L840.02,461.43 L840.18,461.08 L840.35,460.74 L840.53,460.43 L840.72,460.12 L840.92,459.83 L841.14,459.55 L841.38,459.28 L841.62,459.02 L841.88,458.78 L842.15,458.56 L842.42,458.36 L842.70,458.19 L842.98,458.05 L843.25,457.95 L843.52,457.88 L843.79,457.86 L844.04,457.88 L844.29,457.95 L844.53,458.06 L844.76,458.22 L844.98,458.43 L845.19,458.67 L845.39,458.94 L845.58,459.23 L845.77,459.54 L845.95,459.85 L846.13,460.15 L846.31,460.45 L846.48,460.75 L846.64,461.04 L846.80,461.35 L846.95,461.67 L847.08,462.02 L847.20,462.39 L847.30,462.79 L847.38,463.23 L847.45,463.70 L847.50,464.20 L847.55,464.71 L847.59,465.23 L847.62,465.75 L847.66,466.27 L847.71,466.77 L847.76,467.24 L847.82,467.68 L847.90,468.09 L847.99,468.45 L848.10,468.77 L848.23,469.06 L848.37,469.33 L848.53,469.58 L848.69,469.82 L848.87,470.06 L849.06,470.31 L849.25,470.56 L849.45,470.83 L849.64,471.11 L849.84,471.40 L850.03,471.71 L850.22,472.04 L850.39,472.38 L850.55,472.75 L850.70,473.13 L850.85,473.53 L850.98,473.95 L851.10,474.39 L851.22,474.84 L851.33,475.31 L851.44,475.79 L851.54,476.29 L851.64,476.80 L851.74,477.32 L851.84,477.85 L851.95,478.40 L852.05,478.95 L852.15,479.52 L852.25,480.09 L852.34,480.67 L852.44,481.27 L852.54,481.87 L852.63,482.48 L852.72,483.10 L852.81,483.73 L852.90,484.36 L852.99,485.01 L853.07,485.66 L853.15,486.31 L853.23,486.98 L853.31,487.65 L853.38,488.32 L853.46,489.00 L853.53,489.69 L853.61,490.38 L853.68,491.08 L853.75,491.78 L853.82,492.48 L853.90,493.19 L853.97,493.90 L854.05,494.61 L854.13,495.33 L854.21,496.05 L854.29,496.77 L854.37,497.50 L854.45,498.22 L854.54,498.95 L854.63,499.67 L854.72,500.40 L854.81,501.13 L854.90,501.85 L854.99,502.58 L855.09,503.31 L855.18,504.03 L855.27,504.76 L855.37,505.48 L855.46,506.20 L855.56,506.92 L855.65,507.64 L855.75,508.35 L855.84,509.06 L855.93,509.77 L856.03,510.48 L856.12,511.18 L856.21,511.89 L856.31,512.58 L856.40,513.28 L856.49,513.98 L856.59,514.67 L856.68,515.36 L856.78,516.05 L856.87,516.74 L856.97,517.42 L857.06,518.11 L857.16,518.79 L857.25,519.47 L857.35,520.15 L857.45,520.82 L857.55,521.47 L857.65,522.11 L857.76,522.73 L857.87,523.32 L857.99,523.88 L858.11,524.40 L858.24,524.88 L858.38,525.32 L858.52,525.70 L858.67,526.04 L858.83,526.31 L858.99,526.54 L859.17,526.72 L859.35,526.87 L859.53,527.00 L859.72,527.11 L859.92,527.23 L860.11,527.36 L860.30,527.50 L860.47,527.68 L860.64,527.90 L860.79,528.17 L860.91,528.49 L861.03,528.86 L861.13,529.28 L861.22,529.73 L861.30,530.21 L861.38,530.73 L861.45,531.26 L861.53,531.81 L861.60,532.38 L861.68,532.95 L861.76,533.52 L861.85,534.09 L861.95,534.66 L862.06,535.22 L862.16,535.79 L862.28,536.35 L862.40,536.91 L862.52,537.46 L862.65,538.01 L862.78,538.55 L862.91,539.09 L863.05,539.62 L863.18,540.14 L863.32,540.66 L863.46,541.16 L863.60,541.66 L863.75,542.14 L863.89,542.62 L864.03,543.08 L864.16,543.53 L864.30,543.97 L864.44,544.39 L864.57,544.80 L864.70,545.20" stroke="#000" stroke-width="1.65"/>
</g>
<path d="M135.45,121.45 V553.40 M864.60,121.45 V553.40 M135.45,121.45 H864.60 M135.45,553.40 H864.60 M128.35,553.40 H135.45 M131.85,544.76 H135.45 M131.85,536.12 H135.45 M131.85,527.48 H135.45 M131.85,518.84 H135.45 M128.35,510.20 H135.45 M131.85,501.57 H135.45 M131.85,492.93 H135.45 M131.85,484.29 H135.45 M131.85,475.65 H135.45 M128.35,467.01 H135.45 M131.85,458.37 H135.45 M131.85,449.73 H135.45 M131.85,441.09 H135.45 M131.85,432.45 H135.45 M128.35,423.81 H135.45 M131.85,415.18 H135.45 M131.85,406.54 H135.45 M131.85,397.90 H135.45 M131.85,389.26 H135.45 M128.35,380.62 H135.45 M131.85,371.98 H135.45 M131.85,363.34 H135.45 M131.85,354.70 H135.45 M131.85,346.06 H135.45 M128.35,337.42 H135.45 M131.85,328.79 H135.45 M131.85,320.15 H135.45 M131.85,311.51 H135.45 M131.85,302.87 H135.45 M128.35,294.23 H135.45 M131.85,285.59 H135.45 M131.85,276.95 H135.45 M131.85,268.31 H135.45 M131.85,259.67 H135.45 M128.35,251.03 H135.45 M131.85,242.40 H135.45 M131.85,233.76 H135.45 M131.85,225.12 H135.45 M131.85,216.48 H135.45 M128.35,207.84 H135.45 M131.85,199.20 H135.45 M131.85,190.56 H135.45 M131.85,181.92 H135.45 M131.85,173.28 H135.45 M128.35,164.64 H135.45 M131.85,156.01 H135.45 M131.85,147.37 H135.45 M131.85,138.73 H135.45 M131.85,130.09 H135.45 M128.35,121.45 H135.45 M864.60,553.40 H871.40 M864.60,524.60 H868.00 M864.60,495.81 H871.40 M864.60,467.01 H868.00 M864.60,438.21 H871.40 M864.60,409.42 H868.00 M864.60,380.62 H871.40 M864.60,351.82 H868.00 M864.60,323.03 H871.40 M864.60,294.23 H868.00 M864.60,265.43 H871.40 M864.60,236.64 H868.00 M864.60,207.84 H871.40 M864.60,179.04 H868.00 M864.60,150.25 H871.40 M864.60,121.45 H868.00 M135.45,553.40 V559.90 M305.33,553.40 V559.90 M548.38,553.40 V559.90 M791.43,553.40 V559.90" fill="none" stroke="#7d7d7d" stroke-width="1.1"/>
<text transform="translate(125.40,558.65) rotate(0.05) scale(1,1.000)" font-size="15.30" text-anchor="end" stroke="#000" stroke-width="0.20">60</text>
<text transform="translate(125.40,515.45) rotate(0.05) scale(1,1.000)" font-size="15.30" text-anchor="end" stroke="#000" stroke-width="0.20">65</text>
<text transform="translate(125.40,472.26) rotate(0.05) scale(1,1.000)" font-size="15.30" text-anchor="end" stroke="#000" stroke-width="0.20">70</text>
<text transform="translate(125.40,429.06) rotate(0.05) scale(1,1.000)" font-size="15.30" text-anchor="end" stroke="#000" stroke-width="0.20">75</text>
<text transform="translate(125.40,385.87) rotate(0.05) scale(1,1.000)" font-size="15.30" text-anchor="end" stroke="#000" stroke-width="0.20">80</text>
<text transform="translate(125.40,342.67) rotate(0.05) scale(1,1.000)" font-size="15.30" text-anchor="end" stroke="#000" stroke-width="0.20">85</text>
<text transform="translate(125.40,299.48) rotate(0.05) scale(1,1.000)" font-size="15.30" text-anchor="end" stroke="#000" stroke-width="0.20">90</text>
<text transform="translate(125.40,256.28) rotate(0.05) scale(1,1.000)" font-size="15.30" text-anchor="end" stroke="#000" stroke-width="0.20">95</text>
<text transform="translate(125.40,213.09) rotate(0.05) scale(1,1.000)" font-size="15.30" text-anchor="end" stroke="#000" stroke-width="0.20">100</text>
<text transform="translate(125.40,169.89) rotate(0.05) scale(1,1.000)" font-size="15.30" text-anchor="end" stroke="#000" stroke-width="0.20">105</text>
<text transform="translate(125.40,126.70) rotate(0.05) scale(1,1.000)" font-size="15.30" text-anchor="end" stroke="#000" stroke-width="0.20">110</text>
<text transform="translate(874.70,558.65) rotate(0.05) scale(1,1.000)" font-size="15.30" text-anchor="start" stroke="#000" stroke-width="0.20">0</text>
<text transform="translate(874.70,501.06) rotate(0.05) scale(1,1.000)" font-size="15.30" text-anchor="start" stroke="#000" stroke-width="0.20">20</text>
<text transform="translate(874.70,443.46) rotate(0.05) scale(1,1.000)" font-size="15.30" text-anchor="start" stroke="#000" stroke-width="0.20">40</text>
<text transform="translate(874.70,385.87) rotate(0.05) scale(1,1.000)" font-size="15.30" text-anchor="start" stroke="#000" stroke-width="0.20">60</text>
<text transform="translate(874.70,328.28) rotate(0.05) scale(1,1.000)" font-size="15.30" text-anchor="start" stroke="#000" stroke-width="0.20">80</text>
<text transform="translate(874.70,270.68) rotate(0.05) scale(1,1.000)" font-size="15.30" text-anchor="start" stroke="#000" stroke-width="0.20">100</text>
<text transform="translate(874.70,213.09) rotate(0.05) scale(1,1.000)" font-size="15.30" text-anchor="start" stroke="#000" stroke-width="0.20">120</text>
<text transform="translate(874.70,155.50) rotate(0.05) scale(1,1.000)" font-size="15.30" text-anchor="start" stroke="#000" stroke-width="0.20">140</text>
<text transform="translate(135.45,575.10) rotate(0.05) scale(1,1.000)" font-size="15.30" text-anchor="middle" stroke="#000" stroke-width="0.20">20</text>
<text transform="translate(305.33,575.10) rotate(0.05) scale(1,1.000)" font-size="15.30" text-anchor="middle" stroke="#000" stroke-width="0.20">100</text>
<text transform="translate(548.38,575.10) rotate(0.05) scale(1,1.000)" font-size="15.30" text-anchor="middle" stroke="#000" stroke-width="0.20">1000</text>
<text transform="translate(791.43,575.10) rotate(0.05) scale(1,1.000)" font-size="15.30" text-anchor="middle" stroke="#000" stroke-width="0.20">10000</text>
<text transform="translate(500.00,603.70) rotate(0.05) scale(1,1.000)" font-size="20.80" text-anchor="middle" stroke="#000" stroke-width="0.20">Frequency (Hz)</text>
<text transform="translate(57.40,337.40) rotate(-89.95) scale(1,1.000)" font-size="20.80" text-anchor="middle" stroke="#000" stroke-width="0.20">SPL (dB) @ 2.83V, 1m, half space</text>
<text transform="translate(916.40,337.60) rotate(90.05) scale(1,1.000)" font-size="20.80" text-anchor="middle" stroke="#000" stroke-width="0.20">Impedance (Ohm)</text>
<rect x="139.4" y="125.7" width="191.2" height="67.3" fill="#fff" stroke="#222" stroke-width="1.1"/>
<path d="M146.6,139 H188.6" stroke="#ea463c" stroke-width="1.7" fill="none"/>
<path d="M146.6,139 H188.6" stroke="#a3241b" stroke-width="0.65" fill="none"/>
<path d="M146.6,160 H188.6" stroke="#000" stroke-width="1.65" fill="none"/>
<path d="M145.7,180.7 H189.5" stroke="#000" stroke-width="1.65" fill="none" stroke-dasharray="8.6 2.67" stroke-dashoffset="5"/>
<text transform="translate(202.60,145.70) rotate(0.05) scale(1,1.000)" font-size="17.30" text-anchor="start" stroke="#000" stroke-width="0.20">Impedance</text>
<text transform="translate(202.60,166.10) rotate(0.05) scale(1,1.000)" font-size="17.30" text-anchor="start" stroke="#000" stroke-width="0.20">on axis</text>
<text transform="translate(202.60,186.50) rotate(0.05) scale(1,1.000)" font-size="17.30" text-anchor="start" stroke="#000" stroke-width="0.20">45° off axis</text>
</svg></body></html>
